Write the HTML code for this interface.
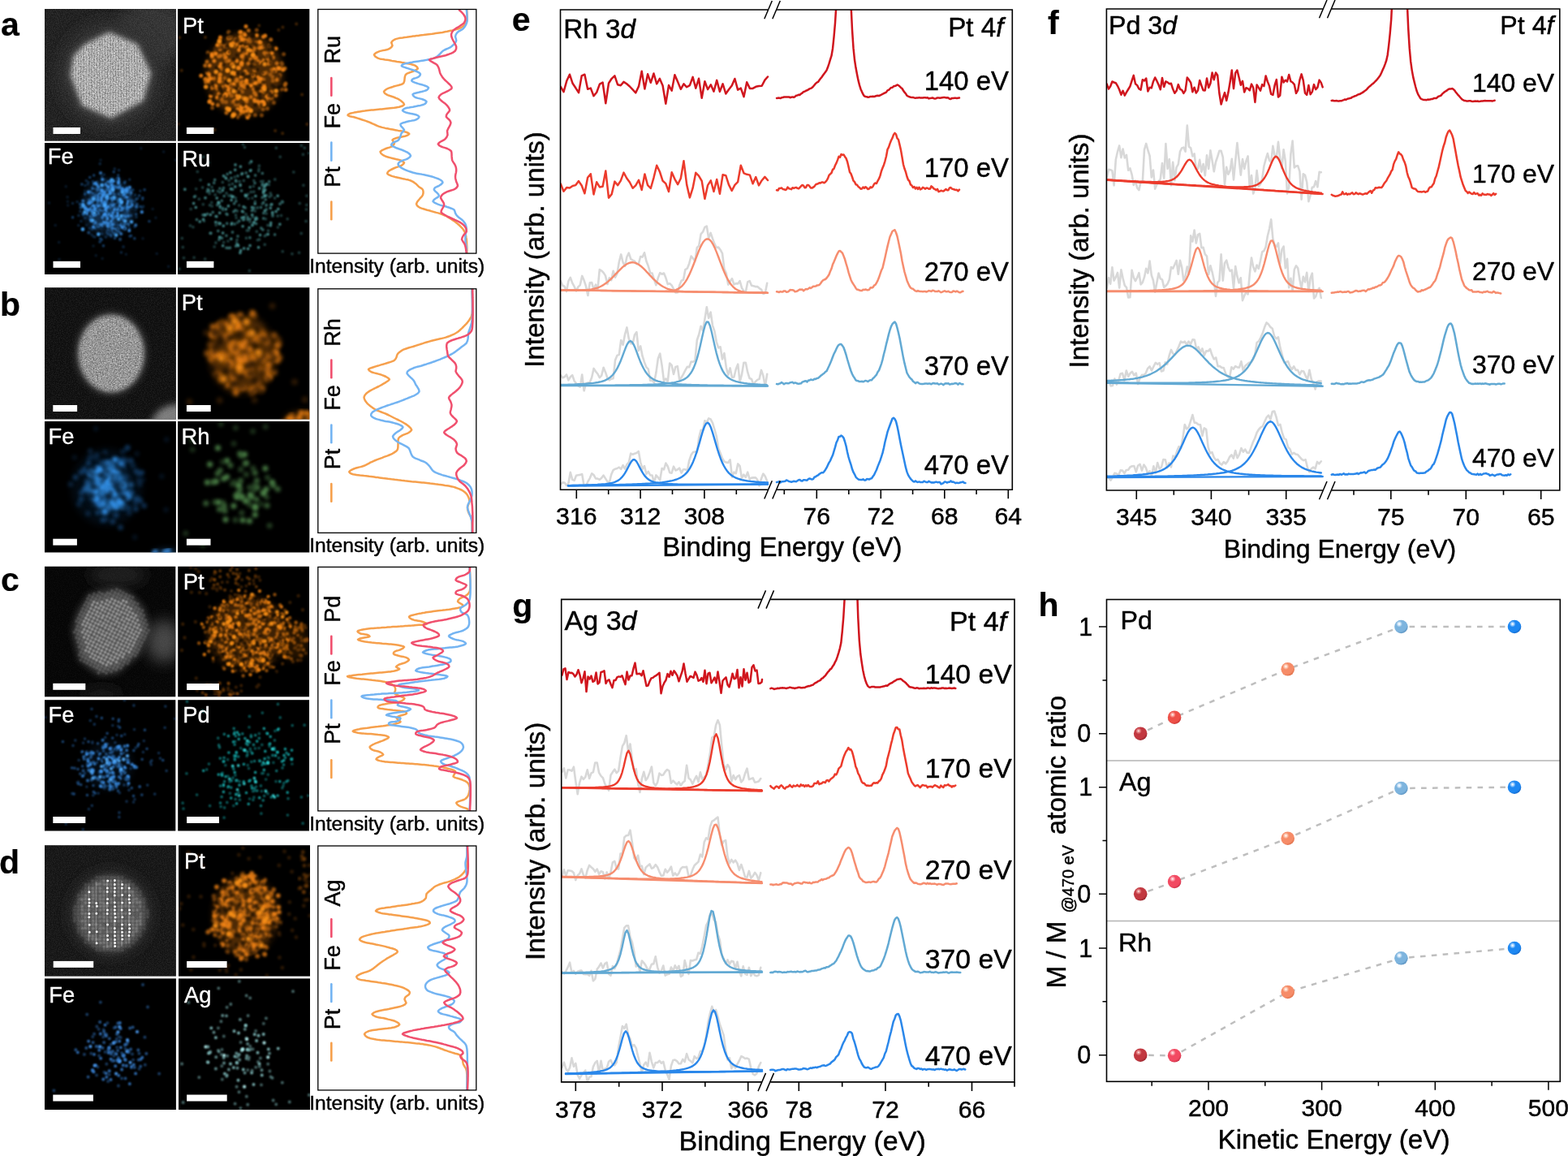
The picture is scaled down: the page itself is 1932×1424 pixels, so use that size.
<!DOCTYPE html>
<html lang="en">
<head>
<meta charset="utf-8">
<title>Figure</title>
<style>
html,body{margin:0;padding:0;background:#fff;}
body{width:1932px;height:1424px;overflow:hidden;}
svg{display:block;font-family:"Liberation Sans",Arial,Helvetica,sans-serif;}
text{stroke:#000;stroke-width:.45px;stroke-linejoin:round;}
text[fill="#fff"]{stroke:#fff;stroke-width:.35px;}
text[font-weight="bold"]{stroke-width:.2px;}
</style>
</head>
<body>
<svg xmlns="http://www.w3.org/2000/svg" width="1932" height="1424" viewBox="0 0 1932 1424">
<rect width="1932" height="1424" fill="#fff"/>
<defs><filter id="bl05" x="-20%" y="-20%" width="140%" height="140%"><feGaussianBlur stdDeviation="0.55"/></filter><filter id="bl07" x="-20%" y="-20%" width="140%" height="140%"><feGaussianBlur stdDeviation="0.8"/></filter><filter id="bl1" x="-20%" y="-20%" width="140%" height="140%"><feGaussianBlur stdDeviation="0.9"/></filter><filter id="bl12" x="-20%" y="-20%" width="140%" height="140%"><feGaussianBlur stdDeviation="1.25"/></filter><filter id="bl15" x="-20%" y="-20%" width="140%" height="140%"><feGaussianBlur stdDeviation="1.6"/></filter><filter id="bl2" x="-20%" y="-20%" width="140%" height="140%"><feGaussianBlur stdDeviation="2"/></filter><filter id="bl25" x="-20%" y="-20%" width="140%" height="140%"><feGaussianBlur stdDeviation="2.4"/></filter><filter id="bl3" x="-20%" y="-20%" width="140%" height="140%"><feGaussianBlur stdDeviation="2.6"/></filter><filter id="bl4" x="-50%" y="-50%" width="200%" height="200%"><feGaussianBlur stdDeviation="4"/></filter><filter id="bl8" x="-100%" y="-100%" width="300%" height="300%"><feGaussianBlur stdDeviation="9"/></filter><filter id="nzw" x="0" y="0" width="100%" height="100%"><feTurbulence type="fractalNoise" baseFrequency="0.75" numOctaves="2" seed="4"/><feColorMatrix type="matrix" values="0 0 0 0 1 0 0 0 0 1 0 0 0 0 1 2.6 0 0 0 -0.9"/></filter><filter id="gw" x="0" y="0" width="100%" height="100%"><feTurbulence type="fractalNoise" baseFrequency="0.6" numOctaves="2" seed="11"/><feColorMatrix type="matrix" values="0 0 0 0 1 0 0 0 0 1 0 0 0 0 1 4 0 0 0 -1.9"/></filter><filter id="gb" x="0" y="0" width="100%" height="100%"><feTurbulence type="fractalNoise" baseFrequency="0.6" numOctaves="2" seed="23"/><feColorMatrix type="matrix" values="0 0 0 0 0 0 0 0 0 0 0 0 0 0 0 4 0 0 0 -1.9"/></filter><pattern id="stripe" width="3.3" height="8" patternUnits="userSpaceOnUse"><rect x="0" y="0" width="1.5" height="8" fill="#000"/></pattern><pattern id="lat1" width="3.6" height="3.6" patternUnits="userSpaceOnUse" patternTransform="rotate(38)"><circle cx="1.8" cy="1.8" r="0.95" fill="#fff"/></pattern><pattern id="lat2" width="4.2" height="4.2" patternUnits="userSpaceOnUse"><circle cx="2.1" cy="2.1" r="1.15" fill="#fff"/></pattern></defs>
<clipPath id="ica1"><rect x="55" y="11" width="161.9" height="162.7"/></clipPath>
<rect x="55" y="11" width="161.9" height="162.7" fill="#1b1b1b"/>
<g clip-path="url(#ica1)" fill="none" stroke-linecap="round">
<ellipse cx="188" cy="40" rx="45" ry="40" fill="#303030" opacity="0.9" filter="url(#bl8)"/>
<ellipse cx="136" cy="92" rx="64" ry="66" fill="#2b2b2b" filter="url(#bl8)"/>
<path d="M103.3,53.2 134.5,37.6 170.6,53.2 188,90.5 178,125.4 137,147.7 99.6,131.6 84.7,93 88.5,68.1Z" fill="#5a5a5a" filter="url(#bl4)"/>
<mask id="ma1"><path d="M105,55.1 134.5,40.3 168.9,55.1 185.4,90.5 175.9,123.7 137,144.9 101.5,129.6 87.3,93 90.9,69.3Z" fill="#fff" filter="url(#bl3)"/></mask>
<g mask="url(#ma1)"><rect x="80" y="30" width="115" height="125" fill="#bcbcbc"/><rect x="80" y="30" width="115" height="125" fill="url(#stripe)" opacity="0.2"/><rect x="80" y="30" width="115" height="125" fill="#fff" opacity="0.5" filter="url(#gw)"/><rect x="80" y="30" width="115" height="125" fill="#000" opacity="0.3" filter="url(#gb)"/></g>
<rect x="55" y="11" width="161.9" height="162.7" fill="#fff" opacity="0.09" filter="url(#nzw)"/>
</g>
<rect x="65.5" y="157" width="33.5" height="8" fill="#fff"/>
<clipPath id="ica2"><rect x="219" y="11" width="162.3" height="162.7"/></clipPath>
<rect x="219" y="11" width="162.3" height="162.7" fill="#000"/>
<g clip-path="url(#ica2)" fill="none" stroke-linecap="round">
<ellipse cx="300.8" cy="91.6" rx="46.9" ry="50.6" fill="#FF8A12" opacity="0.3" filter="url(#bl4)"/>
<path d="M320.1,131.7h.01M348.1,164.3h.01M339.1,161.1h.01M223.7,86.8h.01M372.1,116.6h.01M365.2,29.4h.01M295.1,51.1h.01M307.3,104.4h.01M221.1,46.3h.01M264.4,160.1h.01M343.3,37h.01M348.4,33.6h.01M319.2,31.6h.01M219.3,152.8h.01M253,46.1h.01M378.4,152.9h.01" stroke="#FF8A12" stroke-width="4" opacity="0.25" filter="url(#bl12)"/>
<path d="M289.6,139.5h.01M314.4,141.8h.01M281.8,39.3h.01M287.5,108.7h.01M308.7,102.7h.01M345,92.6h.01M285.8,117.9h.01M287,125.5h.01M297.4,79h.01M300.7,41.1h.01M343.9,96.9h.01M311.8,92.3h.01M322.4,141.9h.01M349.6,66.7h.01M284.4,117.8h.01M334.7,121.1h.01M316.3,36.9h.01M326.1,109.2h.01M265.8,60.1h.01M272.4,82.7h.01M292,112.9h.01M281.5,39.8h.01M306.8,101.9h.01M280.2,106.5h.01M264.2,65.2h.01M347.4,109.9h.01M336.2,99.6h.01M295.2,39.7h.01M268.7,54.5h.01M329.5,133.7h.01M290.8,129.1h.01M334.7,86h.01M258.9,95h.01M284.7,103.6h.01M261.6,132.9h.01M271.3,91.7h.01M323.5,106.9h.01M274.4,125.4h.01M307.2,48h.01M274.5,124.4h.01M293.9,129.4h.01M288.5,138.6h.01M276.9,56.3h.01M300.6,136.8h.01M258.3,102.5h.01M278.5,125.7h.01M297.5,44.5h.01M331.6,56.2h.01M346.7,84.1h.01M324.1,134.8h.01M332.8,77.3h.01M298.2,69.3h.01M308,51.2h.01M270.1,59.1h.01M271.8,55.3h.01M262.3,107.7h.01M308.9,135.9h.01M277,96.2h.01M318.3,98.3h.01M304.2,101.3h.01M270.8,98.8h.01M304.3,141.3h.01M333.1,91.7h.01M337.4,126.5h.01M294,99h.01M272.5,82.7h.01M256.1,64.7h.01M316,52.4h.01M287.8,106.6h.01M347.1,77.8h.01M277.3,71h.01M330.6,117.5h.01M286.6,78.1h.01M277.9,116h.01M304.9,121.5h.01M347.7,79h.01M279,75.4h.01M276,107.3h.01M336.1,87.8h.01M331,122.9h.01M274.7,102h.01M335.7,94.7h.01M293.4,144.6h.01M298.6,113h.01M327.9,89.5h.01M277.1,58.7h.01M300.1,72.7h.01M272.4,85.1h.01M290.4,128.8h.01M299.6,49h.01M324.9,97.7h.01M330.1,64.8h.01M343.1,95.8h.01M290,48.4h.01M254.4,97.3h.01M314.4,71.9h.01M286.3,143.7h.01M289.1,56.9h.01M290.4,140h.01M263.7,97.1h.01" stroke="#FF8A12" stroke-width="5" opacity="0.45" filter="url(#bl12)"/>
<path d="M271,92.1h.01M305.9,78.2h.01M306.7,141.9h.01M341,98.6h.01M351,84.3h.01M313.8,70.1h.01M270.7,49.3h.01M288.3,141h.01M323.8,125.7h.01M293.1,83.6h.01M325.4,113h.01M261.4,69.9h.01M314.2,77.7h.01M271.7,68.7h.01M330.6,78.5h.01M324.9,127.8h.01M255.7,89.8h.01M297.7,131.7h.01M299.7,138.1h.01M303.8,124.9h.01M299,68.5h.01M334.6,113.2h.01M315.9,102.1h.01M325.8,65.3h.01M279,138.9h.01M319.5,98.7h.01M341.1,78.1h.01M342.6,83.8h.01M308.9,73.1h.01M303.5,122.8h.01M278.2,70.5h.01M321.1,52.4h.01M312.3,56.9h.01M269.6,69.5h.01M298.8,56.9h.01M303.8,102h.01M327.9,67.1h.01M253.6,101.2h.01M276.7,67.3h.01M312.3,109.7h.01M278.2,116h.01M300.1,120.4h.01M315.2,116.7h.01M351.9,102.9h.01M268.3,129.4h.01M255.8,100.3h.01M331.1,121.5h.01M298.1,69.3h.01M303.2,99.9h.01M258.9,123.9h.01M282.3,114.4h.01M296,45h.01M313.5,114.3h.01M281.5,64.5h.01M304.8,90.9h.01M291.6,97.8h.01M255,76.1h.01M312.1,99.8h.01M329.8,68.5h.01M301.3,103.9h.01M290.8,99.7h.01M296.8,103.3h.01M351.1,104.7h.01M269.4,115.5h.01M325.9,107.5h.01M336.5,70.8h.01M315.7,71.3h.01M262.2,95.1h.01M272.4,121.6h.01M289.4,124h.01M312,68.3h.01M340,117.6h.01M312.9,63.6h.01M301.3,107.6h.01M265.9,109.7h.01M297.4,80.1h.01M309.2,119.4h.01M275.6,106.4h.01M301.4,49h.01M303.1,51.3h.01M260.7,108.1h.01M295.4,49.9h.01M295.8,139.9h.01M320.1,100.7h.01M297.5,136.5h.01M304.1,50.2h.01M312.1,93.7h.01M333.7,48.7h.01M282.3,74.7h.01M298,97h.01M260.9,66.4h.01M280.2,87.3h.01M291.8,54.5h.01M321.7,112.3h.01M329.8,73.1h.01M306.3,37.4h.01M252.7,80.8h.01M313.7,59.1h.01M352.1,110.5h.01M252.5,97.5h.01" stroke="#FF8A12" stroke-width="5" opacity="0.65" filter="url(#bl12)"/>
<path d="M282.3,107.5h.01M272.2,78.9h.01M301,64.7h.01M348.7,85.9h.01M323.9,57.2h.01M318.5,57.7h.01M321.5,97h.01M319.4,77h.01M309.1,62.1h.01M271,60.2h.01M297.1,95.5h.01M313.5,123h.01M297.4,99.8h.01M256.9,98.8h.01M257.9,125.6h.01M287.3,53h.01M258.3,80.8h.01M284.5,54.5h.01M297.8,106.6h.01M261,67.9h.01M294.5,61.5h.01M297.9,77.2h.01M301.8,42.9h.01M283.5,46.4h.01M297.9,48.2h.01M320.9,75h.01M337.9,85.2h.01M284.2,106.4h.01M271.4,46.1h.01M288.1,103.4h.01M286.7,53.9h.01M318.4,75.2h.01M292,117.7h.01M319.8,127.5h.01M303.3,65.3h.01M324.5,45.3h.01M296.4,57.4h.01M324.2,74.4h.01M293,134.6h.01M317.8,95.2h.01M263.9,75.1h.01M266,66.3h.01M284.1,45.9h.01M326.7,44.1h.01M282.6,134.4h.01M306,133.7h.01M320.1,59.1h.01M309.4,105.6h.01M325.1,128.6h.01M296.6,39.6h.01M316.4,43.6h.01M267.8,55.9h.01M313.9,102.3h.01M276.3,118.2h.01M281.5,47h.01M270.4,82.4h.01M328.8,119.1h.01M247.7,93.2h.01M313.7,86.6h.01M295.9,109.4h.01M270.8,95.9h.01M281.3,110.8h.01M257.7,92h.01M292.6,121.4h.01M322.7,58.2h.01M304,136.9h.01M324.9,104.5h.01M338.9,87.6h.01M261.9,128h.01M302.2,87.9h.01M303.9,58.2h.01M270.3,100.4h.01M289.1,90.3h.01M265.6,105.9h.01M324.5,106.8h.01M289.1,91h.01M267.7,120.1h.01M335,65.6h.01M294.4,83.7h.01M259.5,118.6h.01M319.8,51.7h.01M303,32.5h.01M324.7,126.3h.01M324.9,90.6h.01M277.7,105h.01M291.8,74.9h.01M318,124.9h.01M340.1,59.8h.01M303.1,98.7h.01M285.8,80h.01M305,144.8h.01M314.1,124.6h.01M296.4,136.5h.01M322.8,125.2h.01M343.7,84.3h.01M281.3,65h.01M278.4,117.7h.01M302.9,131.2h.01M297.7,132h.01M259.2,96.9h.01" stroke="#FF8A12" stroke-width="5" opacity="0.85" filter="url(#bl12)"/>
<path d="M343.4,94h.01M264.9,59.4h.01M335.6,105.4h.01M296.6,98.2h.01M291,125.6h.01M276.8,119h.01M287.7,31.5h.01M294.2,112.7h.01M313.6,85.3h.01M269.1,85.4h.01M324.8,78.3h.01M320.1,116.1h.01M262.1,93.1h.01M314.9,97.6h.01M290.2,109.2h.01M293.6,139.3h.01M299.3,63.2h.01M271.3,118.4h.01M301.5,120.2h.01M317.8,77.8h.01M308.4,101.1h.01M311.4,92.3h.01M317,56.8h.01M286,81.6h.01M293.7,50.1h.01M316.9,85.8h.01M340.1,109.6h.01M260.7,102.6h.01M336.4,60.7h.01M310.7,75.6h.01M301.5,63.6h.01M302.7,52.1h.01M329.5,69.7h.01M296.5,146.7h.01M305,107.3h.01M264.5,111.5h.01M288.2,72.8h.01M287.4,56.8h.01M256,67.6h.01M262.7,93.2h.01M331,68h.01M310.3,44.7h.01M296.3,109h.01M321.3,73.3h.01M272.2,59h.01M304.5,60h.01M334.1,118.7h.01M345.6,107.2h.01M270.6,120.7h.01M276.6,108.5h.01M311.5,99.5h.01M309.5,81.6h.01M293.8,114.1h.01M329.1,68.3h.01M326.9,113.2h.01M275.5,79.8h.01M331.1,117.9h.01M284.9,95.3h.01M302.8,73.1h.01M338.1,88.4h.01M277.2,102.1h.01M280,102.5h.01M254.9,87h.01M326.7,76h.01M314.7,54.2h.01M333.3,77.5h.01M257.7,108.9h.01M291.7,136.9h.01M299.4,129.4h.01M315.8,109.8h.01M284.3,42.1h.01M315.1,108.7h.01M328.5,110.5h.01M321.7,128.7h.01M331.5,117.3h.01M343.4,107.3h.01M331.8,124h.01M277.1,61.1h.01M334.8,54.4h.01M314.2,77.5h.01M271.6,108.9h.01M276,52.1h.01M300.6,89.8h.01M325.5,56.4h.01M260.6,115.1h.01M296.8,53.7h.01M291.2,49.5h.01M299,91.7h.01M312.2,44.5h.01M266.6,83.3h.01M318,108.9h.01M304.2,140.8h.01M282.6,64.2h.01M300,97.1h.01M279.3,56.7h.01M275.5,103.5h.01M298,59.2h.01M262.7,106.5h.01M325,102.2h.01M306.5,93.9h.01M302.5,73.9h.01M312.4,55.4h.01M292.8,90.4h.01M270.3,59.3h.01M267.1,59.9h.01M345.6,97.8h.01M323.9,90h.01M326.1,111.4h.01M321.4,105.5h.01M287.3,136.3h.01M284.6,106.3h.01M292,68h.01M272.9,112.7h.01M257.6,104.9h.01M284.9,45.5h.01M331.5,56.6h.01M309.4,58.1h.01M331,62h.01M280,99.9h.01M281.7,46.3h.01M314.3,129.8h.01M332.7,114.9h.01M288.2,107.5h.01M320.6,120.6h.01M303.9,94.2h.01M315.2,64.9h.01M313.6,84.5h.01M337.8,107h.01M302.4,53.2h.01M334.2,71.4h.01" stroke="#000" stroke-width="4.5" opacity="0.5" filter="url(#bl12)"/>
<path d="M280.5,86.4h.01M311.7,67.8h.01M287.3,142h.01M308.9,136.6h.01M287.8,82.2h.01M281.6,135.2h.01M305.9,61.6h.01M286.3,89.7h.01M270.2,51.3h.01M266.2,88.5h.01M282.3,99.1h.01M340.2,112h.01M301.9,121.6h.01M326,79h.01M325.7,110.1h.01M288,112.6h.01M285.8,56.1h.01M279.9,133.7h.01M253.7,107.1h.01M295,119.3h.01" stroke="#FF9418" stroke-width="5.5" opacity="0.9" filter="url(#bl12)"/>
</g>
<text x="225" y="40.9" font-size="27.3" fill="#fff">Pt</text>
<rect x="229.9" y="157" width="33.5" height="8" fill="#fff"/>
<clipPath id="ica3"><rect x="55" y="176" width="161.9" height="162"/></clipPath>
<rect x="55" y="176" width="161.9" height="162" fill="#000"/>
<g clip-path="url(#ica3)" fill="none" stroke-linecap="round">
<path d="M188.1,257.4h.01M111.1,258.1h.01M191.9,268.3h.01M128.1,282.4h.01M154.6,241.7h.01M124,197.3h.01M126.1,318.4h.01M104.5,235.2h.01M152.7,271.7h.01M83.4,248.2h.01M173.8,182.7h.01M72.6,298.4h.01M201.6,186.9h.01M68.2,277.5h.01M101.1,282.4h.01M60.5,250h.01M81.2,229.8h.01M167.3,258.6h.01M193.2,312.4h.01M155.3,313.3h.01M83.7,252.9h.01M106.7,277.2h.01M73,319.4h.01M115,303h.01M207.6,328.3h.01M118.2,314.8h.01M216.4,197.1h.01M176,293.8h.01M129.1,221h.01M83.1,242.7h.01" stroke="#2C78C8" stroke-width="3.4" opacity="0.22" filter="url(#bl1)"/>
<path d="M159.9,245.2h.01M99.8,272.8h.01M112.9,264.2h.01M124.2,239h.01M105.8,257.3h.01M139.3,233h.01M115.2,291.4h.01M168,267.4h.01M130.3,292.1h.01M176.6,254.2h.01M140.6,288.6h.01M152,304h.01M127.4,277.4h.01M175.1,256h.01M172.8,235.3h.01M145.4,276.7h.01M150.3,264.2h.01M157.4,258.8h.01M159.7,221.2h.01M160.6,240.4h.01M110.3,281.1h.01M133.3,288.8h.01M142.8,264.8h.01M166,248.1h.01M154.4,223.6h.01M117,272.6h.01M106.2,222.5h.01M136.8,259.6h.01M118.2,246.6h.01M137.7,276.4h.01M118.1,226.7h.01M149.4,310.9h.01M159.6,281.3h.01M98.9,260.3h.01M108.2,226.9h.01M102.7,264.7h.01M165.9,279.5h.01M89.5,250.4h.01M125.3,288.3h.01M127.1,278.2h.01M101.9,263.9h.01M104.7,268.6h.01M139.3,269.2h.01M112.7,257.4h.01M156.5,261.7h.01M143.9,251.3h.01M112.9,289.1h.01M138.1,280.3h.01M157.9,238.5h.01M120,258.7h.01M117.9,225.1h.01M141.2,208h.01M129.7,252.2h.01M117,291.9h.01M113.3,282.7h.01M166.6,240.3h.01M125.5,217.5h.01M128.8,250.8h.01M135.7,237.2h.01M128.2,215h.01M96.8,265.5h.01M159.4,255.8h.01M123.2,201.7h.01M115.5,227.6h.01M146.5,209.8h.01M104.8,228.5h.01M175.6,245.7h.01M96.8,277.6h.01M169.9,244.2h.01M95.1,248.6h.01M108.9,224.4h.01M108.5,258.4h.01M114.3,223.4h.01M121.7,288.3h.01M152.2,262.1h.01" stroke="#2C78C8" stroke-width="3.4" opacity="0.35" filter="url(#bl1)"/>
<path d="M123.1,297.9h.01M136.9,290.8h.01M112,260.8h.01M133.7,284.9h.01M149.1,277.3h.01M140.2,211.8h.01M125.2,295.2h.01M122.4,259h.01M160,290.9h.01M158,276h.01M151.1,240h.01M142,254.7h.01M155.8,257.6h.01M173.1,254.4h.01M157.1,258.1h.01M89.6,267.8h.01M167.5,254.5h.01M131.7,267.7h.01M112.5,264.5h.01M162.8,247.2h.01M136.3,289.1h.01M151.4,270.4h.01M98.6,251.4h.01M120.6,228h.01M148.3,259.8h.01M132.7,259h.01M137.6,281.4h.01M116.6,258.1h.01M144.9,261.9h.01M160.7,234.9h.01M183.9,272.6h.01M171.6,240.9h.01M153.4,225.3h.01M140.3,277.9h.01M147.6,285.8h.01M163.7,233.9h.01M165.8,293.7h.01M156,232.3h.01M158.5,254.1h.01M178.1,233.7h.01M154.5,267.4h.01M110.7,218.5h.01M121,278.6h.01M144.2,274.8h.01M132.3,286.3h.01M167.9,245.2h.01M167.7,264h.01M149.8,267.8h.01M114.4,237.8h.01M130.2,227.3h.01M140.1,261.7h.01M175.8,243.8h.01M127.4,302.8h.01M118.6,258h.01M161.4,265.6h.01M141.5,293.4h.01M123.4,293.8h.01M105.4,256.6h.01M161,247.7h.01M145.6,215.9h.01M144,220.6h.01M144.9,285.1h.01M125.9,233.4h.01M135,262.8h.01M117.1,281.1h.01M115.7,216h.01M152,256h.01M104.7,239.2h.01M100.9,227h.01M161.5,290.4h.01M133.2,230.9h.01M132.8,284h.01M102.9,263.5h.01M123.3,238.4h.01M104.7,238.8h.01" stroke="#2C78C8" stroke-width="3.4" opacity="0.55" filter="url(#bl1)"/>
<ellipse cx="134" cy="255" rx="31.3" ry="34" fill="#3C96F0" opacity="0.3" filter="url(#bl4)"/>
<path d="M162.3,250.7h.01M115.8,255.4h.01M115.5,258.7h.01M154.2,276.3h.01M108.9,250.4h.01M125.8,250.4h.01M152.7,276.9h.01M145.8,225.5h.01M135.7,233.2h.01M140.3,286h.01M128.7,238.4h.01M140.2,228.9h.01M147.9,253.5h.01M119.9,246.5h.01M136.6,278.1h.01M117.5,241.2h.01M119.7,233.3h.01M125.9,235.6h.01M145.3,257.9h.01M120.9,233.7h.01M140.8,238.3h.01M124.7,233.8h.01M136.9,252.3h.01M143.1,245.6h.01M142.6,230.2h.01M121,231.2h.01M151.5,253.9h.01M131.2,248.1h.01M140.3,245.4h.01M99.7,255.4h.01M126.1,267.5h.01M148,294.8h.01M153.8,235.5h.01M156.7,238.2h.01M139.1,284.3h.01M141.7,266.4h.01M130.2,250.6h.01M133,279.2h.01M155,266.4h.01M114.7,243.2h.01M139.6,230.5h.01M137.7,246.9h.01M157.7,277.4h.01M153.7,238.2h.01M150.5,232.1h.01M136.6,224.2h.01M119.3,258h.01M120.6,258.4h.01M168.6,251.8h.01M131.5,233.8h.01M107.7,259.7h.01M138,269.7h.01M114,248.6h.01M147,246.7h.01M129.2,263h.01M109.3,286.6h.01M161.9,250.5h.01M141.5,269.3h.01M128.2,265.8h.01M130.3,270.3h.01M139.8,262.8h.01M119.1,252.7h.01M136.2,237.8h.01M146.2,248.7h.01M154.3,244.4h.01M119.6,250.9h.01M134.9,233.9h.01M130.2,257h.01M131.7,275.9h.01M156.5,255.8h.01M158.1,234h.01M111.5,236.5h.01M138.7,235h.01M110.2,246.3h.01M126.2,277.3h.01M168.6,254.9h.01" stroke="#3C96F0" stroke-width="4.2" opacity="0.45" filter="url(#bl1)"/>
<path d="M139,253.3h.01M145.4,231.3h.01M133.6,264.3h.01M152.4,280.4h.01M138,266.8h.01M146.8,230.9h.01M154,234h.01M117.7,264.4h.01M113.4,273.1h.01M128.8,248.9h.01M140.1,281.1h.01M134,275.1h.01M113.5,260.9h.01M130.9,273.8h.01M122.7,254.4h.01M116.3,226.1h.01M152.8,239.9h.01M122.6,250.5h.01M112,248.8h.01M148.4,229h.01M127.3,268.5h.01M127.9,276.5h.01M111.6,271.2h.01M111.6,249h.01M126.8,241.2h.01M153.3,282.2h.01M132.6,278.2h.01M149.2,288h.01M144.3,257.8h.01M143,282.4h.01M147.1,253.3h.01M157.4,254.6h.01M156.1,236.3h.01M130.9,243.4h.01M167.2,277.3h.01M158,266h.01M162.7,252.8h.01M114.6,231.9h.01M126.8,255h.01M124,213.2h.01M139.3,262.7h.01M120.5,258.5h.01M136.4,223.7h.01M115.3,256.2h.01M118.4,258.8h.01M137.3,244.4h.01M121.2,229.4h.01M140.5,252.2h.01M121.2,241h.01M150.7,232.9h.01M145.3,244.6h.01M145.2,282h.01M121.5,247.8h.01M119.8,225.2h.01M123.5,276.7h.01M102.3,247.5h.01M129.1,239.4h.01M117.5,274.4h.01M115.8,274.6h.01M130.5,267.5h.01M129.2,264.6h.01M122.1,262.5h.01M156.8,232.2h.01M123.8,255.2h.01M138.8,276h.01M120.8,243.9h.01M161.4,237.5h.01M135.1,236.2h.01M147.5,239.3h.01M126.7,229.1h.01M128.1,264.8h.01M150.2,259.2h.01M126.3,276.5h.01M136.4,257h.01M120.7,277.9h.01M115.4,253.4h.01" stroke="#3C96F0" stroke-width="4.2" opacity="0.7" filter="url(#bl1)"/>
<path d="M129.8,258h.01M144.6,263.1h.01M138.7,230.9h.01M149.5,276.9h.01M137.1,265.8h.01M128.2,273.4h.01M132.5,238.8h.01M159.2,284.1h.01M159.8,230.9h.01M123,260h.01M156.5,242.5h.01M104.6,255.3h.01M144,265.9h.01M139.9,223.4h.01M137.5,227.7h.01M137.2,272.8h.01M156.2,242.6h.01M160.2,253.9h.01M113.7,256.1h.01M105.5,257.3h.01M155.7,234.6h.01M140.6,276h.01M132.6,269.4h.01M145.8,225.2h.01M131,257.3h.01M129.2,234.9h.01M124.8,247.8h.01M138.5,231.6h.01M133.3,254.6h.01M140.4,258.4h.01M157.3,248h.01M150.9,235.2h.01M114.9,265.2h.01M150.7,280.6h.01M122.9,239.9h.01M133.4,230.1h.01M128.7,251.6h.01M135.1,238h.01M132.4,245.1h.01M118.2,258.1h.01M152.7,264.7h.01M129.2,264.3h.01M174.8,261.2h.01M125.6,260.1h.01M112.3,266.3h.01M150.6,255.8h.01M126.2,221.1h.01M150.5,248.8h.01M145,265.9h.01M118.7,226.6h.01M124.9,245.5h.01M108.6,258.6h.01M157.1,251.2h.01M121.4,254.4h.01M126.5,240.1h.01M129.7,255.4h.01M115,279.7h.01M107.7,263h.01M114.8,254.6h.01M125.8,235.2h.01M129.1,236.4h.01M112.4,257.2h.01M143.6,256h.01M146,222.8h.01M145.8,220.2h.01M154,280.8h.01M140.6,273h.01M137.7,270.6h.01M108.9,236.6h.01M110.1,250.1h.01M102.1,251.6h.01M131.6,259.8h.01M130.2,255.8h.01M133.4,224.6h.01M131.2,227.3h.01M125,243.3h.01" stroke="#3C96F0" stroke-width="4.2" opacity="0.9" filter="url(#bl1)"/>
<path d="M148.3,238.2h.01M144.5,234.5h.01M132.7,226h.01M120.1,258.6h.01M144.1,220.5h.01M126.7,256.5h.01M117.4,262.3h.01M100.5,234.5h.01M140.2,273.5h.01M123.1,260.8h.01M114.2,273.9h.01M150.6,228.3h.01M112.8,266.1h.01M124.1,262.8h.01M132.1,237.5h.01M123.3,227.3h.01M153.8,246h.01M150.2,275.9h.01M151.7,253.5h.01M162.7,260.4h.01M108,272.4h.01M128.7,270.5h.01M133.6,259.4h.01M110.6,262.8h.01M143,254.1h.01M128,282.1h.01M121.9,291.6h.01M149.3,266.2h.01M127.2,230.1h.01M153,263.4h.01M142.5,236.7h.01M129.3,233.6h.01M112.3,275.7h.01M115.7,230.2h.01M151.5,261.6h.01M125.7,260.9h.01M127.6,283.2h.01M152.9,250.9h.01M150.1,263.1h.01M162.8,272.6h.01M142.2,248.1h.01M142.6,271.2h.01M136,269.6h.01M135.1,247.5h.01M123.9,255.6h.01M148.5,239.2h.01M153.7,281.5h.01M123.5,290.4h.01M128.2,283.3h.01M113.5,256.2h.01M146,274.5h.01M120.7,277.9h.01M141.4,278.9h.01M140.2,272.2h.01M148.6,262.5h.01M156.6,278.3h.01M129.1,268.3h.01M133.2,216h.01M117.3,249.6h.01M121.4,224.7h.01M157.5,240h.01M128.3,278.1h.01M149.8,283.3h.01M159.3,252.3h.01M140.5,284.4h.01M145.9,242.5h.01M129.7,281.7h.01M120.8,257.1h.01M141.9,263.5h.01M142.1,226.1h.01M108,242.4h.01M146.7,245.5h.01M115.4,235.2h.01M143.6,220.6h.01M100,275.8h.01M120.8,224h.01M110.1,263.8h.01M145,282h.01M143.7,244.6h.01M122.9,284.9h.01M128.3,284.9h.01M144.5,252.2h.01M137.3,257.7h.01M152.8,285.1h.01M133.2,285.3h.01M143.6,255.5h.01M154.3,248.3h.01M123.2,240.5h.01M142.7,275.2h.01M122.6,250h.01" stroke="#000" stroke-width="3.8" opacity="0.55" filter="url(#bl1)"/>
<path d="M129.2,253h.01M115.7,244.7h.01M113.9,271.5h.01M116.2,262.2h.01M132,242h.01M143.1,289.6h.01M121.3,288.6h.01M104.5,261.4h.01M154.1,272.3h.01M149.5,266.1h.01M137.7,221.6h.01M148,246h.01M162,273.3h.01M125.4,228h.01M140.5,243.4h.01M138.9,233.7h.01M102,282.4h.01M102.5,253.6h.01M150.7,236.7h.01M146.1,269.8h.01M114.8,245.4h.01M149.3,249.4h.01" stroke="#48ACFF" stroke-width="4.6" opacity="0.9" filter="url(#bl1)"/>
</g>
<text x="58.8" y="201.8" font-size="27.3" fill="#fff">Fe</text>
<rect x="65.5" y="321.8" width="33.5" height="8" fill="#fff"/>
<clipPath id="ica4"><rect x="219" y="176" width="162.3" height="162"/></clipPath>
<rect x="219" y="176" width="162.3" height="162" fill="#000"/>
<g clip-path="url(#ica4)" fill="none" stroke-linecap="round">
<path d="M373.9,228.3h.01M275.6,298.5h.01M377.4,258.1h.01M348.2,309.8h.01M270.1,276h.01M371.3,179.3h.01M239.1,317.3h.01M310.9,244h.01M347.7,247.9h.01M241.6,232.7h.01M342.4,280h.01M299.4,177.8h.01M380.7,188.8h.01M264.1,304h.01M371.2,287.5h.01M281,296.9h.01M327.4,269.7h.01M346.5,265.5h.01M306.3,217.8h.01M345.2,193.3h.01M234.4,278h.01M226.5,317.7h.01M250.3,251.7h.01M261.2,254.1h.01M319,207.9h.01M307.3,333.6h.01M243.3,211.4h.01M250.7,193.3h.01M221,331.3h.01M375.3,182.3h.01M354.2,269.8h.01M252.7,319h.01M237.9,279.7h.01M328.1,289.2h.01M257.4,200.2h.01M321.4,223.6h.01M317.3,295.8h.01M224.3,293.5h.01M377.9,241.3h.01M312.3,229.4h.01M361.8,212h.01M235.2,257.4h.01M291.1,268.4h.01M252.1,326.4h.01M305.7,239h.01M340.3,182.2h.01M368.5,311.2h.01M260.7,249.4h.01M225.3,304.4h.01M377,272.6h.01M377.8,252.5h.01M359.9,312.7h.01M369.2,250.4h.01M301.5,181.6h.01M373.4,190.3h.01" stroke="#52A8A8" stroke-width="3.5" opacity="0.4" filter="url(#bl1)"/>
<path d="M258.1,235.5h.01M292.3,259.9h.01M269.1,274.5h.01M332,242.4h.01M292,295.4h.01M310.5,277.4h.01M272.1,236.6h.01M290.4,244.1h.01M338.8,220.9h.01M318.7,210.8h.01M303.1,264h.01M328.1,263h.01M274.3,224.5h.01M271.5,256.2h.01M331.3,227.5h.01M247,221.8h.01M347,249.5h.01M319.6,295.1h.01M330,277.6h.01M334.3,240.7h.01M289.3,217.9h.01M314.2,259.9h.01M282.5,227.7h.01M258.9,287.2h.01M309.3,209.4h.01M252.1,265.1h.01M311.4,267.2h.01M300.3,222.6h.01M268.4,235.6h.01M265.9,298.9h.01M305.9,244.6h.01M251.5,272.2h.01M261,230.5h.01M309.2,236.4h.01M315.8,268h.01M249.6,230.9h.01M304.3,283.9h.01M282,222.2h.01M330.5,284.2h.01M294.7,253h.01M277.6,218.2h.01M291.5,298.9h.01M245.3,245.2h.01M290.5,265h.01M299.5,270.9h.01M323.1,251.3h.01M295,223.6h.01M314.3,248.2h.01M338.6,243.9h.01M333.4,252.5h.01M265.1,239.9h.01M348.5,249.1h.01M316.3,285.2h.01M326.1,228.3h.01M312.3,274.5h.01M317.7,255.7h.01M312.8,222.6h.01M300,261.2h.01M278.7,263.2h.01M307.9,273.2h.01M291.8,301.6h.01M240.7,241.6h.01M319.3,204.3h.01M312.8,236.2h.01M270.9,237.1h.01M316.8,256h.01M271.2,292.6h.01M326.2,290.8h.01M303.4,293.2h.01M274.8,258.8h.01M328.5,240.6h.01M286.5,226.4h.01M306.3,283.7h.01M258.5,252.8h.01M333.2,238h.01M324.1,223.2h.01M258.1,238.5h.01M342.2,266h.01M266.1,277.2h.01M291,223.7h.01M279,238.1h.01M324.5,236.1h.01M326.2,301.2h.01M292.4,274.2h.01M307.6,201h.01M281.9,241h.01" stroke="#52A8A8" stroke-width="3.5" opacity="0.45" filter="url(#bl1)"/>
<path d="M321.5,255.6h.01M278.9,290.2h.01M262.2,261.4h.01M275.5,231.6h.01M315.6,275.6h.01M280,264.2h.01M270.9,232.2h.01M268.8,284.6h.01M310.4,259.4h.01M300.5,270.2h.01M324.5,238.1h.01M283.5,305.2h.01M290.6,222.3h.01M336,266h.01M324.8,262.4h.01M278.9,305.3h.01M327.2,245.7h.01M286.7,233.3h.01M305.1,270.6h.01M276.2,241.5h.01M316.6,269.5h.01M331.6,223.8h.01M290.6,303.2h.01M270,250.6h.01M269.2,249.4h.01M297.5,235.1h.01M328.2,258h.01M293,291.1h.01M273.5,293.2h.01M302.2,255.9h.01M311.3,277.3h.01M274.5,256.6h.01M314.6,216h.01M321.8,280.9h.01M264.7,221.5h.01M324.5,233.1h.01M308,270.1h.01M263.7,225.3h.01M311.5,258.4h.01M323.3,213.6h.01M290,259h.01M281.5,305.4h.01M286.5,286h.01M324.6,269.1h.01M284.7,241.1h.01M269.9,295.2h.01M324.6,249.5h.01M326,241.2h.01M255.6,263.4h.01M285,219.5h.01M256,233.2h.01M323.1,228.3h.01M242.4,270.4h.01M312.9,256h.01M323.5,226.5h.01M289,275.9h.01M305,267.4h.01M239.4,242.4h.01M328,252.9h.01M323.9,283.1h.01M302.8,241.8h.01M338.6,288.9h.01M292.9,216.7h.01M314,225.5h.01M259.9,287.3h.01M290.8,247.7h.01M273.2,247.2h.01M280.1,214.4h.01M279.7,275.3h.01M256.9,233.9h.01M288.6,250.7h.01M303.2,213h.01M328.3,252.5h.01M294.7,272.3h.01M287.9,260.8h.01M307.9,292.8h.01M250,264.8h.01M287.7,242.3h.01M255.4,236.1h.01M267.7,252.4h.01M315.2,268.8h.01M344.9,251.2h.01M327.2,228.1h.01M335.8,264.1h.01M308.2,230.5h.01M323.2,243.2h.01" stroke="#52A8A8" stroke-width="3.5" opacity="0.65" filter="url(#bl1)"/>
<path d="M270.7,262.3h.01M265.8,273.7h.01M284.8,294.3h.01M326.3,259.8h.01M300.1,254.7h.01M313.1,274.1h.01M314.2,250.9h.01M298.5,260.2h.01M257.3,227.5h.01M297.9,214.4h.01M295.9,311.6h.01M227.8,233.3h.01M253,243.7h.01M274.6,302.7h.01M310.5,255.4h.01M299.1,278.8h.01M344.8,276.3h.01M309.6,198.9h.01M330.2,288.5h.01M303.6,240.8h.01M289.7,209.2h.01M325.8,230h.01M334.8,251.8h.01M328.6,226.8h.01M320.5,289.4h.01M300.7,267.6h.01M252.8,264.7h.01M325,235.9h.01M293.6,302.7h.01M340.1,260.5h.01M318.5,304.7h.01M281.4,253.8h.01M333.3,277.7h.01M298,268.2h.01M296.1,228.4h.01M285.7,274.9h.01M267.2,244.1h.01M269.3,249.4h.01M241.3,255.5h.01M259.3,264.6h.01M270.6,292.3h.01M246.2,273h.01M333.3,256.2h.01M289.8,230.1h.01M333.7,274.4h.01M326.5,241.3h.01M275.5,216.7h.01M278.6,219.7h.01M292.9,301.6h.01M274.4,234.5h.01M296.6,308.6h.01M262.3,235h.01M314.8,270.5h.01M278.3,257.8h.01M333.5,277.6h.01M310.7,264.8h.01M238.6,250.4h.01M271.1,254.2h.01M302.3,240.3h.01M290,203h.01M266.8,266.8h.01M296.1,227.6h.01M314.9,241.5h.01M285.3,276.2h.01M285.1,246.4h.01M286.1,242.5h.01M284.5,232.7h.01M307.1,280.6h.01M283.9,212.5h.01M271.2,275.2h.01M319.6,231.9h.01M266.1,266.5h.01M335.7,261.8h.01M250.5,270.3h.01M342.2,241.2h.01M275.3,278.2h.01M308.4,210.2h.01M300.6,305.9h.01M274.6,286.9h.01M342.8,257.6h.01M326.7,233.9h.01M305.6,306.4h.01M305.4,217.3h.01M298.5,213.7h.01M296.4,205.3h.01M308,302.6h.01" stroke="#52A8A8" stroke-width="3.5" opacity="0.85" filter="url(#bl1)"/>
</g>
<text x="224.2" y="205.3" font-size="27.3" fill="#fff">Ru</text>
<rect x="229.9" y="321.8" width="33.5" height="8" fill="#fff"/>
<clipPath id="icb1"><rect x="55" y="354.2" width="161.9" height="162.3"/></clipPath>
<rect x="55" y="354.2" width="161.9" height="162.3" fill="#0d0d0d"/>
<g clip-path="url(#icb1)" fill="none" stroke-linecap="round">
<ellipse cx="137" cy="435.5" rx="43" ry="50" fill="#4c4c4c" filter="url(#bl4)"/>
<mask id="mb1"><ellipse cx="137" cy="435.5" rx="40" ry="47" fill="#fff" filter="url(#bl3)"/></mask>
<g mask="url(#mb1)"><rect x="85" y="378" width="105" height="115" fill="#969696"/><rect x="85" y="378" width="105" height="115" fill="#fff" opacity="0.4" filter="url(#gw)"/><rect x="85" y="378" width="105" height="115" fill="#000" opacity="0.3" filter="url(#gb)"/></g>
<circle cx="218" cy="532" r="34" fill="#7a7a7a" filter="url(#bl4)"/>
<rect x="55" y="354.2" width="161.9" height="162.3" fill="#fff" opacity="0.07" filter="url(#nzw)"/>
</g>
<rect x="65.3" y="499" width="29.8" height="8" fill="#fff"/>
<clipPath id="icb2"><rect x="219" y="354.2" width="162.3" height="162.3"/></clipPath>
<rect x="219" y="354.2" width="162.3" height="162.3" fill="#000"/>
<g clip-path="url(#icb2)" fill="none" stroke-linecap="round">
<ellipse cx="298.7" cy="437" rx="41.4" ry="47.8" fill="#FF8A12" opacity="0.3" filter="url(#bl4)"/>
<path d="M233.4,495.1h.01M335.5,376.9h.01M362.9,470.4h.01M254.1,410h.01M329.3,455.6h.01M313.6,492.7h.01M270.6,493.2h.01M375.6,492.3h.01" stroke="#FF8A12" stroke-width="7.5" opacity="0.2" filter="url(#bl25)"/>
<path d="M278.4,446.8h.01M292.1,423.6h.01M295.1,452.2h.01M259.1,424.9h.01M272.2,467.9h.01M285.7,462.6h.01M318.1,473.1h.01M261.4,438h.01M321.5,481.3h.01M310.6,436.1h.01M344.1,422.9h.01M310.7,386.7h.01M260,425.3h.01M332.6,455.1h.01M308.1,479.8h.01M278.1,444.9h.01M295,436.8h.01M276,468.5h.01M296.7,401.6h.01M268.2,408.4h.01M299.8,455.4h.01M300.1,399.1h.01M321.4,454.3h.01M273.8,396.2h.01M339.8,434.9h.01M317.3,420h.01M342.7,418.1h.01M284.4,401.1h.01M329.9,467.5h.01M313.8,389h.01M297.2,410h.01M323,409.4h.01M266.2,460.8h.01M274.6,466.4h.01M285.5,429.7h.01M283.6,435.7h.01M301.9,396h.01M300.5,427.8h.01M295.4,399.9h.01M270.7,407.3h.01M313.3,477.5h.01M278.3,444.5h.01M285.4,451.5h.01" stroke="#FF8A12" stroke-width="7.5" opacity="0.35" filter="url(#bl25)"/>
<path d="M271.2,406.8h.01M290.5,476.9h.01M309.4,461.3h.01M289.4,463.8h.01M309.8,483.8h.01M261.9,413.5h.01M337.9,458.6h.01M310.8,439.4h.01M323.9,444.3h.01M283.2,426h.01M255.3,435.3h.01M265.5,413h.01M331.6,464.3h.01M269.4,438.8h.01M259.7,442.9h.01M295.7,424h.01M276.4,414.8h.01M325.2,414h.01M278,416.2h.01M334.1,437.9h.01M287,467.6h.01M269.4,399.7h.01M296.3,444.9h.01M323.2,478.6h.01M340.1,434.1h.01M278.3,438.5h.01M329.4,438.5h.01M337.9,413.1h.01M269.6,444.4h.01M283.6,411.5h.01M305.4,411.8h.01M289.6,433.9h.01M279.6,413.3h.01M328.5,421.3h.01M271.7,462.6h.01M294.6,404.6h.01M294.3,450.1h.01M267.3,437.6h.01M344.3,440.4h.01M316,415h.01M273.9,435.3h.01M286.3,391.3h.01M313.2,419.9h.01" stroke="#FF8A12" stroke-width="7.5" opacity="0.55" filter="url(#bl25)"/>
<path d="M310.7,385.9h.01M282.2,398.5h.01M302.9,442.9h.01M308.3,430.1h.01M297.9,402.8h.01M291.6,404.8h.01M302.8,445.1h.01M293.3,397.7h.01M341.8,425.7h.01M262.4,432.8h.01M286.3,421h.01M267.5,438.2h.01M263.9,435h.01M338.5,436h.01M290.9,483.8h.01M294.5,459.3h.01M321.6,439.9h.01M270.7,401.9h.01M330.9,449.6h.01M341.4,444.1h.01M262.4,402.8h.01M261.2,411.4h.01M295.7,445h.01M308.4,454h.01M328.1,459.2h.01M313.2,480.2h.01M299.8,477.7h.01M287,429.3h.01M279.5,473.4h.01M293.4,441.6h.01M312.9,443.3h.01M321.7,416.1h.01M296,388.5h.01M285.7,390.4h.01M298.5,426.3h.01M291.3,431h.01M302.1,439.2h.01M331.1,464.7h.01M284.7,447.5h.01M303.2,460.2h.01M302,421.1h.01M279.7,399.3h.01M282.5,446.1h.01" stroke="#FF8A12" stroke-width="7.5" opacity="0.75" filter="url(#bl25)"/>
<path d="M289.8,429.3h.01M271.2,399.9h.01M314.1,468.6h.01M261.1,455h.01M294.5,409.7h.01M269.3,445.6h.01M322.4,482.6h.01M315,427.6h.01M300.6,401.5h.01M269.1,443.1h.01M297.7,487.4h.01M282.4,416.5h.01M274.3,404.9h.01M296,412.7h.01M300.8,394.3h.01M303.1,487.4h.01M293.5,464.2h.01M331.4,402h.01M290.9,473.7h.01M323.9,438.6h.01M283.6,393.2h.01M310.2,484h.01M286.4,415.3h.01M338,440.5h.01M324.6,459.7h.01M322.4,416.8h.01M326.9,418.4h.01M297.1,411.1h.01M265.9,410.6h.01M309.1,452.4h.01M274.9,474.2h.01M274.4,469.2h.01M264.4,412.2h.01M275.3,464.6h.01M273.3,476.7h.01M323.3,417.1h.01M270.3,422.6h.01M334.9,435.1h.01M253.7,448.7h.01M314.8,479.3h.01M320.8,443.6h.01M289,461.2h.01M287.4,472.6h.01M264.6,428.7h.01M304.5,383.9h.01M305.2,450.4h.01M266.7,462.9h.01M262.9,409.2h.01M315.1,406.8h.01M330.4,466.3h.01M296.8,392.2h.01M264.4,433.6h.01M277.9,469.6h.01M302.9,485.2h.01M310.7,460.6h.01M273.3,418.7h.01M277.5,457.4h.01M333.1,471.5h.01M299.3,476.2h.01M294.4,412.1h.01M271.6,416.4h.01M298.2,463.6h.01M280.8,448.8h.01M338,454h.01M313.2,424h.01M307,460.2h.01M270.4,408.2h.01M313.5,469.6h.01M283.8,397.5h.01M312.5,446.7h.01" stroke="#000" stroke-width="6.8" opacity="0.6" filter="url(#bl25)"/>
<path d="M289.1,395.8h.01M303.6,396.5h.01M283.3,404.6h.01M310.4,410.2h.01M318.4,434.2h.01M295.1,453.1h.01M272.5,441.2h.01M275.3,466.9h.01" stroke="#FF9418" stroke-width="8.2" opacity="0.9" filter="url(#bl25)"/>
<ellipse cx="372" cy="520" rx="22.1" ry="12.9" fill="#FF8A12" opacity="0.3" filter="url(#bl4)"/>
<path d="M383,528.4h.01M357.2,520.2h.01M373.8,531.2h.01M385.4,518.3h.01M349.3,520.2h.01M380.6,515.7h.01M353.6,523h.01M376.6,526.9h.01M366.6,527.3h.01M389.6,516.4h.01M359.2,511.7h.01M367.4,518.7h.01" stroke="#FF8A12" stroke-width="7" opacity="0.5" filter="url(#bl2)"/>
<path d="M355.6,515.8h.01M363.1,526.8h.01M371.3,508.6h.01M358.9,519.5h.01M359.8,516.9h.01M378.4,509h.01M377.9,532.1h.01M348.6,524.3h.01M368.8,514.5h.01M385.3,520.5h.01M378.1,528.6h.01M385.3,511.7h.01" stroke="#FF8A12" stroke-width="7" opacity="0.8" filter="url(#bl2)"/>
</g>
<text x="223.8" y="382.3" font-size="27.3" fill="#fff">Pt</text>
<rect x="229.9" y="499" width="29.8" height="8" fill="#fff"/>
<clipPath id="icb3"><rect x="55" y="519" width="161.9" height="161.5"/></clipPath>
<rect x="55" y="519" width="161.9" height="161.5" fill="#000"/>
<g clip-path="url(#icb3)" fill="none" stroke-linecap="round">
<ellipse cx="131.7" cy="600.2" rx="44.2" ry="47.8" fill="#1E5C9C" opacity="0.12" filter="url(#bl4)"/>
<path d="M91.8,563.5h.01M146.3,567.9h.01M168.7,559.1h.01M155.9,553h.01M166.1,661.8h.01M199.3,586.7h.01M205.1,541.5h.01M118.6,565.1h.01M118.1,528h.01M113.3,615.3h.01M176.4,590.8h.01M204.5,628h.01" stroke="#1E5C9C" stroke-width="6.5" opacity="0.2" filter="url(#bl2)"/>
<path d="M129.4,557.5h.01M108.3,632.6h.01M112.6,563h.01M169.8,613.3h.01M158.7,589.8h.01M155.2,588.4h.01M125.3,621h.01M117.5,577h.01M163.8,573.6h.01M152.5,625.4h.01M151.5,556.1h.01M110.2,564.6h.01M111.1,555.4h.01M130.2,583.1h.01M124.7,581h.01M137.9,612.9h.01M148.2,598.9h.01M117,619.3h.01M127.7,568.8h.01M128.2,631.3h.01M103.9,576.9h.01M141.5,589.1h.01M130.6,639.4h.01M86.9,596.4h.01M114.6,618.1h.01M121,577.2h.01M167.1,620.3h.01M104.2,601h.01M159.3,631.7h.01M122.3,620.6h.01M119.4,560.4h.01M160,605h.01M130.7,569.7h.01M149.3,571.7h.01M157.1,610.7h.01M123.4,610.6h.01M171.2,584.1h.01M148.9,605.1h.01M134.7,625.9h.01M172.4,596.2h.01M171.5,592.1h.01M97.2,620.9h.01M138.5,595.1h.01M138.9,606.6h.01M125.7,569.9h.01" stroke="#1E5C9C" stroke-width="6.5" opacity="0.35" filter="url(#bl2)"/>
<path d="M109.1,582.1h.01M167.9,580.4h.01M167,614.9h.01M137.2,606.4h.01M107.3,593.7h.01M100,615.1h.01M104.7,579.9h.01M126.6,640.7h.01M143.3,595h.01M174.7,582.2h.01M138.8,642.5h.01M177.6,622.9h.01M117.2,620.3h.01M119.8,616.3h.01M162.8,607.2h.01M118.8,596.3h.01M112.3,606h.01M143.1,634.7h.01M100.3,607h.01M147,587.1h.01M152,575.3h.01M172.9,616.7h.01M127.1,606.2h.01M157.3,551.3h.01M129.6,615.1h.01M117.4,602.7h.01M120.5,631.2h.01M136,569.8h.01M151.7,566.2h.01M122.6,622h.01M161.3,567.6h.01M134.4,603.5h.01M156.9,614.8h.01M167.4,627h.01M125.4,617.9h.01M103.6,604.4h.01M158,625.7h.01M146.3,566.9h.01M148.5,649.8h.01M93,587.9h.01M109.1,570.8h.01M152.9,606.6h.01M100,581.7h.01M154.3,567.6h.01M103.2,604.3h.01" stroke="#1E5C9C" stroke-width="6.5" opacity="0.55" filter="url(#bl2)"/>
<ellipse cx="133" cy="600" rx="25.8" ry="31.3" fill="#3698F4" opacity="0.3" filter="url(#bl4)"/>
<path d="M152,596.2h.01M111.6,606.3h.01M133.7,624.5h.01M108.5,598.5h.01M151.7,598.6h.01M125.7,607.4h.01M123.3,589.9h.01M145.6,616.2h.01M109,600.3h.01M121.3,622.6h.01M139.2,574h.01M120.4,577h.01M144.4,619h.01M130.9,596.1h.01M116.9,585.4h.01M107,602h.01M132.6,570h.01M148.3,590.1h.01M161.4,596.9h.01M134.9,597.3h.01" stroke="#3698F4" stroke-width="7" opacity="0.45" filter="url(#bl2)"/>
<path d="M127.3,620.8h.01M119.7,589.3h.01M143.9,624.7h.01M134.7,577.7h.01M133,604.9h.01M139.9,586.2h.01M120.9,595.9h.01M149.3,619h.01M128.6,598.6h.01M132.6,582.5h.01M156.6,608h.01M123,578.8h.01M116.8,613.4h.01M138.3,585.1h.01M159.3,611.6h.01M149.4,571.2h.01M151.6,623.6h.01M131.4,602.1h.01M136.7,590.9h.01M135.1,595.3h.01" stroke="#3698F4" stroke-width="7" opacity="0.7" filter="url(#bl2)"/>
<path d="M113.6,580.7h.01M147.9,618.2h.01M144.8,580.4h.01M140.1,580.8h.01M137.3,588.7h.01M129.2,630.2h.01M141.7,566h.01M135.8,603.6h.01M120.9,579.4h.01M125.9,600.8h.01M152.2,598.2h.01M121,580.5h.01M141.6,608.7h.01M137.9,619h.01M137.3,603.5h.01M132.8,593.5h.01M118.5,614.4h.01M111.9,583.9h.01M118.1,605.6h.01M140.9,622.7h.01" stroke="#3698F4" stroke-width="7" opacity="0.9" filter="url(#bl2)"/>
<path d="M136.3,606.5h.01M111.1,619h.01M143.8,597.4h.01M111,609h.01M118.2,626.3h.01M113.3,584.1h.01M127.9,561.3h.01M145.8,577.6h.01M153.7,625h.01M160.2,589.8h.01M115.8,576.4h.01M138.3,592.4h.01M151.1,597.7h.01M111.1,581.6h.01M124.2,585.1h.01M132.2,581.1h.01M114.5,621.4h.01M138.7,586.2h.01M134,611.2h.01M114.4,612.3h.01M116.3,600.2h.01M146.6,604.2h.01M152.2,613.6h.01M151.4,578.5h.01" stroke="#000" stroke-width="6.3" opacity="0.55" filter="url(#bl2)"/>
<ellipse cx="205" cy="684" rx="18.4" ry="7.4" fill="#3A8EE0" opacity="0.3" filter="url(#bl4)"/>
<path d="M204,688.7h.01M201,684.9h.01M208,682.3h.01M209.6,687.6h.01M201.1,689.6h.01M203.4,678.6h.01M191,682.2h.01M186.4,687.8h.01" stroke="#3A8EE0" stroke-width="6" opacity="0.5" filter="url(#bl2)"/>
<path d="M191.6,679.4h.01M213.5,687.1h.01M207.9,677.5h.01M190.1,681.5h.01M206.7,678.2h.01M205.1,683h.01M202.8,681.6h.01M189.9,683.3h.01" stroke="#3A8EE0" stroke-width="6" opacity="0.8" filter="url(#bl2)"/>
</g>
<text x="59.6" y="546.8" font-size="27.3" fill="#fff">Fe</text>
<rect x="65.3" y="663.7" width="29.6" height="8" fill="#fff"/>
<clipPath id="icb4"><rect x="219" y="519" width="162.3" height="161.5"/></clipPath>
<rect x="219" y="519" width="162.3" height="161.5" fill="#000"/>
<g clip-path="url(#icb4)" fill="none" stroke-linecap="round">
<path d="M237.2,553.7h.01M327.2,525.8h.01M290.4,527.1h.01M321.7,621h.01M236.3,542.5h.01M274.2,569h.01M298.5,614h.01M272.2,522.4h.01M228.8,657.1h.01M249.9,671.2h.01M288.1,546.5h.01M311.5,531.3h.01" stroke="#5C9E56" stroke-width="7" opacity="0.3" filter="url(#bl2)"/>
<path d="M297.8,631.7h.01M290.1,609.9h.01M313.5,597.8h.01M307.9,622h.01M303.4,584.4h.01M274.7,619h.01M301.8,571.2h.01M332.1,647.6h.01M297.4,562h.01M329.6,588.3h.01M291,596.7h.01M288.5,594h.01M290.1,640.4h.01M306.2,616.2h.01M307.4,600.4h.01M313,603.8h.01M311.8,576.8h.01M264.6,618.6h.01M286.4,596h.01M324.2,607h.01M328.7,612.5h.01M296.6,578.3h.01M298.8,611.9h.01" stroke="#5C9E56" stroke-width="7" opacity="0.4" filter="url(#bl2)"/>
<path d="M268.1,583.4h.01M310.1,612h.01M314.2,582.6h.01M297.5,611.5h.01M317.4,600.6h.01M253.8,620.1h.01M295.7,603.3h.01M293.5,607.7h.01M283.9,573.2h.01M271.2,579.5h.01M296.4,591.9h.01M303.7,570.2h.01M295.5,558.7h.01M336.6,598.1h.01M316.1,615.3h.01M314.6,625.9h.01M277,629.2h.01M342.3,602.4h.01M270.3,627.3h.01M262.3,593.9h.01M316.5,592h.01M276.4,623.5h.01M329,622.7h.01" stroke="#5C9E56" stroke-width="7" opacity="0.6" filter="url(#bl2)"/>
<path d="M279.6,587.4h.01M314.4,624h.01M278,640.1h.01M258.6,572.1h.01M299,640.7h.01M335.3,593.9h.01M307.4,641.7h.01M279.8,567.5h.01M301.5,559.7h.01M328,602.8h.01M292,612.4h.01M255.4,594.2h.01M275.7,589.6h.01M326.9,577h.01M324.8,607.4h.01M314.3,634.1h.01M308.3,609.6h.01M302.7,617.2h.01M266.4,593h.01M269.2,618.7h.01M294.5,597.9h.01M268.5,551.8h.01M287.9,623.3h.01" stroke="#5C9E56" stroke-width="7" opacity="0.8" filter="url(#bl2)"/>
</g>
<text x="223.6" y="546.8" font-size="27.3" fill="#fff">Rh</text>
<rect x="229.9" y="663.7" width="29.6" height="8" fill="#fff"/>
<clipPath id="icc1"><rect x="55" y="697.8" width="161.3" height="160.5"/></clipPath>
<rect x="55" y="697.8" width="161.3" height="160.5" fill="#050505"/>
<g clip-path="url(#icc1)" fill="none" stroke-linecap="round">
<ellipse cx="202" cy="790" rx="22" ry="26" fill="#444" filter="url(#bl8)"/>
<ellipse cx="145" cy="708" rx="36" ry="12" fill="#242424" filter="url(#bl8)"/>
<ellipse cx="125" cy="856" rx="26" ry="8" fill="#1a1a1a" filter="url(#bl8)"/>
<path d="M143.1,723.5 109.9,731 95.1,754.3 89,776.5 97.5,813.5 122.2,832 144.3,829.5 171.5,807.3 185,776.5 177.6,749.4 161.6,731Z" fill="#3c3c3c" filter="url(#bl4)"/>
<path d="M142.4,729.9 113.1,736.5 100,757.1 94.6,776.6 102.2,809.3 124,825.6 143.5,823.5 167.4,803.8 179.4,776.6 172.8,752.8 158.7,736.5Z" fill="#444" filter="url(#bl2)"/>
<path d="M110,733.5h.01M107.9,737.3h.01M106.2,741.5h.01M104,745.2h.01M101.8,749.4h.01M100,753.4h.01M98.1,757.3h.01M96,761.5h.01M93.9,765.2h.01M115.9,731.6h.01M114,735.3h.01M111.9,739.3h.01M109.7,743.2h.01M108,747.2h.01M105.9,751.4h.01M103.7,755.4h.01M101.8,759.2h.01M99.6,763.3h.01M97.6,767.1h.01M95.4,771.3h.01M93.9,775.4h.01M91.5,779h.01M122.2,729.5h.01M120,733.5h.01M118,737.7h.01M99.7,773.1h.01M97.7,777.1h.01M95.8,781.1h.01M93.8,785.4h.01M125.8,731.4h.01M123.6,735.7h.01M122.1,739.4h.01M99.6,783h.01M97.6,786.9h.01M95.8,791.1h.01M132.3,730.2h.01M129.8,733.5h.01M128.1,737.4h.01M101.6,789h.01M99.9,793h.01M97.5,797.1h.01M137.8,727.6h.01M135.8,731.6h.01M133.6,735.8h.01M103.3,795.1h.01M101.5,799.3h.01M99.4,803.2h.01M97.6,807h.01M143.8,725.8h.01M141.8,729.9h.01M139.8,733.8h.01M103.5,805.1h.01M101.4,809h.01M99.2,813h.01M147.8,727.7h.01M145.8,731.7h.01M143.9,735.7h.01M107.3,806.9h.01M105.5,810.9h.01M103.5,814.9h.01M151.7,730h.01M149.6,733.7h.01M147.7,737.6h.01M109.3,813.3h.01M107.2,817h.01M155.7,732h.01M154.1,735.7h.01M113.3,815.2h.01M111.3,819.2h.01M159.8,734h.01M157.8,737.7h.01M117.2,817.1h.01M115.5,821.3h.01M163.8,735.7h.01M161.7,740.2h.01M159.4,743.8h.01M121.1,819.4h.01M119.2,823.1h.01M165.6,742h.01M163.6,745.6h.01M125.2,821h.01M123.1,825.1h.01M121.3,829h.01M169.8,743.8h.01M167.5,747.9h.01M165.6,751.6h.01M129.3,823.2h.01M127.2,827h.01M171.2,750h.01M169.5,754.1h.01M135.2,821.1h.01M133.2,825.1h.01M131.1,829.2h.01M175.6,751.9h.01M173.6,755.9h.01M171.4,759.6h.01M141.3,819.4h.01M139.4,823.2h.01M137.1,827.6h.01M177.4,757.9h.01M175.3,761.8h.01M173.5,765.8h.01M149.3,813.3h.01M147,817.5h.01M145.1,821.4h.01M143.2,825.3h.01M179.5,763.9h.01M177.3,767.7h.01M175.4,771.8h.01M157.3,807.4h.01M155.1,811.6h.01M153.2,815.4h.01M151.3,819.6h.01M149.1,823.3h.01M181.3,769.5h.01M179.4,773.8h.01M177.4,777.8h.01M175.4,781.9h.01M173.4,785.6h.01M171.3,789.7h.01M169.4,793.5h.01M167.3,797.6h.01M165.3,801.7h.01M163.2,805.8h.01M160.9,809.2h.01M159.1,813.7h.01M157.3,817.4h.01M183.3,776.2h.01M181,779.9h.01M179.1,784h.01M177.5,787.7h.01M175.1,791.7h.01M173.3,795.8h.01M171.2,799.9h.01M169.2,803.7h.01M166.9,807.8h.01" stroke="#cfcfcf" stroke-width="2.5" opacity="0.45" filter="url(#bl07)"/>
<path d="M115.7,741.5h.01M113.7,745.2h.01M111.9,749.5h.01M109.8,753.6h.01M107.8,757.4h.01M105.8,761.4h.01M103.6,765.3h.01M101.8,769.3h.01M120,743.2h.01M118,747.7h.01M115.9,751.6h.01M113.8,755.6h.01M111.8,759.5h.01M109.4,763.3h.01M107.7,767.4h.01M105.7,771.2h.01M103.7,775.3h.01M101.5,778.9h.01M125.7,741.7h.01M124,745.9h.01M121.7,749.3h.01M119.8,753.7h.01M118,757.3h.01M115.7,761.4h.01M113.7,765.3h.01M111.5,769.4h.01M109.9,773.2h.01M107.8,777.4h.01M105.6,781.1h.01M103.6,785.2h.01M131.7,739.6h.01M130,743.8h.01M127.7,747.9h.01M125.8,751.4h.01M123.7,755.5h.01M121.5,759.4h.01M119.8,763.5h.01M117.6,767.5h.01M115.5,771.3h.01M113.6,775.2h.01M111.6,779.1h.01M109.4,783.2h.01M107.9,787h.01M105.8,791.2h.01M137.8,737.8h.01M135.6,741.7h.01M133.6,745.5h.01M131.6,749.6h.01M129.5,753.5h.01M127.4,757.9h.01M125.8,761.2h.01M123.7,765.5h.01M121.4,769.2h.01M119.4,773.5h.01M117.6,777.3h.01M115.9,781.3h.01M113.4,785.5h.01M111.6,789.5h.01M109.4,793.1h.01M107.5,797.1h.01M105.6,801.3h.01M141.8,739.8h.01M140,743.6h.01M137.7,747.7h.01M135.6,751.4h.01M133.8,755.7h.01M131.7,759.4h.01M129.8,763.5h.01M127.7,767.6h.01M125.5,770.9h.01M123.6,775.5h.01M121.7,779.2h.01M119.7,783.5h.01M117.7,787.3h.01M115.4,791.2h.01M113.6,795.2h.01M111.3,799.2h.01M109.6,803.1h.01M145.9,741.5h.01M143.8,745.9h.01M141.8,749.8h.01M139.7,753.6h.01M137.8,757.6h.01M135.7,761.4h.01M133.3,765.5h.01M131.4,769.8h.01M129.6,773.3h.01M127.3,777.5h.01M125.6,781.4h.01M123.4,785.5h.01M121.7,789.2h.01M119.6,793.5h.01M117.7,797.2h.01M115.4,801.5h.01M113.6,805.3h.01M111.3,809h.01M151.8,739.9h.01M149.4,743.7h.01M147.3,747.5h.01M145.6,751.8h.01M143.8,755.9h.01M141.6,759.7h.01M139.7,763.5h.01M137.4,767.8h.01M135.6,771.6h.01M133.8,775.3h.01M131.4,779.6h.01M129.3,783.2h.01M127.4,787.3h.01M125.4,791.3h.01M123.5,795.3h.01M121.5,799.4h.01M119.5,803.1h.01M117.3,807.3h.01M115.3,811h.01M155.8,741.7h.01M153.5,745.8h.01M151.6,749.6h.01M149.6,753.9h.01M147.5,757.5h.01M145.3,761.8h.01M143.6,765.7h.01M141.4,769.3h.01M139.3,773.9h.01M137.5,777.6h.01M135.4,781.3h.01M133.5,785.4h.01M131.5,789.5h.01M129.7,793.4h.01M127.3,797.2h.01M125.4,801.4h.01M123.5,805.2h.01M121.3,809.4h.01M119,813.1h.01M157.8,747.8h.01M155.7,751.5h.01M153.6,755.6h.01M151.6,760h.01M149.8,763.5h.01M147.2,767.6h.01M145.8,771.6h.01M143.5,775.6h.01M141.3,779.6h.01M139.4,783.6h.01M137.5,787.3h.01M135.2,791.5h.01M133.2,795.1h.01M131.3,799.4h.01M129.5,803.4h.01M127.3,807.3h.01M125.1,811.2h.01M123.4,815.1h.01M161.5,749.8h.01M159.5,753.8h.01M157.4,757.7h.01M155.8,761.9h.01M153.3,765.5h.01M151.5,769.6h.01M149.6,773.6h.01M147.6,777.6h.01M145.6,781.6h.01M143.3,785.3h.01M141,789.5h.01M139,793.5h.01M137.3,797.3h.01M135.4,801.3h.01M133.4,805.6h.01M131.2,809.4h.01M129.1,813h.01M126.9,817.1h.01M163.6,755.7h.01M161.6,759.9h.01M159.2,763.7h.01M157.4,767.8h.01M155.3,771.7h.01M153.6,775.2h.01M151.3,779.6h.01M149.4,783.6h.01M147.5,787.5h.01M145.4,791.6h.01M143.5,795.2h.01M141.4,799.2h.01M139.7,803.3h.01M137.3,807.5h.01M135.7,811.3h.01M133.2,815.4h.01M131.2,819.2h.01M167.5,758.1h.01M165.3,761.6h.01M163.5,765.6h.01M161.3,769.5h.01M159.6,773.6h.01M157.6,777.7h.01M155.6,781.5h.01M153.5,785.8h.01M151.3,789.5h.01M149.4,793.7h.01M147.3,797.5h.01M145.5,801.2h.01M143.4,805.4h.01M141.3,809.4h.01M139.2,813.2h.01M136.8,817.3h.01M169.5,763.9h.01M167.1,767.8h.01M165.4,771.8h.01M163.3,775.8h.01M161.7,779.6h.01M159.6,783.7h.01M157.3,787.7h.01M155.4,791.5h.01M153.4,795.5h.01M151.3,799.4h.01M149.4,803.5h.01M147.3,807.2h.01M145.2,811.2h.01M143.4,815.6h.01M171.3,769.8h.01M169.3,773.7h.01M167.5,778h.01M165.2,781.6h.01M163.4,785.7h.01M161.2,789.5h.01M159.3,793.5h.01M157.5,797.3h.01M155.4,801.5h.01M153,805.6h.01M151.2,809.4h.01M173.4,775.9h.01M171.3,779.8h.01M169.2,783.8h.01M167.1,787.5h.01M165.3,791.6h.01M163.5,795.3h.01M161.3,799.5h.01M159.2,803.4h.01" stroke="#fff" stroke-width="2.7" opacity="0.85" filter="url(#bl07)"/>
<rect x="55" y="697.8" width="161.3" height="160.5" fill="#fff" opacity="0.03" filter="url(#nzw)"/>
</g>
<rect x="65.3" y="841.8" width="40" height="8" fill="#fff"/>
<clipPath id="icc2"><rect x="219.2" y="697.8" width="161.8" height="160.5"/></clipPath>
<rect x="219.2" y="697.8" width="161.8" height="160.5" fill="#000"/>
<g clip-path="url(#icc2)" fill="none" stroke-linecap="round">
<path d="M273.7,717.2h.01M261,712.4h.01M259.2,715.2h.01M320.4,714.7h.01M293.9,709.1h.01M293.4,720h.01M283.1,737.6h.01M285,728.1h.01M264.2,706.7h.01M303.4,721.7h.01M312.3,715h.01M292.5,712.3h.01M312.9,719.2h.01M265.7,705.5h.01M263.1,724.4h.01M261.9,724.6h.01M289.7,745.6h.01M272.4,725h.01M297.4,722.9h.01M298.1,714.3h.01M314.7,708.9h.01M283.3,733.9h.01M295.5,706.5h.01M282,710.8h.01M280.2,717.1h.01M293.4,732.9h.01M289.6,732.5h.01" stroke="#E87C10" stroke-width="4" opacity="0.25" filter="url(#bl12)"/>
<path d="M298.4,740.7h.01M298,736.9h.01M290.6,713.8h.01M304.8,711.4h.01M291.3,707.1h.01M306.8,702.7h.01M283.9,702.6h.01M315.3,700.5h.01M307.4,719h.01M264.7,704.1h.01M293.9,710.7h.01M280.5,707.8h.01M302.6,728.3h.01M277,726.8h.01M271.2,703.2h.01M271.2,710.4h.01M315.8,722.7h.01M264,713.9h.01M292.1,701.4h.01M286,698.5h.01M268.2,719.4h.01M287.4,706.2h.01M290.6,718.2h.01M307.2,713.2h.01M263.7,720.7h.01M285.1,736.5h.01M309.3,733.8h.01" stroke="#E87C10" stroke-width="4" opacity="0.4" filter="url(#bl12)"/>
<path d="M297.3,851.3h.01M242.9,850.5h.01M264.3,850.6h.01M281,850h.01M264.1,848.7h.01M255,842.6h.01M253.5,855.5h.01M290.8,846.5h.01M264.8,855.2h.01M266.7,851.2h.01M297.2,844.6h.01M281.1,847.4h.01M275.2,848.2h.01M285,856.6h.01M259.2,843h.01M272,852.3h.01M268.3,855.2h.01M281.9,842.4h.01M292,854.1h.01M285,851.2h.01" stroke="#E87C10" stroke-width="4" opacity="0.25" filter="url(#bl12)"/>
<path d="M247.6,845.9h.01M270.4,842.3h.01M270.7,841.5h.01M258.8,847.3h.01M283.9,855.7h.01M275.4,850.4h.01M282.7,855.1h.01M279.3,860.2h.01M260.4,844.8h.01M253.9,856.5h.01M269.3,851.8h.01M281.4,841.4h.01M259.3,845.7h.01M270.8,853.8h.01M287.8,854.2h.01M283.5,855.8h.01M292.8,854.7h.01M251.5,846.4h.01M270.2,857.7h.01M249.6,853.3h.01" stroke="#E87C10" stroke-width="4" opacity="0.4" filter="url(#bl12)"/>
<ellipse cx="362" cy="790" rx="18.4" ry="23.9" fill="#E87C10" opacity="0.15" filter="url(#bl4)"/>
<path d="M351.7,809.2h.01M364.8,767.1h.01M370.9,770.2h.01M367.3,794.8h.01M371.8,789.4h.01M364.2,797.8h.01M349,781.5h.01M353.9,799.2h.01M351.2,798.9h.01M351.1,783.3h.01M372.8,777.5h.01M352.3,803.1h.01M373.5,770.8h.01M359,804.7h.01M360.9,815.1h.01M367.1,800.8h.01M363,798.5h.01M349.5,804.5h.01M376.6,773.3h.01M353.5,790.9h.01M348.1,817.7h.01M366.9,813.4h.01M350.1,806.4h.01M369.3,807.1h.01M371,807.8h.01M376.8,804.6h.01M356,784.9h.01M370.7,785.3h.01M375.5,770.3h.01M362.8,792.7h.01" stroke="#E87C10" stroke-width="4.2" opacity="0.3" filter="url(#bl12)"/>
<path d="M372,775.7h.01M352.7,809.8h.01M365.4,775.4h.01M354.1,800.4h.01M354.9,787.4h.01M375.8,789.6h.01M348.5,788.9h.01M371.2,795.4h.01M373.9,800.4h.01M363.3,775.4h.01M375.5,788.1h.01M365.9,776.8h.01M360.3,789.5h.01M362.6,791h.01M355.6,809.7h.01M378.6,788.9h.01M364.6,766.7h.01M371.5,768.4h.01M349.5,799.3h.01M378.3,787h.01M353.9,794.7h.01M354.5,789.5h.01M345.9,798.5h.01M349.3,781.1h.01M363.8,772h.01M359,811.7h.01M345.5,772.9h.01M370.7,772.6h.01M368.5,773.3h.01M367,782.5h.01" stroke="#E87C10" stroke-width="4.2" opacity="0.5" filter="url(#bl12)"/>
<ellipse cx="305" cy="780" rx="48.8" ry="45.1" fill="#FF8A12" opacity="0.24" filter="url(#bl4)"/>
<path d="M371.6,807.4h.01M235,698.7h.01M274.8,821.8h.01M283.1,856h.01M224,801h.01M301.7,789h.01M311.6,739.1h.01M266.8,725.4h.01M284.7,780.6h.01M239.1,845.6h.01M318.8,710.7h.01M264.8,714.3h.01M324.5,757.8h.01M286.7,753.1h.01M241.7,835.4h.01M235.9,729.6h.01M316.5,846h.01M227.5,785.5h.01M334.8,808.3h.01M342.7,794.1h.01M370,799.8h.01M262.8,814.5h.01M240.8,766h.01M244.7,704.2h.01M320.5,834.1h.01M267.4,727h.01M329.5,800.3h.01M314.2,800.5h.01M225.2,768.7h.01M372.9,751.3h.01M367.6,733.9h.01M246,729.9h.01M297.9,826h.01M340.7,827.3h.01M318.7,843.7h.01M357.3,742.1h.01M241.1,700.6h.01M271.1,723.3h.01M306.2,737.5h.01M314.7,710.9h.01M258.5,747.4h.01M350.2,797.4h.01M370.7,813.2h.01M372.5,773.6h.01M254.2,731.2h.01" stroke="#FF8A12" stroke-width="4.4" opacity="0.2" filter="url(#bl12)"/>
<path d="M342.5,768.3h.01M308,770.4h.01M314.1,790.3h.01M297.3,748.9h.01M306.5,741.7h.01M296.6,782.2h.01M292.4,789h.01M361.8,786.3h.01M332.7,759h.01M284.5,781.4h.01M330.7,751.2h.01M303.7,767.4h.01M330.6,818.6h.01M309.7,810.5h.01M293.1,813.6h.01M349.6,793h.01M286.1,779h.01M281.6,818h.01M279.3,809.9h.01M342.3,775.9h.01M327.5,775.4h.01M345.2,785.9h.01M273.2,798.1h.01M337.5,789h.01M340.8,765h.01M299,791.5h.01M356.2,802.9h.01M307.8,820.1h.01M289.7,825.8h.01M308.9,746.3h.01M280.4,751.9h.01M312.3,814.3h.01M326.4,819.4h.01M257.3,795.8h.01M296.3,734.7h.01M301.8,748.3h.01M322.2,788.1h.01M335.2,768.3h.01M348,769.6h.01M317.9,773.6h.01M313.5,779.5h.01M318.1,740.3h.01M269.4,757h.01M311.4,750.5h.01M278.4,791.7h.01M297.9,773.8h.01M339.6,793.6h.01M315.8,788.5h.01M298.7,802.8h.01M326.7,796.9h.01M264.9,781.9h.01M319.7,782.1h.01M293.1,737h.01M308.2,762.2h.01M308.6,768.6h.01M270.3,802.8h.01M309.5,743.4h.01M309.2,782.5h.01M281.7,795.5h.01M320.7,786.9h.01M258,778.7h.01M339.6,785.8h.01M356.8,769h.01M303.8,801.1h.01M318.8,800.6h.01M355.3,766.8h.01M313.1,734.6h.01M299.9,808.7h.01M346.6,790.5h.01M272.6,776.7h.01M319.5,824.7h.01M333.5,814.2h.01M326.4,778.9h.01M325.2,813.8h.01M293.7,815h.01M292.4,786.4h.01M315.5,777.3h.01M341.9,764h.01M297.5,792.5h.01M363.7,776.4h.01M350.1,756.9h.01M301.7,775.1h.01M257.5,776.8h.01M309.8,817.7h.01M283.4,763.4h.01M297.7,782.5h.01M274,788.1h.01M320.6,759.1h.01M316.9,813.9h.01M343.9,763.7h.01M287.1,807.9h.01M296,809.2h.01M275.6,812.4h.01M357.4,787.5h.01M332.9,821.6h.01M288.7,806h.01M350.9,751.6h.01M305.2,819.6h.01M311.9,803.4h.01M345.7,769.8h.01M302.6,757.6h.01M307.3,799.3h.01M343.4,782.8h.01M280.3,745.5h.01M302.6,819.6h.01M313.3,763h.01M305.3,804.8h.01M259.2,786.9h.01M332.1,812.5h.01M326.3,765.7h.01M309.7,737.9h.01M345.2,774.4h.01M329.6,742.6h.01M296.5,741.5h.01M312.7,767.1h.01M312.7,733.8h.01M258.6,789.3h.01M335.5,806.8h.01M358.4,787.7h.01M302.7,773.3h.01M289.5,752.8h.01M280.8,811.3h.01M253.1,778.6h.01M347.8,771.5h.01M281,778.8h.01M271.4,799.7h.01M307.8,785.8h.01M291.5,789.2h.01M327.9,794.7h.01M316.6,788h.01M338.5,791h.01M318.8,759.3h.01M264.7,792.6h.01M313.8,781.3h.01M291.3,796h.01M282.9,770.7h.01M334,821.3h.01M283.5,805.4h.01M326.6,756.3h.01M298.8,793.4h.01" stroke="#FF8A12" stroke-width="4.4" opacity="0.35" filter="url(#bl12)"/>
<path d="M341.7,780.3h.01M325.5,779.4h.01M350.9,774.3h.01M333.3,798.8h.01M262.2,783.8h.01M282.1,760.6h.01M317.2,744.5h.01M279,757.1h.01M281.5,795.9h.01M300.6,754.1h.01M261.5,786.6h.01M263.7,784.7h.01M291.7,763.5h.01M325.3,764.1h.01M321.4,759.1h.01M353.9,780.7h.01M329.1,756.2h.01M270.7,761.5h.01M307.4,783.3h.01M271.6,798.2h.01M327.4,794.6h.01M288.3,815.9h.01M312.4,781.5h.01M256.6,761.5h.01M305,769.4h.01M308.9,736.8h.01M320.7,814.1h.01M313,764.7h.01M271.5,783.4h.01M294.8,780.8h.01M328,776.1h.01M250.9,772.7h.01M310.8,825.7h.01M287.2,739.1h.01M349.4,767.5h.01M297.1,802.7h.01M319.4,759h.01M270.1,794.9h.01M323.8,751.1h.01M293.4,745.5h.01M330.5,748.1h.01M256.6,791.4h.01M245.1,792.3h.01M337,821.6h.01M306,778.3h.01M278.9,746.6h.01M335.6,799.9h.01M257.3,802.2h.01M307.9,795.1h.01M298.7,776.7h.01M298.1,746.1h.01M347.5,756.1h.01M362.4,779.4h.01M357.1,761h.01M299.6,832.4h.01M279.2,758.8h.01M285.7,803.1h.01M280,808.2h.01M303,758.3h.01M321.3,796.4h.01M308.6,757.9h.01M272.7,773.9h.01M316.5,826.9h.01M261,768.8h.01M278.7,791.1h.01M304.7,761.6h.01M261.7,783h.01M293.1,752.6h.01M315.5,809.7h.01M300.9,780.2h.01M312,767.9h.01M294.3,770.5h.01M331.8,806.3h.01M277,746.6h.01M293.8,745.4h.01M273.6,796.1h.01M316.9,784h.01M284.1,771.6h.01M305.5,791.6h.01M306.8,821.3h.01M332.3,805.3h.01M332.7,790.3h.01M297.7,820.4h.01M309.6,761.7h.01M321.2,810.2h.01M315.7,823.7h.01M319,744.8h.01M280.1,768.7h.01M278.7,746.9h.01M276,774.3h.01M338.5,732.4h.01M262.8,811h.01M342.2,796.5h.01M353,796.7h.01M278.6,809.7h.01M331.2,786h.01M323.5,767.6h.01M258.5,774.6h.01M299.9,798.9h.01M318.1,813.3h.01M265.5,773.1h.01M328.5,826.1h.01M319.8,753.8h.01M283.7,740.8h.01M275.4,752h.01M328.5,780.5h.01M255,766.1h.01M278.3,768.9h.01M316.2,754.8h.01M331.5,802.9h.01M305.4,782.4h.01M280.5,817.8h.01M331.5,742.8h.01M279,798.1h.01M303.1,825.9h.01M306.9,769.8h.01M338.6,760.9h.01M319.1,824.6h.01M309.4,815.1h.01M258.7,774.5h.01M319.8,791.2h.01M279.3,762.4h.01M343.6,803.6h.01M326.7,742.4h.01M332,769.4h.01M285.1,802.4h.01M316.2,763.1h.01M290.8,744.8h.01M268.5,757h.01M276.3,823.8h.01M275.9,740.6h.01M301.1,802.1h.01M273.7,745.5h.01M290.3,745h.01M346.9,795.7h.01M341.4,784.6h.01M282.5,772.9h.01M345,745.3h.01M345.4,770.1h.01M330.1,779.3h.01" stroke="#FF8A12" stroke-width="4.4" opacity="0.55" filter="url(#bl12)"/>
<path d="M342.3,793.1h.01M283.9,809h.01M296.6,780.5h.01M316.8,820.4h.01M330.6,807.8h.01M287.9,783.8h.01M301.8,734.5h.01M271.4,749.2h.01M308.5,831.1h.01M312.8,819.7h.01M319.8,742.4h.01M318.6,749.5h.01M303.9,816.8h.01M345.4,773.3h.01M286.5,772.9h.01M264.6,749.3h.01M330.6,734.9h.01M299.5,753.1h.01M324.1,790h.01M333.9,746.8h.01M337.1,769h.01M337.7,767.5h.01M340.2,797.1h.01M326.5,751.8h.01M267.6,766.1h.01M354.2,787.1h.01M313.7,776.3h.01M285.5,741.9h.01M278.1,782.1h.01M315.8,803.4h.01M334.1,789.1h.01M311.8,806.7h.01M290.5,760.1h.01M314.6,821.1h.01M346.8,747.5h.01M317.8,798.6h.01M318.3,752.3h.01M251.8,806.3h.01M302.8,808.2h.01M333.5,747.8h.01M322.8,804.5h.01M279.6,804.8h.01M310.2,820.2h.01M248.9,768.6h.01M324.2,823.3h.01M277.8,800h.01M335,747.7h.01M334.4,787.1h.01M301.7,752.3h.01M286.2,820.3h.01M287.4,768.8h.01M315,774.8h.01M301,805.3h.01M323.4,739.8h.01M331.6,802.9h.01M252.9,791.2h.01M276.1,741h.01M310.4,801.9h.01M303.8,814.8h.01M304.8,818.5h.01M326.9,739.8h.01M345.4,802h.01M347.3,790.3h.01M277.5,771.6h.01M266.8,777.9h.01M308.6,781.4h.01M303.8,743.2h.01M288.1,801.2h.01M278.7,807.6h.01M297.9,754h.01M261,760.1h.01M315.5,769.7h.01M264.4,782.6h.01M283.3,770.9h.01M353.8,763h.01M271.1,760.9h.01M331.8,776.6h.01M306.6,757.5h.01M280.6,786.4h.01M256.9,794.6h.01M270.9,751.6h.01M308.7,792h.01M334.8,794.3h.01M323.9,751.9h.01M294.2,727.1h.01M301.1,823h.01M292.2,738.6h.01M294.6,797h.01M324.2,768.2h.01M291.7,776.2h.01M296,778.2h.01M292.4,738.9h.01M272.2,781.9h.01M319.9,728.1h.01M313.4,755.7h.01M313.1,749.4h.01M304.5,758.7h.01M309.3,752h.01M319,765.9h.01M320.5,805h.01M275.3,799.4h.01M282.2,760.3h.01M326.7,805.9h.01M293.8,769.1h.01M330.9,741.6h.01M320,793.1h.01M350.3,809h.01M342.1,757.4h.01M288.9,812.4h.01M310.9,813.4h.01M332.4,810h.01M330,816.9h.01M325.4,803.5h.01M274.1,802h.01M286.8,826.7h.01M329.8,774.9h.01M292.5,766.9h.01M320.3,772.3h.01M284,762.1h.01M325.4,740.4h.01M337.3,795.9h.01M357.7,771.8h.01M278.5,785.6h.01M279.7,776.7h.01M267.9,776.9h.01M339.4,766.6h.01M328.7,777.5h.01M262.9,775.5h.01M277,797.2h.01M302.6,783.5h.01M324.4,812.3h.01M297.2,819.1h.01M318.6,825h.01M298.1,784.5h.01M313.3,818.9h.01M280.1,766.7h.01M354.3,788.1h.01M286.3,791.9h.01M312.2,789.2h.01M332.3,752.8h.01" stroke="#FF8A12" stroke-width="4.4" opacity="0.8" filter="url(#bl12)"/>
<path d="M289.5,804.1h.01M339.1,740.4h.01M354.7,802.8h.01M300.1,792.3h.01M279.6,794.3h.01M277.3,795.9h.01M321.2,749.2h.01M318,792.3h.01M302.7,798.5h.01M304.5,735.3h.01M277.9,786.2h.01M287.7,804h.01M285.4,736.8h.01M334.3,813.7h.01M338.1,809.4h.01M338.8,829.1h.01M276.4,786.9h.01M294.4,766.6h.01M338.6,807.3h.01M339.4,788.9h.01M304.7,823.6h.01M320.4,747.3h.01M283.5,794.6h.01M302.3,784.4h.01M311,739.1h.01M301.9,753h.01M275.9,816.4h.01M319.6,783.1h.01M314.2,833.8h.01M342.7,768.6h.01M321.1,783.1h.01M295.9,790h.01M293.5,741.9h.01M337.6,795.5h.01M312.1,751.1h.01M317.5,749.4h.01M286.4,779.6h.01M314.8,800.2h.01M264.6,801h.01M282.8,785.4h.01M254.3,762.7h.01M308.5,772.3h.01M336.1,801h.01M333.9,805.4h.01M340.5,764.7h.01M318.6,795.4h.01M253.5,790.6h.01M308,806.1h.01M325.5,759.6h.01M296.2,808h.01M337.9,819.1h.01M308.8,780.8h.01M327.8,765.2h.01M296.8,777.6h.01M293,763.6h.01M295.3,755.1h.01M330.3,778.3h.01M340.5,790.2h.01M274.9,772.3h.01M294,794.3h.01M346.2,758.2h.01M332.2,803.4h.01M343,785.4h.01M251.6,766.2h.01M289.7,823.9h.01M279,754.1h.01M262.8,761.7h.01M290.7,772.5h.01M308,791.6h.01M332.2,793.9h.01M292.1,821.8h.01M322.9,795.7h.01M297.6,788.3h.01M346.3,797.3h.01M336.2,758.5h.01M304,813.8h.01M307.3,747.6h.01M324.8,739.1h.01M304.1,746.6h.01M282,778.1h.01M301.5,803.3h.01M303.8,819.2h.01M332.2,738.2h.01M259.2,767.8h.01M339.2,795h.01M318.6,739.6h.01M280.7,738.6h.01M336.9,759.9h.01M329.9,812.8h.01M298.9,773.8h.01M279.2,747h.01M345.5,763.7h.01M337.5,770.3h.01M353.9,774.8h.01M329.4,800.7h.01M338,757.8h.01M250.1,788.3h.01M305.1,817.6h.01M269.2,809.4h.01M275.7,774.5h.01M290.9,764h.01M267.2,755.3h.01M303.4,811h.01M306.6,790.9h.01M353,769.2h.01M297.2,785h.01M270.2,741.5h.01M269.4,776.5h.01M271.9,801.1h.01M290.6,770.6h.01M298.9,778.1h.01M267.8,787.3h.01M334,791.4h.01M352.1,790.7h.01M303.2,765.6h.01M301.1,754.1h.01M271.1,760.4h.01M296.5,821.2h.01M324.1,761h.01M277.9,805.9h.01M332.2,808.4h.01M299.1,803.5h.01M290.3,806h.01M314.7,736.9h.01M324.6,765.2h.01M354.9,755.1h.01M299.5,789.9h.01M345.9,787.1h.01M300.3,812.6h.01M345,782.3h.01M282.6,797h.01M316.3,808.8h.01M313.8,818.9h.01M288.8,795.6h.01M293.9,823.2h.01M310.3,786.4h.01M265.5,768.8h.01M355.2,785h.01M318.4,792.6h.01M321.7,822.3h.01M301.6,792.6h.01M333.5,809.5h.01M310.5,825.1h.01M280.9,813.8h.01M309.2,808.3h.01M292,765.4h.01M304.7,803.6h.01M335.1,751.1h.01M287.9,815.7h.01M274.7,806.1h.01M342.4,810.7h.01M315.9,815.3h.01M308.2,730.5h.01M319.3,743.6h.01M313.2,808.1h.01M333.2,737.5h.01M255.7,774.3h.01M265.9,810.8h.01M275.7,799.6h.01M308.9,730.8h.01M316.6,791.7h.01M309.4,784.2h.01M302.1,739.4h.01M303.7,762.5h.01M346.8,790.5h.01M304.2,753.2h.01M278.5,739h.01M317.3,794.3h.01M276.5,771.3h.01M271.2,800.1h.01" stroke="#000" stroke-width="4" opacity="0.6" filter="url(#bl12)"/>
<path d="M334.4,768.2h.01M327.3,756.2h.01M323.9,813.9h.01M353.2,754.5h.01M264.6,778.9h.01M348.1,759.8h.01M326.5,789.8h.01M281.3,766.1h.01M341.4,753.8h.01M294.2,767.7h.01M297.3,818.1h.01M283.3,764.6h.01M309.4,817.5h.01M310.5,732.4h.01M343.2,771.7h.01M259.8,790.3h.01M288.7,785.1h.01M292.5,755.7h.01M312.5,792.4h.01M285.1,792.9h.01M275.6,768.6h.01M282.3,817.9h.01" stroke="#FF9418" stroke-width="4.8" opacity="0.9" filter="url(#bl12)"/>
</g>
<text x="225.8" y="726" font-size="27.3" fill="#fff">Pt</text>
<rect x="230.1" y="842" width="39.9" height="8" fill="#fff"/>
<clipPath id="icc3"><rect x="55" y="862.2" width="161.3" height="161.3"/></clipPath>
<rect x="55" y="862.2" width="161.3" height="161.3" fill="#000"/>
<g clip-path="url(#icc3)" fill="none" stroke-linecap="round">
<path d="M125.5,935.6h.01M81.2,1014.8h.01M104.5,910.1h.01M186.9,936.8h.01M90,918.4h.01M103,954.9h.01M205.1,949.4h.01M203.1,896.3h.01M181.7,967.1h.01M153.4,862.3h.01M203.8,870.1h.01M164.9,869h.01M55.5,883.7h.01M111.3,887.6h.01M129.7,908.3h.01M116.3,892.2h.01M190.7,978.1h.01M197.4,934.1h.01M113,873.3h.01M153,967h.01M146.9,1001h.01M158.9,973.2h.01M118.9,882.5h.01M146.8,1006.5h.01M102.2,1022h.01M172,968.7h.01M113.3,992.3h.01M215.9,885.3h.01" stroke="#3484DC" stroke-width="3.3" opacity="0.45" filter="url(#bl1)"/>
<path d="M161.1,946.6h.01M138.8,893.6h.01M186.3,941.8h.01M138.4,930.2h.01M121.2,977h.01M114.8,979.7h.01M172.1,969.3h.01M157.5,967.8h.01M143.9,924.1h.01M133.3,962.5h.01M122.7,930.1h.01M126.9,957.5h.01M165.5,898.6h.01M92.8,912h.01M150.2,954.8h.01M132.6,916.5h.01M166,984.6h.01M172.4,969.3h.01M106.9,969.1h.01M119.6,939.2h.01M140.7,931.5h.01M107.2,940.8h.01M145.5,894.4h.01M141.9,914.7h.01M152.3,936.2h.01M156,987.2h.01M176.4,926.4h.01M153.7,904.7h.01M109.4,996.7h.01M167.1,921.2h.01M132.3,968h.01M97.1,936.4h.01M144,905.3h.01M95.3,963.8h.01M185.4,938.9h.01M88.9,977.5h.01M125.5,963.9h.01M177.3,912.6h.01M164.5,988.1h.01M120.1,925.7h.01M147.4,976.7h.01M139.3,925.5h.01M96.5,963.2h.01M113.8,915.2h.01M102.6,915.1h.01M104.6,952.4h.01M113.9,913.9h.01M195.6,927.6h.01M135.5,957.9h.01M142.8,939.5h.01M152.5,927.4h.01M143.5,970.5h.01M156.7,939.1h.01M132.7,936.9h.01M137.2,921h.01" stroke="#3484DC" stroke-width="3.3" opacity="0.4" filter="url(#bl1)"/>
<path d="M91.9,946.2h.01M107.4,979.4h.01M145.2,965.7h.01M141,922.7h.01M99.8,966.6h.01M127.6,925.2h.01M96,947.4h.01M146.2,888.6h.01M162.2,970.7h.01M131.4,956.1h.01M137.6,926.7h.01M101.6,943.8h.01M146.4,886.5h.01M120.5,915.8h.01M77.4,913.6h.01M170.8,916.5h.01M145.4,974.2h.01M132.4,936.4h.01M200.7,936.4h.01M175.1,935.3h.01M164.5,980.5h.01M136.4,923h.01M91.1,978h.01M143.4,920.3h.01M139,968.7h.01M125.3,884.5h.01M155.9,960.7h.01M115.3,975.5h.01M114.9,967.6h.01M96.6,965.7h.01M139.4,932.5h.01M117.3,977.1h.01M109,913.7h.01M132.1,903.3h.01M178.4,899.2h.01M135.4,971.8h.01M149.7,906.5h.01M134.6,942.2h.01M147.6,896.2h.01M156.1,935.6h.01M98.8,953.2h.01M88.6,945.8h.01M181,922.3h.01M142.3,934.3h.01M174.8,979.1h.01M138.7,909.1h.01M128.9,943.9h.01M164.8,924.5h.01M121.9,951.4h.01M135.5,927.5h.01M158.5,960.2h.01M139.2,885.3h.01M169.8,919h.01M140,940h.01M149.4,942.6h.01" stroke="#3484DC" stroke-width="3.3" opacity="0.6" filter="url(#bl1)"/>
<ellipse cx="134" cy="943" rx="30.4" ry="30.4" fill="#3C94F0" opacity="0.08" filter="url(#bl4)"/>
<path d="M111.5,939.8h.01M147.3,940.7h.01M135.1,940.6h.01M154.1,950.8h.01M115,938.9h.01M125.1,963h.01M125.2,969h.01M133.8,937.9h.01M128.9,970.8h.01M102.5,949.5h.01M132.7,937h.01M142.1,962.8h.01M149.6,922.4h.01M123.7,949.8h.01M135.9,960.3h.01M112.5,930.4h.01M124.2,955.1h.01M139.2,972h.01M158,936.2h.01M111.8,932.9h.01M135.2,972.8h.01M165.8,945.6h.01M103.3,931.6h.01M131.7,944.2h.01M131.9,951.4h.01M129.1,967.5h.01M139.7,953.1h.01M147.8,919.3h.01M145.2,922.1h.01M125.7,938.1h.01M128.1,957.2h.01M130.8,928.9h.01M143,941.5h.01M119.5,958.7h.01M120.1,959.6h.01M129.6,948.6h.01M127.2,919.5h.01M139.4,959.2h.01M121.4,960.2h.01M129.5,919.2h.01M145.2,944.5h.01M145.7,944.6h.01M112.7,960.8h.01" stroke="#3C94F0" stroke-width="4" opacity="0.5" filter="url(#bl1)"/>
<path d="M139.1,962.9h.01M130.3,919.7h.01M150,953.5h.01M139.7,944.6h.01M101.8,956h.01M124.2,950.9h.01M149.4,928.5h.01M116.8,957.6h.01M148.3,958.7h.01M107,926.4h.01M154.5,958.8h.01M146.8,957.2h.01M126.6,911.8h.01M148.2,944.1h.01M103.8,933.2h.01M111.7,927.4h.01M141.8,938.4h.01M127.1,921.6h.01M103.8,934.8h.01M157.2,955.9h.01M145.2,942h.01M128.9,947.5h.01M156.1,924.2h.01M135.3,967.1h.01M168.2,945.3h.01M145.4,920h.01M134.4,941.1h.01M143.4,968.3h.01M108,961.4h.01M112.6,926.4h.01M153.5,919.3h.01M132.9,955.8h.01M148.4,950.6h.01M123.2,928.7h.01M107.7,928.1h.01M108.2,935.3h.01M101.4,926.2h.01M109.4,948.7h.01M135.7,939.6h.01M134.2,963.2h.01M116.7,941h.01M135.3,952h.01M146.3,965h.01" stroke="#3C94F0" stroke-width="4" opacity="0.7" filter="url(#bl1)"/>
<path d="M111.4,941.7h.01M136.9,933.6h.01M121.5,934.6h.01M140.3,956.7h.01M114.6,948.5h.01M152.5,951h.01M162.5,941.6h.01M113.6,952.8h.01M138.7,951.6h.01M108.5,937.7h.01M154.3,945.9h.01M144.5,935.8h.01M135.5,922.1h.01M158.4,965h.01M136.2,969.3h.01M146.5,920.1h.01M158,939.3h.01M114.8,949.8h.01M153.5,945h.01M142.8,965.5h.01M128.2,932.9h.01M123.8,968.3h.01M132,949.6h.01M157.1,918.5h.01M108.6,943.5h.01M134,932.5h.01M137.9,957.5h.01M106.6,929.2h.01M114.8,927.7h.01M140.1,939.2h.01M113.1,948.1h.01M158.3,956.9h.01M149,924h.01M124.9,950.1h.01M149.1,948.3h.01M158.6,939.6h.01M152.9,952.1h.01M128.6,943.2h.01M147.1,932.9h.01M165.6,943.7h.01M138.7,935h.01M130.1,917.1h.01M127.5,963.9h.01" stroke="#3C94F0" stroke-width="4" opacity="0.9" filter="url(#bl1)"/>
<path d="M120.4,951.5h.01M104.6,939h.01M134.8,935.8h.01M153.5,958.7h.01M146,960.2h.01M131.2,937.6h.01M132.5,965.7h.01M151.9,955.7h.01M124.3,954.5h.01M148.7,937.7h.01M122.3,974.1h.01M141.3,974.7h.01M105.1,933.8h.01M152.5,952.1h.01M144.3,942.1h.01M127.7,930.1h.01M108.2,925.1h.01M129.6,972.3h.01M128.1,935.8h.01M124.4,930.9h.01M149.6,934.9h.01M110.1,967.2h.01M129.9,943.7h.01M158,943.1h.01M155.2,949.6h.01M123.3,940h.01M160.9,939.3h.01M149.5,942.7h.01M151.7,954h.01M102.5,928.7h.01" stroke="#000" stroke-width="3.6" opacity="0.55" filter="url(#bl1)"/>
<path d="M132,939.2h.01M152.2,935.2h.01M141.2,937.2h.01M131.3,934.9h.01M149.2,947.4h.01M136.5,960.3h.01M131.8,940.1h.01M114.6,958.4h.01M157,931.1h.01M146.7,937.1h.01M137,946.8h.01M123.2,957.1h.01M125.2,944.1h.01M112.5,950.4h.01" stroke="#54B0FF" stroke-width="4.4" opacity="0.9" filter="url(#bl1)"/>
</g>
<text x="59.6" y="889.8" font-size="27.3" fill="#fff">Fe</text>
<rect x="65.3" y="1006" width="40" height="8" fill="#fff"/>
<clipPath id="icc4"><rect x="219.2" y="862.2" width="161.8" height="161.3"/></clipPath>
<rect x="219.2" y="862.2" width="161.8" height="161.3" fill="#000"/>
<g clip-path="url(#icc4)" fill="none" stroke-linecap="round">
<path d="M256.8,1008.1h.01M272.1,993.6h.01M226,996.1h.01M348,945.9h.01M269.6,917.7h.01M290.1,984.4h.01M323.3,878.1h.01M349.7,964.6h.01M270.6,920.8h.01M276.6,994.9h.01M279.8,988.4h.01M321.4,967.9h.01M338.4,911.9h.01M304.9,929.3h.01M311.9,985.3h.01M268.7,909.2h.01M257.4,941h.01M250.7,876.6h.01M375.1,893.2h.01M307.4,882.4h.01M308.3,922.4h.01M321.9,1002.1h.01M295.4,985.2h.01M254.7,947.9h.01M280.8,969.7h.01M249.4,875.5h.01M360.2,893.6h.01M230.5,864.2h.01M325.6,980.4h.01M371.4,981.9h.01M355,983.7h.01M373.1,1014.2h.01M225.1,989.2h.01M287,958.2h.01M345.2,883.9h.01M342.4,867.4h.01M270.1,919.4h.01M309.8,938.4h.01M379.9,980h.01M354.4,1004h.01M276.1,1007.2h.01M309.3,905.5h.01M258.6,992.6h.01M242.6,979h.01M229.9,952.8h.01" stroke="#1ECCCC" stroke-width="3.2" opacity="0.55" filter="url(#bl1)"/>
<path d="M289.8,913.4h.01M347.8,970.7h.01M311.6,974.7h.01M314.4,921.9h.01M330.2,932.9h.01M291,961.8h.01M282.9,962.9h.01M327.7,960h.01M324.4,952.3h.01M305.2,942.5h.01M306.5,946.5h.01M349.1,967.8h.01M336.9,939.3h.01M283.3,977.2h.01M319.3,903.7h.01M343.4,933.7h.01M295.1,962.7h.01M280.6,935.7h.01M319.5,936.9h.01M274.1,952.1h.01M331.6,917.2h.01M289.9,954.9h.01M340,962.6h.01M290.9,978.4h.01M275.1,938.2h.01M330,977.7h.01M314.9,963h.01M328.7,903.1h.01M277.8,942.7h.01M296.7,921.5h.01M312.9,982.2h.01M359.8,934.3h.01M319.1,921.5h.01M307.6,984h.01M287.1,945.1h.01M322.8,917.4h.01M315.6,969h.01M314.2,973.9h.01M338.8,900.3h.01M322.3,974.6h.01M291.4,927.9h.01M330.3,954.2h.01M289.2,934.2h.01M287.8,992.5h.01M281,956.1h.01M293.9,976.2h.01M359.9,941h.01M331.4,933.6h.01M322.7,952.7h.01M358.4,934.8h.01M309,925.5h.01M292.1,961.4h.01M300,923.5h.01M304.1,931.3h.01M332.2,919.5h.01M307,895.8h.01" stroke="#1ECCCC" stroke-width="3.2" opacity="0.5" filter="url(#bl1)"/>
<path d="M271.7,968h.01M305.2,917.5h.01M312.5,917.4h.01M285.2,961.7h.01M284.8,970.1h.01M330.1,938h.01M305.9,913.4h.01M321.5,992.5h.01M316.9,974h.01M271.5,989.1h.01M314.3,961.3h.01M341.5,926.5h.01M276.1,933.4h.01M301.2,924.5h.01M273.1,981.5h.01M309.9,968h.01M354.8,961.6h.01M298.8,903.8h.01M320.4,937.5h.01M276.6,962.6h.01M303.4,915.9h.01M309.4,907.7h.01M351.5,933.3h.01M313.6,937.5h.01M308.4,961h.01M335.5,922.7h.01M289.1,917.2h.01M304.7,926h.01M324.2,985.8h.01M290.4,906.6h.01M287.9,947.5h.01M276.3,904.3h.01M288.7,930.9h.01M313.5,971h.01M340.7,949.5h.01M338.2,923.5h.01M314.7,905.7h.01M273,953.6h.01M334.2,981.9h.01M326.8,941h.01M291.2,961h.01M293.7,932h.01M289.4,935.9h.01M319.3,909.3h.01M352.8,962.8h.01M288.2,897.3h.01M289.1,902.1h.01M271.3,934.1h.01M335.9,930.4h.01M291,978.6h.01M281.6,968.7h.01M323,942.1h.01M307.5,914.2h.01M338,921.3h.01M349.6,942h.01M353,927.4h.01" stroke="#1ECCCC" stroke-width="3.2" opacity="0.7" filter="url(#bl1)"/>
<path d="M287.5,913.8h.01M292.4,902.2h.01M343.3,897.9h.01M329.6,903.7h.01M291.2,926.6h.01M344.8,962.6h.01M342.1,926.6h.01M275.5,966.3h.01M294.6,905h.01M347.4,938h.01M291.6,989.8h.01M306.2,990.3h.01M342.1,980h.01M288.5,904.1h.01M316.7,913.1h.01M359.5,924.1h.01M300.4,941.3h.01M290.4,931.2h.01M300.3,962.9h.01M307,962.2h.01M275.8,937.8h.01M333.2,907.3h.01M359.4,935.6h.01M332.7,916h.01M301.9,909.5h.01M269.2,954.1h.01M326.8,925.4h.01M319.7,982.7h.01M281.4,906.6h.01M351.4,922.7h.01M349.8,936.6h.01M289.2,951.4h.01M278.1,956.6h.01M275.4,967.8h.01M310.6,970.8h.01M281.9,927h.01M295,967.1h.01M326.1,934.6h.01M310.8,927.9h.01M303.5,976.5h.01M324.7,940h.01M273.7,955.2h.01M325.3,948.4h.01M354.2,976.2h.01M275.4,975.4h.01M355.5,929.3h.01M250.7,949.3h.01M325.3,897.4h.01M342.1,898.9h.01M284.7,983h.01M350,930.4h.01M329.5,939.8h.01M314.6,951.4h.01M324.3,939h.01M339.5,930.7h.01M294.2,910.4h.01" stroke="#1ECCCC" stroke-width="3.2" opacity="0.9" filter="url(#bl1)"/>
<path d="M300.8,965.4h.01M313.4,958.6h.01M315.1,963.3h.01M286.7,943.4h.01M292.5,972.7h.01M336.6,980h.01M293.6,943h.01M304.6,912.5h.01M282.8,959.4h.01M327.3,974.2h.01M330.4,939.9h.01M335.8,922.8h.01M301.7,923.9h.01M294.6,979.9h.01M327.7,975.1h.01M338.3,982.1h.01" stroke="#40F4F4" stroke-width="3.5" opacity="0.9" filter="url(#bl1)"/>
</g>
<text x="225.3" y="889.8" font-size="27.3" fill="#fff">Pd</text>
<rect x="230.1" y="1006" width="39.9" height="8" fill="#fff"/>
<clipPath id="icd1"><rect x="55" y="1041.2" width="161.9" height="161.4"/></clipPath>
<rect x="55" y="1041.2" width="161.9" height="161.4" fill="#131313"/>
<g clip-path="url(#icd1)" fill="none" stroke-linecap="round">
<ellipse cx="136.4" cy="1125.4" rx="50" ry="52" fill="#2c2c2c" filter="url(#bl8)"/>
<ellipse cx="136.4" cy="1125.4" rx="43" ry="46" fill="#484848" filter="url(#bl4)"/>
<path d="M92.2,1116.7h.01M91.7,1121h.01M91.9,1125.7h.01M91.9,1130.5h.01M92,1134.2h.01M96.5,1102.7h.01M96.8,1107.5h.01M96.1,1111.8h.01M96.4,1116.5h.01M96.4,1120.9h.01M96.1,1125.6h.01M96.3,1130.2h.01M96.9,1134.2h.01M96.3,1138.6h.01M96.7,1143.8h.01M96.5,1148h.01M100.9,1098.5h.01M100.9,1103.1h.01M100.9,1111.9h.01M100.9,1129.9h.01M100.8,1138.9h.01M101,1148.2h.01M100.9,1152.3h.01M105.2,1089.7h.01M105.5,1094h.01M105.6,1098.5h.01M105.7,1116.5h.01M105.4,1120.8h.01M105.8,1148.1h.01M105.2,1152.5h.01M106,1156.8h.01M105.5,1161.3h.01M109.7,1089.4h.01M110.1,1094h.01M110.2,1103h.01M110,1134.8h.01M109.8,1143.4h.01M109.5,1157h.01M110.2,1161.6h.01M114.1,1085.1h.01M114.6,1089.6h.01M114.8,1120.8h.01M114.5,1148.1h.01M114.7,1161.3h.01M114.7,1165.8h.01M119.1,1080.6h.01M118.8,1085.2h.01M119.1,1093.9h.01M119.1,1098.3h.01M119.2,1103.1h.01M119.2,1107.6h.01M119,1121h.01M119.5,1130h.01M119.1,1134.7h.01M119.2,1143.3h.01M118.4,1152.7h.01M119.1,1166.3h.01M118.9,1170.2h.01M123.5,1080.7h.01M123.7,1084.7h.01M123.6,1125.6h.01M123.3,1165.7h.01M123.3,1170.2h.01M128.1,1080.2h.01M127.6,1094.1h.01M127.8,1139.6h.01M128.1,1147.8h.01M127.9,1170.4h.01M132.5,1080.3h.01M132.7,1102.7h.01M132.7,1129.9h.01M132.5,1143.7h.01M132.4,1161.3h.01M132.4,1170h.01M137.3,1080.3h.01M136.8,1103.1h.01M137.3,1116.7h.01M137,1139.1h.01M137,1152.5h.01M136.9,1170.2h.01M141.3,1080.4h.01M141.4,1107.5h.01M141.5,1170.4h.01M145.9,1080.5h.01M145.8,1107.6h.01M146.3,1139h.01M146.1,1143.9h.01M146,1170.7h.01M150.4,1080.5h.01M150.2,1084.9h.01M150.4,1098.7h.01M150.5,1165.8h.01M150.5,1170.5h.01M154.8,1085.1h.01M155.1,1102.8h.01M155.1,1121.3h.01M154.9,1130h.01M154.8,1143.1h.01M155,1165.8h.01M159.5,1085.2h.01M159.6,1089.3h.01M159.6,1161.4h.01M159.5,1165.8h.01M163.9,1089.6h.01M164.2,1093.9h.01M164.1,1125.8h.01M164.2,1156.9h.01M164.3,1161.8h.01M168.6,1094h.01M168.4,1098.6h.01M168.7,1103h.01M168.3,1116.8h.01M168.6,1125.8h.01M168.8,1129.9h.01M168.6,1152.4h.01M168.3,1157.3h.01M173,1098.4h.01M173.1,1103.1h.01M173,1107.9h.01M172.9,1120.7h.01M173.1,1143.5h.01M172.8,1148.1h.01M172.9,1152.4h.01M177.3,1107.6h.01M177.5,1111.8h.01M177.7,1116.7h.01M177.3,1121.1h.01M177.8,1125.8h.01M177.5,1130.1h.01M177.5,1134.4h.01M177.6,1138.8h.01M177.7,1143.8h.01M181.9,1121.5h.01M182.1,1125.2h.01M182,1129.6h.01" stroke="#bbb" stroke-width="2.5" opacity="0.4" filter="url(#bl07)"/>
<path d="M100.7,1107.9h.01M101.1,1116.4h.01M101.2,1120.8h.01M101.1,1125.5h.01M101.1,1134.7h.01M101.3,1143.5h.01M105.6,1103h.01M105.4,1107.5h.01M105.3,1112.1h.01M105.5,1125.4h.01M105.3,1130h.01M105.3,1134.7h.01M105.7,1139h.01M105.3,1143.3h.01M109.9,1120.7h.01M109.9,1152.6h.01M114.3,1094.2h.01M114.5,1098.6h.01M114.8,1102.9h.01M114.6,1107.2h.01M114.3,1111.8h.01M114.3,1116.8h.01M114.4,1125.6h.01M114.4,1130h.01M114.8,1134.4h.01M114.3,1138.9h.01M114.7,1143.7h.01M114.4,1152.8h.01M114.1,1156.8h.01M119.4,1089.2h.01M118.7,1138.8h.01M118.8,1157.2h.01M123.3,1088.9h.01M123.3,1094.2h.01M123.3,1098.3h.01M123.3,1103.5h.01M123.4,1107.6h.01M123.7,1111.8h.01M123.6,1116.4h.01M123.5,1121.1h.01M123.1,1129.4h.01M123.5,1134.5h.01M123.6,1139.3h.01M123.4,1143.7h.01M123.7,1148h.01M123.7,1152.8h.01M123.1,1157h.01M123.8,1161.7h.01M127.9,1085.1h.01M128.4,1089.5h.01M128.1,1098.4h.01M127.9,1103h.01M127.8,1107.6h.01M127.7,1112.4h.01M128,1116.4h.01M128,1120.7h.01M128,1125.6h.01M128,1129.9h.01M128,1134.6h.01M127.6,1143.4h.01M128.3,1152.6h.01M128.2,1157.2h.01M128.2,1161.4h.01M128.1,1166.3h.01M132.4,1089.5h.01M132.3,1116.1h.01M132.4,1134.5h.01M132.4,1147.9h.01M132.9,1166h.01M136.7,1085h.01M136.8,1089.5h.01M137,1094h.01M136.9,1098.3h.01M136.8,1107.7h.01M137.2,1111.9h.01M137.2,1120.8h.01M137.1,1125.6h.01M136.9,1130.1h.01M137.3,1134.5h.01M136.9,1143.5h.01M137.1,1148h.01M136.7,1156.9h.01M137,1161.7h.01M136.7,1165.4h.01M141.5,1138.8h.01M145.9,1085.2h.01M146,1089.4h.01M146.2,1093.9h.01M145.9,1098.6h.01M146.2,1103.1h.01M145.9,1112.1h.01M146.3,1116.7h.01M146.4,1121.1h.01M145.8,1125.4h.01M146,1129.7h.01M146,1134.5h.01M145.9,1148.1h.01M145.6,1152.7h.01M145.9,1156.7h.01M146,1161.3h.01M146.1,1166.1h.01M150.5,1107.5h.01M150.5,1116.5h.01M150.5,1125.4h.01M150.6,1134.6h.01M150.4,1161.8h.01M155.2,1090.1h.01M154.9,1093.7h.01M154.7,1098.4h.01M155.4,1107.8h.01M154.9,1112.1h.01M155,1116.2h.01M154.8,1125.3h.01M154.9,1134.5h.01M155.1,1138.9h.01M155.1,1148.4h.01M154.8,1152.4h.01M155,1157h.01M155.3,1161.2h.01M159.8,1098.3h.01M159.5,1116.5h.01M159.4,1129.9h.01M159.4,1134.6h.01M159.2,1156.8h.01M163.6,1098.7h.01M163.9,1103.1h.01M164.3,1107.8h.01M163.8,1111.9h.01M164.1,1116.6h.01M164,1121.3h.01M164.1,1130.1h.01M163.8,1134.6h.01M163.7,1139h.01M164,1143.3h.01M164,1148.1h.01M163.9,1152.3h.01M168.4,1107.3h.01M168.7,1111.8h.01M169,1121.1h.01M168.5,1134.7h.01M168.6,1139.1h.01M168.3,1143.7h.01M168.3,1147.5h.01M172.6,1111.7h.01M172.8,1116.5h.01M173.3,1125.5h.01M173,1129.8h.01M172.9,1134.4h.01M173.2,1138.7h.01" stroke="#e0e0e0" stroke-width="2.7" opacity="0.65" filter="url(#bl07)"/>
<path d="M109.9,1098.7h.01M109.9,1107.8h.01M110.1,1112.1h.01M109.8,1116.1h.01M109.9,1125.6h.01M109.8,1129.7h.01M110.2,1139.2h.01M110.3,1148.3h.01M118.7,1112.4h.01M119.4,1116.3h.01M118.8,1125.3h.01M119.2,1147.8h.01M119.1,1161.7h.01M132.7,1085h.01M132.3,1094.1h.01M132.2,1098.6h.01M132.5,1107.5h.01M132.2,1112.4h.01M132.4,1121h.01M132.2,1125.6h.01M132.5,1138.9h.01M132.5,1152.5h.01M132.7,1157.4h.01M141.4,1084.6h.01M141.3,1089.6h.01M141.5,1093.9h.01M141.3,1098.4h.01M141.3,1103.1h.01M141.3,1111.7h.01M141.6,1116.7h.01M141.4,1121.1h.01M141.6,1125.4h.01M142.1,1129.9h.01M141.6,1134.5h.01M141.3,1143.6h.01M141.6,1148h.01M141.5,1152.8h.01M141.5,1157.4h.01M141.6,1161.4h.01M141.7,1165.5h.01M150.6,1089.6h.01M150.3,1094h.01M150.6,1102.6h.01M150.6,1111.9h.01M150.1,1120.9h.01M150.8,1129.8h.01M150.5,1138.9h.01M150.3,1143.8h.01M150.5,1148.2h.01M150.6,1152.4h.01M150.7,1157h.01M159.1,1093.9h.01M159.4,1102.9h.01M159.1,1107.7h.01M159.7,1112h.01M159.5,1121h.01M159.8,1125.2h.01M159.5,1138.9h.01M159.6,1143.7h.01M159.5,1148h.01M158.9,1152.6h.01" stroke="#fff" stroke-width="3" opacity="0.95" filter="url(#bl05)"/>
<path d="M109.4,1091.7V1159.1M118.4,1087.1V1163.7M131.9,1083.9V1166.9M140.9,1083.9V1166.9M149.9,1085.6V1165.2M158.9,1089.1V1161.7" stroke="#fff" stroke-width="1.5" opacity="0.22" filter="url(#bl05)"/>
<rect x="55" y="1041.2" width="161.9" height="161.4" fill="#fff" opacity="0.07" filter="url(#nzw)"/>
</g>
<rect x="65.7" y="1183.9" width="49.5" height="8" fill="#fff"/>
<clipPath id="icd2"><rect x="220" y="1041.2" width="162" height="161.4"/></clipPath>
<rect x="220" y="1041.2" width="162" height="161.4" fill="#000"/>
<g clip-path="url(#icd2)" fill="none" stroke-linecap="round">
<path d="M384,1085.4h.01M383.8,1100.6h.01M372.2,1058.7h.01M368.5,1094.5h.01M380.7,1065.9h.01M375.2,1057.5h.01M378,1086.5h.01M376.2,1082.9h.01M374.3,1115.8h.01M375.2,1083.5h.01M374.4,1098.4h.01M381.3,1065.7h.01M375.8,1108.7h.01" stroke="#D87410" stroke-width="4.5" opacity="0.25" filter="url(#bl15)"/>
<path d="M370.5,1093.5h.01M378.3,1091.3h.01M377.2,1091.8h.01M377,1079.9h.01M373.3,1049.5h.01M374.3,1099h.01M383.7,1077.2h.01M374.8,1058.4h.01M378.5,1079h.01M374.8,1077.6h.01M372,1054.7h.01M374.9,1066.3h.01M369.2,1082.2h.01" stroke="#D87410" stroke-width="4.5" opacity="0.4" filter="url(#bl15)"/>
<ellipse cx="302.6" cy="1127.3" rx="39.6" ry="47.8" fill="#FF8A12" opacity="0.3" filter="url(#bl4)"/>
<path d="M381.7,1128h.01M344,1149.3h.01M304.5,1079.1h.01M296.9,1194.5h.01M356.2,1125.9h.01M359.6,1073.7h.01M327.5,1144.7h.01M282.8,1125.8h.01M313,1134h.01M328.8,1202h.01M251.4,1165h.01M265.3,1164.5h.01M238.4,1178.9h.01M235.3,1194.4h.01M321.5,1121.1h.01M350.5,1048.7h.01M245.3,1054.4h.01M232.6,1104.2h.01M281.5,1189.3h.01M230.8,1067.2h.01M238.3,1144.9h.01M278.3,1085.5h.01M360.1,1146.1h.01M249.7,1066.8h.01M347.8,1192.1h.01M363.7,1131.6h.01M306.6,1057.8h.01M286.3,1075.7h.01M282.6,1140.4h.01M278.1,1192.2h.01M356.1,1056.6h.01M320.3,1055.9h.01M290.6,1201.1h.01M332.1,1108.9h.01M264.3,1114.2h.01M270.8,1195.1h.01M364.9,1154.6h.01M274,1094.8h.01M223.3,1113.2h.01M231.7,1050.3h.01M299.3,1044.4h.01M344.4,1151.5h.01M294.3,1052.9h.01M379.1,1108.2h.01M313.9,1087.7h.01M376.3,1090.7h.01M311.8,1105.1h.01M297.6,1173.2h.01M263.3,1124h.01M317.9,1111.3h.01M343.8,1066h.01M225.3,1139.6h.01M232.8,1050.2h.01M356.8,1111.3h.01M247.5,1104.5h.01M251.3,1162.4h.01M344.4,1179.6h.01M221.2,1119.2h.01M279.2,1196.6h.01M316,1178.6h.01" stroke="#FF8A12" stroke-width="4.5" opacity="0.2" filter="url(#bl15)"/>
<path d="M345,1136.6h.01M301.2,1084.1h.01M305.5,1142.5h.01M316.7,1133.7h.01M299.7,1112.7h.01M318.5,1168.8h.01M278.9,1098.5h.01M263.4,1103.8h.01M264.4,1108h.01M326.9,1114.7h.01M299,1076.4h.01M332.7,1152.2h.01M301.8,1173.7h.01M263.3,1133.8h.01M312.6,1166.4h.01M321.5,1130h.01M304.8,1166h.01M280.3,1172.2h.01M286.6,1125.7h.01M270.7,1153.6h.01M277.9,1116.3h.01M324.8,1139.7h.01M271.2,1108.5h.01M328.7,1167.3h.01M327.7,1166.8h.01M333.8,1103.6h.01M309.6,1157.6h.01M316.4,1085.6h.01M300,1125.5h.01M291.7,1082.4h.01M310.5,1105.3h.01M308.4,1079.5h.01M258.4,1146.5h.01M304.2,1170.7h.01M330.4,1115.5h.01M301.6,1088.7h.01M291.9,1122.4h.01M286.5,1106.5h.01M275.7,1102.8h.01M300.1,1120.7h.01M291.5,1176.4h.01M323.2,1102h.01M317.1,1140.9h.01M295.9,1163.7h.01M280.2,1135.6h.01M295.2,1119.3h.01M290,1110.2h.01M303.3,1181.8h.01M287,1108.8h.01M295.5,1130.7h.01M307.5,1146.4h.01M282.4,1155h.01M317.1,1128.5h.01M299.5,1131.2h.01M292.9,1111h.01M298.7,1130.6h.01M335.8,1128.2h.01M315.3,1169.8h.01M280.3,1164.7h.01M282.7,1143.4h.01M286.5,1098.4h.01M327,1110.8h.01M325.4,1145h.01M283.4,1123.2h.01M340.3,1140.5h.01M323.4,1107.5h.01M322,1133.5h.01M295.3,1142.6h.01M303.4,1143.7h.01M295,1165.8h.01M313.4,1130.4h.01M328,1143h.01M297.2,1168h.01M328,1100.9h.01M312.4,1172.1h.01M316.6,1094h.01M340.7,1135.8h.01M308.1,1173.9h.01M297.7,1103.3h.01M315.7,1086.4h.01M273.7,1162.4h.01M265,1129.4h.01M330.7,1144.1h.01M325.3,1174.2h.01M287.5,1147.6h.01M322.5,1138.2h.01" stroke="#FF8A12" stroke-width="5.6" opacity="0.4" filter="url(#bl15)"/>
<path d="M306.6,1109.4h.01M281.9,1094.5h.01M274.6,1113.4h.01M338.8,1125.6h.01M295.6,1128.1h.01M318,1143h.01M298.2,1178.7h.01M324.5,1130h.01M293.3,1130.6h.01M289.7,1172.3h.01M326.7,1124.5h.01M285.9,1152.4h.01M334.6,1099.9h.01M256,1148.3h.01M317.5,1177.6h.01M317.3,1124.5h.01M294.3,1130h.01M280.4,1110.6h.01M311,1082h.01M294.8,1170h.01M337.2,1095.7h.01M338.4,1126h.01M318.6,1129.8h.01M332.9,1116.7h.01M265.2,1151.5h.01M329.6,1133.1h.01M326.3,1175.8h.01M305.9,1126.2h.01M276.5,1138.6h.01M318.3,1096.6h.01M308.1,1088.3h.01M295.9,1120.6h.01M281.8,1101.6h.01M305.7,1127h.01M326.2,1084.1h.01M295.4,1091.6h.01M280.6,1116.2h.01M310,1096.8h.01M316.6,1163.9h.01M287.1,1119h.01M284.9,1109.1h.01M337.5,1133h.01M267.1,1135.4h.01M329.4,1112.1h.01M322.3,1098.1h.01M298.4,1079.7h.01M302.3,1084.8h.01M313.6,1086.3h.01M266.3,1136.3h.01M307.8,1148h.01M314,1171.6h.01M327.9,1095.1h.01M327.7,1117.2h.01M317.4,1096.3h.01M293.9,1089.3h.01M294,1131.4h.01M279.9,1157.2h.01M267.2,1116.9h.01M324.3,1124.2h.01M267.9,1133.3h.01M302.2,1126.3h.01M321.4,1159h.01M333.2,1134.4h.01M283.2,1150.1h.01M327.1,1150.9h.01M320.7,1092.8h.01M336.8,1118h.01M330.2,1100.1h.01M326.2,1166.9h.01M329.9,1111.9h.01M306.3,1146h.01M278.4,1113.9h.01M309.2,1143.3h.01M288,1122.5h.01M302.6,1125.1h.01M313.6,1155.2h.01M327,1095.9h.01M320.9,1137.2h.01M275.6,1104.3h.01M299.6,1121.1h.01M283.7,1091.9h.01M327.3,1135.5h.01M320.1,1098.4h.01M272.4,1108.8h.01M301.5,1090.2h.01M317.1,1128.6h.01" stroke="#FF8A12" stroke-width="5.6" opacity="0.6" filter="url(#bl15)"/>
<path d="M342.8,1103.3h.01M329.3,1129.1h.01M281.3,1129.4h.01M282.2,1139.9h.01M331.5,1136.2h.01M283.3,1126.9h.01M328.8,1106.9h.01M291.9,1099.5h.01M307.6,1161.3h.01M309.2,1150.9h.01M281.7,1139.7h.01M313.7,1079.6h.01M266.7,1125.8h.01M314.2,1112h.01M330,1124.5h.01M304.5,1164.9h.01M324.9,1136h.01M323.4,1154h.01M273.4,1138.5h.01M274.3,1099h.01M274.6,1148.6h.01M296.9,1181.1h.01M295.8,1088h.01M283,1087.9h.01M293.5,1103.8h.01M299.6,1152.5h.01M331.6,1123.4h.01M312.4,1119.5h.01M311.7,1136.9h.01M266.9,1092.6h.01M323.5,1087.2h.01M295.1,1175.3h.01M261.8,1144.8h.01M325.2,1094.4h.01M300.4,1108.7h.01M310.2,1075.8h.01M323.9,1143h.01M266.8,1147h.01M337.8,1125.3h.01M312.4,1083.5h.01M309.7,1099.3h.01M299,1115.6h.01M280.3,1141.1h.01M295.7,1146.1h.01M273.7,1130.1h.01M275.5,1139.4h.01M300,1171h.01M323.4,1151h.01M324.6,1151.8h.01M267.6,1146.5h.01M312.2,1163.1h.01M271.2,1109.9h.01M343.2,1117.5h.01M287,1093.5h.01M296.3,1088.5h.01M310.8,1119.7h.01M280.7,1114.3h.01M277.9,1133.9h.01M296.5,1137.9h.01M325.2,1116.8h.01M319.5,1114h.01M307.9,1079.2h.01M303.9,1175.8h.01M280.9,1109.1h.01M308.3,1116.7h.01M282.8,1137.5h.01M315.4,1136.6h.01M307.8,1109h.01M276,1084.8h.01M315.3,1154.3h.01M302.3,1080.6h.01M296.6,1127.1h.01M299.8,1155.7h.01M312.7,1096.2h.01M321.1,1154.8h.01M335.7,1110.2h.01M315.8,1147.6h.01M341.8,1131h.01M300.2,1107.6h.01M299.9,1133.7h.01M274.3,1145.2h.01M274.3,1164h.01M265,1122.6h.01M264.4,1128.1h.01M343.8,1123.8h.01M313.3,1165.6h.01" stroke="#FF8A12" stroke-width="5.6" opacity="0.8" filter="url(#bl15)"/>
<path d="M306.7,1161.4h.01M291.6,1163.7h.01M329.3,1131.6h.01M331.4,1094.5h.01M283,1159.2h.01M313.8,1172.7h.01M323.2,1148.9h.01M321.7,1171.3h.01M334.6,1157.1h.01M270.2,1110.8h.01M298.7,1161.9h.01M276.7,1156.3h.01M297.7,1175h.01M314.2,1156.6h.01M283.1,1129.8h.01M343.9,1139.6h.01M280.4,1089.9h.01M263.7,1119.1h.01M275.6,1145.6h.01M306.7,1148.2h.01M283.3,1119.5h.01M324.3,1150.4h.01M270.9,1165.5h.01M317.9,1141.5h.01M280.4,1154.7h.01M312.2,1117.8h.01M314.5,1128.4h.01M283.5,1100.5h.01M262.7,1120.4h.01M329.3,1100h.01M323.6,1080.2h.01M302.4,1097.1h.01M267.2,1111.8h.01M282.3,1118.2h.01M267.2,1124.2h.01M308.5,1148.9h.01M325.9,1121h.01M270.4,1133.1h.01M336.7,1136.6h.01M320.7,1110.5h.01M292.7,1152.5h.01M277,1118.5h.01M285.1,1102.7h.01M311.4,1097.3h.01M325.3,1153.6h.01M319.9,1173.2h.01M336.3,1149.5h.01M302.9,1086.5h.01M319.7,1135h.01M283.3,1089.5h.01M320.3,1112.7h.01M304.4,1156.4h.01M314.3,1128.6h.01M269,1150.3h.01M313.6,1147h.01M309.5,1173.5h.01M304.3,1166.3h.01M314.6,1134.8h.01M325.4,1102.9h.01M338.7,1120.9h.01M321.8,1156.9h.01M314.4,1140.6h.01M293.3,1104h.01M323.4,1158.2h.01M344.5,1128.8h.01M302.1,1106.6h.01M311.4,1127h.01M298.7,1119.6h.01M298.8,1145h.01M291.6,1120.6h.01M281.9,1113h.01M297.2,1087.6h.01M283.9,1098.5h.01M281.8,1124.3h.01M328.5,1107.1h.01M275.2,1177h.01M297.7,1153.7h.01M277.5,1105.8h.01M266.3,1148.2h.01M300,1152.9h.01M283.2,1112.8h.01M345.5,1140.8h.01M315.9,1147.2h.01M305,1124.7h.01M325.9,1169.7h.01M297.3,1153.9h.01M268.9,1132.5h.01M290.8,1151.9h.01M293.6,1118.2h.01M333.7,1120.2h.01M316.1,1082.2h.01M332.3,1123.6h.01M287.7,1188.1h.01M295.7,1113.9h.01M335.6,1147.4h.01M306.1,1131.3h.01M295,1174.1h.01M285.3,1111.6h.01M338.8,1138.8h.01M316.3,1115.3h.01M311.7,1091.1h.01M290.9,1094.6h.01M328.6,1109.6h.01M268.9,1108.8h.01M317,1168h.01M277.6,1121.6h.01M305.2,1156.8h.01M269.9,1121.7h.01M323.5,1088.8h.01M322.8,1096.8h.01" stroke="#000" stroke-width="5" opacity="0.55" filter="url(#bl15)"/>
<path d="M302,1090.5h.01M323.7,1119.5h.01M296.2,1084.5h.01M328.7,1131h.01M281.8,1150.6h.01M284,1125.4h.01M329.9,1105.5h.01M265.5,1140.4h.01M322,1164.6h.01M326.6,1133.4h.01M319.9,1124.6h.01M291.8,1087.5h.01M306,1156.5h.01M288.3,1128.1h.01" stroke="#FF9418" stroke-width="6.2" opacity="0.9" filter="url(#bl15)"/>
</g>
<text x="226.9" y="1069.8" font-size="27.3" fill="#fff">Pt</text>
<rect x="230.1" y="1184" width="49.5" height="8" fill="#fff"/>
<clipPath id="icd3"><rect x="55" y="1205.4" width="161.9" height="161.6"/></clipPath>
<rect x="55" y="1205.4" width="161.9" height="161.6" fill="#000"/>
<g clip-path="url(#icd3)" fill="none" stroke-linecap="round">
<path d="M171.5,1297.7h.01M123.8,1234.6h.01M116.1,1273.7h.01M176,1213h.01M107.2,1249.6h.01M66.4,1343.3h.01M151.7,1298.8h.01M150,1328.3h.01M196.1,1322.6h.01M182,1240.5h.01M103.9,1298.8h.01M178.4,1277.7h.01" stroke="#3A84D8" stroke-width="3.8" opacity="0.5" filter="url(#bl1)"/>
<path d="M154.5,1291.8h.01M178.8,1311.7h.01M114.2,1277.1h.01M131.1,1273.9h.01M138.1,1307.1h.01M143.7,1279.6h.01M140.6,1266.2h.01M140.4,1300.8h.01M131.3,1310.7h.01M112.3,1297.7h.01M122.1,1300.4h.01M138.5,1306.4h.01M127.2,1277.4h.01M131,1275.3h.01M121.7,1267.8h.01M163,1298.4h.01M119,1324.4h.01M148.7,1278.1h.01M129.6,1295.8h.01M145.9,1337.5h.01M133.1,1332h.01M120.5,1314.3h.01M119.3,1264.5h.01M127.7,1268.5h.01M153.6,1287.5h.01M146.9,1277.1h.01M128.4,1320.8h.01M145.8,1302.3h.01M150,1297h.01M156.6,1286.1h.01M156.3,1312.8h.01M171.6,1316.7h.01M132.4,1260.1h.01M136.6,1286.6h.01M134.6,1323.7h.01M144.9,1307.2h.01M144.1,1290.2h.01M121.3,1289.4h.01M134.8,1290.9h.01M164.1,1305.6h.01M141.7,1297.3h.01" stroke="#3A84D8" stroke-width="3.8" opacity="0.45" filter="url(#bl1)"/>
<path d="M154.7,1286.5h.01M133.3,1293.7h.01M140.5,1306.6h.01M93.3,1293.2h.01M170.7,1305.6h.01M157.5,1293.8h.01M118.6,1288.9h.01M154.5,1328.4h.01M145.1,1294.1h.01M114.6,1284.1h.01M144,1273.9h.01M170.3,1293.5h.01M106.3,1290.9h.01M142.7,1265.2h.01M138.9,1295h.01M114.4,1319h.01M130.7,1276h.01M153,1300h.01M143.1,1283.2h.01M155.3,1312.8h.01M163.7,1265.3h.01M137,1298.4h.01M158.7,1296.2h.01M128.1,1284.1h.01M161.1,1292.5h.01M134.8,1279.3h.01M145.3,1260.4h.01M165.7,1314.8h.01M126.5,1290.8h.01M129.3,1274.3h.01M134.1,1291.8h.01M123.1,1259h.01M135.4,1295.9h.01M173.2,1313.6h.01M157.5,1283.2h.01M154.8,1305.9h.01M160.1,1266.5h.01M137.2,1296.4h.01M180.3,1297.8h.01M128.1,1270.8h.01M108.6,1326.6h.01" stroke="#3A84D8" stroke-width="3.8" opacity="0.65" filter="url(#bl1)"/>
<path d="M143.4,1298.3h.01M152.2,1301h.01M133.6,1296.8h.01M131.3,1326.8h.01M151.7,1312.2h.01M134.7,1319.2h.01M144.7,1305.9h.01M124.1,1303.7h.01M95.8,1296.3h.01M116,1298.8h.01M129.5,1262.6h.01M142.2,1313.2h.01M148.1,1306.6h.01M153.9,1305h.01M123.8,1273.5h.01M161.9,1314.8h.01M167.1,1322.4h.01M146.2,1324.8h.01M150.1,1317.5h.01M151.3,1300.6h.01M122.2,1293.7h.01M147.2,1282.6h.01M113.9,1318.2h.01M115.5,1320.4h.01M147.8,1260h.01M136.6,1304.7h.01M118.1,1312.3h.01M164.8,1311.4h.01M140.8,1283.8h.01M134.3,1290.3h.01M127.2,1329.5h.01M109.1,1282.6h.01M136.5,1329.9h.01M148.6,1267h.01M159.8,1335.1h.01M146.1,1304.7h.01M148.8,1290.3h.01M175.3,1302.7h.01M161.9,1313.7h.01M173.4,1304.8h.01M130.8,1322.2h.01" stroke="#3A84D8" stroke-width="3.8" opacity="0.85" filter="url(#bl1)"/>
<path d="M157,1281.2h.01M145.4,1271.3h.01M143.1,1322.6h.01M139.8,1285h.01M156.3,1295.3h.01M123.3,1289.4h.01M169,1271h.01M160.5,1308.8h.01M147.2,1307.9h.01M147.2,1264.8h.01M111.4,1289.2h.01M116.6,1312.5h.01" stroke="#50A4FF" stroke-width="4.2" opacity="0.9" filter="url(#bl1)"/>
</g>
<text x="60.3" y="1234.9" font-size="27.3" fill="#fff">Fe</text>
<rect x="65.3" y="1348.5" width="49.6" height="8" fill="#fff"/>
<clipPath id="icd4"><rect x="220" y="1205.4" width="162" height="161.6"/></clipPath>
<rect x="220" y="1205.4" width="162" height="161.6" fill="#000"/>
<g clip-path="url(#icd4)" fill="none" stroke-linecap="round">
<path d="M294.5,1345.2h.01M380.8,1348.8h.01M361,1221.2h.01M289.6,1359.6h.01M303.8,1350.7h.01M296.4,1365.1h.01M336.6,1355.4h.01M305.6,1251.1h.01M335.6,1327.8h.01M305.2,1360.7h.01M284.3,1237h.01M245.3,1327.1h.01M224.1,1310.5h.01M340.2,1360.3h.01M293.4,1300.7h.01M269.3,1217.3h.01M291.6,1338.7h.01M280.1,1300.7h.01M310.6,1318.7h.01M272.4,1258.2h.01M225.6,1358h.01M279.6,1240.8h.01M347.8,1333.6h.01M294.8,1208.8h.01M292,1302.2h.01M303.6,1226.4h.01M308.2,1229.3h.01M356.7,1357.4h.01M232.4,1234.9h.01M327.9,1254.3h.01" stroke="#8CCCCC" stroke-width="3.8" opacity="0.55" filter="url(#bl1)"/>
<path d="M259.2,1295.5h.01M330.2,1310.7h.01M275.8,1276.5h.01M305.2,1318.1h.01M255.6,1308.2h.01M273.8,1329.6h.01M306.5,1304.9h.01M315.1,1269.9h.01M311.6,1292.3h.01M324.8,1260.8h.01M308.1,1288.7h.01M296.6,1283.9h.01M268.9,1266.3h.01M332.4,1319.5h.01M322,1336.3h.01M306.8,1302.5h.01M273.5,1292.8h.01M273.3,1313.2h.01M318,1308h.01M292.4,1309.5h.01M319.8,1313.8h.01M272.8,1298.9h.01M303.5,1278.8h.01M279.2,1325.9h.01M320.9,1303.4h.01M309.2,1292.4h.01M315.2,1314.7h.01M333.5,1326.4h.01" stroke="#8CCCCC" stroke-width="3.8" opacity="0.5" filter="url(#bl1)"/>
<path d="M292.5,1315.7h.01M301.6,1321.6h.01M269,1294.1h.01M295.9,1255.9h.01M304.1,1300.5h.01M294.8,1298.8h.01M279,1251.3h.01M281.9,1317.5h.01M305.4,1292.8h.01M266.2,1302.2h.01M279.6,1324.4h.01M322.5,1318.2h.01M256.5,1289.5h.01M275.7,1303.1h.01M302.6,1263.3h.01M263.5,1271.7h.01M305.1,1285.8h.01M265.9,1316.5h.01M291.3,1297.4h.01M307.1,1293.4h.01M295.1,1305.5h.01M276,1309.5h.01M301.8,1267.8h.01M303.6,1303.8h.01M274.2,1251h.01M269.7,1295.3h.01M332,1297.6h.01M258.7,1296.6h.01" stroke="#8CCCCC" stroke-width="3.8" opacity="0.7" filter="url(#bl1)"/>
<path d="M302.8,1263.1h.01M291.7,1308.9h.01M317.5,1296.7h.01M256.4,1308.6h.01M342.7,1291.6h.01M294,1272.5h.01M316.1,1282h.01M322.7,1324.4h.01M319.6,1310.5h.01M313.7,1274.2h.01M304.7,1292.9h.01M265.9,1278.2h.01M299.8,1317.5h.01M276.9,1322.6h.01M330.8,1292.4h.01M257,1297.4h.01M288.5,1270.2h.01M284,1310.5h.01M310.1,1321.6h.01M318.5,1275.7h.01M289.4,1301.3h.01M312.5,1335.9h.01M260.3,1266.3h.01M324.7,1274h.01M299.4,1292.5h.01M293.5,1330.7h.01M297.9,1294.2h.01M287.9,1315.1h.01" stroke="#8CCCCC" stroke-width="3.8" opacity="0.9" filter="url(#bl1)"/>
<path d="M301.1,1338.7h.01M253.5,1289.5h.01M276.1,1300.2h.01M304.1,1280.1h.01M330.2,1302.3h.01M298.6,1292.5h.01M325.5,1284.6h.01" stroke="#C0FFFF" stroke-width="4.2" opacity="0.9" filter="url(#bl1)"/>
</g>
<text x="227" y="1234.9" font-size="27.3" fill="#fff">Ag</text>
<rect x="230.1" y="1348.5" width="49.6" height="8" fill="#fff"/>
<text x="1" y="44.3" font-size="41" font-weight="bold">a</text>
<text x="0" y="389" font-size="41" font-weight="bold">b</text>
<text x="1" y="728" font-size="41" font-weight="bold">c</text>
<text x="-1" y="1076" font-size="41" font-weight="bold">d</text>
<clipPath id="lpa"><rect x="391.8" y="11.5" width="195" height="300.6"/></clipPath>
<g clip-path="url(#lpa)" fill="none" stroke-width="2.5" stroke-linejoin="round" stroke-linecap="round">
<path d="M575.2,11.5 575.3,11.8 575.2,12.5 575.3,13.8 575.4,15.7 575.5,18.1 575.6,20.7 575.5,23.3 575.3,25.6 574.8,27.5 573.7,29.4 572.2,31.1 570.5,32.5 568.5,33.8 567,34.5 565.4,35.2 563.5,35.8 561.6,36.4 559.6,36.9 557.5,37.4 555.3,37.8 553.1,38.3 551,38.8 549.1,39.1 547.1,39.5 545.1,39.9 543,40.2 540.9,40.5 538.8,40.8 536.7,41.1 534.5,41.4 532.4,41.7 530.2,41.9 528.1,42.2 526,42.5 523.9,42.8 521.8,43.1 519.6,43.3 517.4,43.6 515.3,43.9 513.1,44.1 511,44.4 508.9,44.6 506.8,44.9 504.8,45.2 502.9,45.5 501,45.8 498.6,46.1 496.1,46.5 493.7,46.8 491.5,47.1 489.4,47.6 487.5,48.1 486,48.8 483.5,50.5 482.2,52.5 482.9,54.4 483.5,56.2 482.2,58.2 479.8,60 478.2,60.7 476.3,61.2 474.1,61.7 471.9,62.1 469.7,62.6 467.7,63.1 466,63.8 463.7,64.9 461.8,66.2 461,67.5 462.1,69.4 464.8,71.2 466.2,71.9 467.9,72.4 469.9,72.8 472,73.1 474.2,73.5 476.5,73.8 478.8,74.1 481,74.5 482.9,74.9 485,75.2 487,75.5 489.1,75.9 491.2,76.2 493.3,76.5 495.4,76.9 497.3,77.2 499.2,77.6 501,78 503.6,78.6 506.2,79.1 508.5,79.7 510.6,80.4 512.2,81.2 514.1,82.8 514.8,84.5 513.5,85.7 511.1,86.9 508.5,88 506.2,88.9 503.7,89.8 501.4,90.7 499.8,92 498.8,94.6 498.5,97.5 498.2,100.1 497.2,102.5 495.7,103.5 493.5,104.3 491,105 488.4,105.6 486,106.2 483.9,107 481.6,107.7 479.5,108.4 477.6,109.2 476,110 474,111.5 473,113 473.9,114.7 476,116.2 477.6,117.1 479.6,117.8 481.8,118.5 484,119.2 486,120 488,120.9 490,121.7 491.8,122.7 493.5,123.8 495.5,125.4 497.3,127.2 498,128.8 496.5,130.2 493.5,131.2 491.9,131.7 490.1,132.1 488,132.4 485.8,132.7 483.4,132.9 481,133.2 478.5,133.5 476,133.8 474.2,134 472.3,134.2 470.4,134.4 468.3,134.6 466.3,134.8 464.1,135 462,135.2 459.9,135.4 457.7,135.6 455.6,135.8 453.5,136 451.5,136.2 449.6,136.5 447.7,136.7 446,137 443.6,137.4 441.1,137.8 438.7,138.2 436.4,138.6 434.2,139.1 432.4,139.5 430.8,140 429.8,140.5 428.8,141.2 428.5,142 429.3,142.6 431.1,143.2 433.5,143.8 436.1,144.3 438.5,145 440.5,145.6 442.6,146.3 444.7,147 446.9,147.7 449.1,148.4 451.3,149.2 453.5,150 455.4,150.7 457.2,151.5 459.1,152.4 460.9,153.2 462.8,154 464.6,154.8 466.5,155.6 468.5,156.2 470.6,156.9 472.8,157.4 475,157.9 477.2,158.3 479.5,158.8 481.7,159.2 483.9,159.6 486,160 488.3,160.4 490.7,160.9 493.1,161.2 495.4,161.6 497.6,162.1 499.5,162.5 501,163 503.2,164 504.2,165 502.7,166.3 499.8,167.5 497.8,168.1 495.4,168.5 492.9,169 490.5,169.4 488.5,170 485.3,171.1 483.5,172.5 484.6,174.3 486,176.2 485.3,178.2 483.5,180 481.9,180.9 479.9,181.6 477.6,182.3 475.4,183 473.5,183.8 470.3,185.3 468.5,187 469.6,189.1 472.2,191.2 474.1,192.2 476.3,193 478.7,193.7 481.2,194.4 483.5,195 485.6,195.5 487.7,196 489.8,196.4 491.8,196.9 493.5,197.5 496.4,198.9 498,200.5 497,202.1 494.8,203.8 492.9,204.6 490.6,205.4 488.2,206.1 486,207 483.9,208 481.8,209 479.9,210.1 478.5,211.2 477.5,212.5 477.2,213.8 478.6,215.1 481,216.2 482.6,216.9 484.6,217.4 486.8,218 489,218.5 491.3,219 493.5,219.5 495.6,220 497.8,220.4 500,220.9 502.2,221.3 504.2,221.9 506,222.5 508.4,223.6 510.4,224.9 512.2,226.2 514.2,228.1 516,230 517.8,231.2 519.7,232.3 521,233.8 521.5,235.7 521.5,237.9 521,240 520.1,241.6 518.7,243.2 517.3,244.7 516,246.2 514,248.8 513,251.2 513.9,253.2 516,255 517.5,255.8 519.4,256.6 521.6,257.3 523.9,258 526.3,258.7 528.7,259.3 531,260 533.2,260.6 535.4,261.3 537.6,261.9 539.8,262.4 542,263.1 544,263.8 546,264.5 548.2,265.5 550.2,266.5 552.2,267.6 554.1,268.8 556,270 557.7,271.1 559.5,272.3 561.2,273.6 562.9,274.9 564.5,276.2 566,277.5 567.8,279.3 569.5,281.1 571,283 572.2,285 573,286.8 573.6,288.7 574.1,290.7 574.4,292.8 574.8,295 575,297.1 575.1,299.7 575.2,302.4 575.3,305.2 575.3,307.7 575.3,309.8 575.3,311.2 575.2,311.8" stroke="#F6A04D"/>
<path d="M574.8,11.5 574.9,12.4 575.1,14.7 575.4,17.5 575.5,20 575.6,22.6 575.6,25.1 575.2,27.5 574.5,29.5 573.6,31.4 572.4,33.3 571,35 569.2,36.4 567.1,37.6 565.1,38.7 563.5,40 561.8,42.4 561,45 561.7,47.5 562.2,50 561.4,51.9 559.9,53.9 558,55.8 556,57.5 554.2,58.7 552,59.7 549.9,60.5 547.8,61.5 546,62.5 544.2,64.1 542.6,65.9 541,67.5 539.4,68.9 537.9,70.2 536,71.2 534.3,71.9 532.5,72.4 530.4,72.9 528.3,73.3 526,73.8 524.3,74.1 522.3,74.4 520.3,74.7 518.2,75.1 516,75.4 513.8,75.7 511.7,76 509.7,76.3 507.7,76.7 506,77 503.6,77.5 501.3,77.9 499.1,78.4 497.3,78.9 496,79.5 495,80.4 494.8,81.2 496,82.1 498.4,82.9 501,83.8 503.1,84.4 505.5,85.2 507.9,85.9 510.2,86.7 512.2,87.5 514.7,88.7 516.9,89.9 518,91.2 517.5,92.9 516,94.5 514.3,95.4 512.2,96.1 510,96.7 508.5,97.5 507.5,98.5 507.2,99.5 508.5,100.6 510.9,101.6 513.5,102.5 515.4,103.1 517.5,103.7 519.7,104.3 521.7,104.9 523.5,105.5 526.4,106.7 528,108 527.5,109.4 526,110.8 524.5,111.5 522.5,112.1 520.3,112.7 518,113.2 516,113.8 512.9,114.5 510,115.2 508.5,116.2 509.2,117.9 511,119.5 512.6,120.3 514.7,120.9 516.9,121.4 519.2,121.9 521,122.5 523.8,123.7 525.5,125 525,126.5 523.5,128 522.1,128.7 520.2,129.3 518,129.9 515.6,130.3 513.2,130.8 511,131.2 508.8,131.7 506.5,132 504.1,132.4 501.9,132.7 500,133.2 498.5,133.8 496.7,135 496,136.2 497.8,137.6 501,138.8 503,139.3 505.4,139.8 507.9,140.2 510.3,140.7 512.2,141.2 515,142.4 516.5,143.8 515.6,145.4 513.5,147 511.9,147.7 509.9,148.2 507.6,148.6 505.3,149.1 503,149.5 501,150 498.7,150.7 496.4,151.3 494.5,152.1 493.5,153 493.7,154.6 494.8,156.2 496.7,158.1 498,160 496.7,161.8 494.8,163.8 494.1,165.6 493.5,167.5 492.5,170.1 491,172.5 489.3,173.6 487.1,174.5 485,175.3 483.5,176.2 482.5,177.5 482.2,178.8 483.6,180.1 486,181.2 487.7,182 489.7,182.7 491.9,183.5 494,184.2 496,185 498.1,185.9 500.1,186.8 502,187.7 503.5,188.8 505.2,190.3 506,192 504.7,193.8 502.2,195.5 500.2,196.4 497.8,197.1 495.4,197.9 493.5,198.8 491.5,200.3 490.5,202 491,203.5 492.2,205 493.9,206.3 496.1,207.6 498.5,208.8 500.3,209.6 502.2,210.4 504.2,211.1 506.3,211.8 508.5,212.5 510.5,213 512.6,213.5 514.8,213.9 517,214.3 519.2,214.6 521.4,215.1 523.5,215.5 525.7,216 527.9,216.5 530,217 532.1,217.5 534.1,218.1 536,218.8 538.3,219.6 540.6,220.5 542.5,221.5 544,222.5 545.1,223.7 545.5,225 543.8,226.9 541,228.8 538.3,230 536,231.2 535,232.5 534.8,233.8 536.3,235.6 538.5,237.5 540.2,239.4 541,241.2 539.9,242.6 537.8,243.8 536,245 534.3,246.5 533.5,248 535.3,249.7 538.5,251.2 540.3,251.9 542.3,252.6 544.5,253.2 546.8,253.7 549,254.3 551,255 553.5,255.8 556,256.7 558.2,257.6 559.8,258.8 560.5,260.6 561,262.5 562.1,264.4 563.5,266.2 564.9,267.5 566.5,268.7 568.3,270 569.8,271.2 571.2,272.8 572.5,274.5 573.5,276.2 574.2,278.2 574.6,280.3 574.8,282.5 574.5,284.9 573.9,287.5 573.5,290 573.4,292.5 573.4,295 573.5,297.5 573.9,300 574.4,302.5 574.8,305 574.8,307.8 574.8,310.5 574.8,311.8" stroke="#74B4F2"/>
<path d="M566,12.5 567,13.4 569.1,15.4 571,17.5 572.6,20 573.5,22.5 573.3,25 572.2,27.5 571.1,28.9 569.5,30.1 567.7,31.3 566,32.5 564.1,33.7 562,34.9 560.1,36.2 558.5,37.5 556.8,39.9 556,42.5 556.3,45 557.2,47.5 558.4,50 559.8,52.5 561.2,55 562.2,57.5 562.1,60.1 561,62.5 559.7,63.7 557.8,64.8 555.6,65.8 553.3,66.7 551,67.5 549,68.2 546.8,68.7 544.5,69.3 542.2,69.8 540,70.3 537.9,70.7 536,71.2 533,72.1 530.3,72.8 529,73.8 530.1,74.9 532.2,76.2 534.3,77.4 536.6,78.6 538.5,80 540,82.4 541,85 541.6,87.5 542.2,90 543.3,92.1 544.6,94.2 546,96.2 547.6,98 549.3,99.6 551,101.2 552.9,103 554.7,104.7 556,106.2 556.6,107.5 556.5,108.8 555.3,110 553.2,111.3 551,112.5 549.1,113.4 547.1,114.3 545.1,115.2 543.5,116.2 541.5,118.1 540.5,120 541.5,121.9 543.5,123.8 544.9,125 546.6,126.2 548.3,127.4 549.8,128.8 551.3,130.4 552.6,132.2 553.5,133.8 554,135 554,136.2 552.7,138.1 551,140 550,141.9 549.8,143.8 551.4,145.6 553.5,147.5 554.8,149.3 555.5,151.2 554.8,153.7 553.5,156.2 552.1,158.7 551,161.2 551.3,163.8 551.5,166.2 550.4,168.9 548.5,171.2 546.5,172.7 544.2,173.8 542.2,175 540.6,176.3 539.8,177.5 541.1,179.1 543.5,180.5 545.8,181.4 548.5,182.1 551,183 553.9,184.5 556,186.2 556.4,188 556.5,190 556.6,192.4 556.8,195 557.2,197.5 558.4,199.6 559.8,201.7 561,203.8 561.7,205.8 562.1,207.9 562.2,210 561.9,212.5 561.3,215 561,217.5 561.2,219.7 561.7,221.7 562.2,223.8 563.4,226.4 564,228.8 563,230.7 561,232.5 559.4,233.4 557.3,234.1 555.1,234.8 552.9,235.5 551,236.2 548.6,237.4 546.4,238.6 544.8,240 543.5,241.8 543,243.8 544.3,246.2 546,248.8 546.9,250.6 547.2,252.5 546.2,255 544.8,257.5 543.8,259.4 543.5,261.2 544.5,262.6 546.4,263.8 548.5,265 550.3,266 552.2,267 554.3,268 556.4,269 558.5,270 560.6,271 562.7,271.9 564.8,272.9 566.8,273.9 568.5,275 570.5,276.6 572.2,278.2 573.5,280 574.6,282.5 574.8,285 573.8,286.7 572.3,288.3 571,290 569.6,292.5 569,295 570.4,297.5 572.2,300 573,302 573.6,304.2 574,306.2 574.5,309.7 574.8,311.8" stroke="#F0506E"/>
</g>
<rect x="391.8" y="11.5" width="195" height="300.6" fill="none" stroke="#000" stroke-width="1.3"/>
<line x1="408.3" y1="248.5" x2="408.3" y2="270.2" stroke="#F6A04D" stroke-width="2.6" stroke-linecap="round"/>
<line x1="408.3" y1="175.5" x2="408.3" y2="197.8" stroke="#74B4F2" stroke-width="2.6" stroke-linecap="round"/>
<line x1="408.3" y1="96" x2="408.3" y2="117.8" stroke="#F0506E" stroke-width="2.6" stroke-linecap="round"/>
<text transform="translate(419.2,218.1) rotate(-90)" font-size="27" text-anchor="middle">Pt</text>
<text transform="translate(419.2,142.8) rotate(-90)" font-size="27" text-anchor="middle">Fe</text>
<text transform="translate(419.2,61.2) rotate(-90)" font-size="27" text-anchor="middle">Ru</text>
<text x="489.2" y="336.1" font-size="24.6" text-anchor="middle">Intensity (arb. units)</text>
<clipPath id="lpb"><rect x="391.8" y="355.8" width="195" height="300.6"/></clipPath>
<g clip-path="url(#lpb)" fill="none" stroke-width="2.5" stroke-linejoin="round" stroke-linecap="round">
<path d="M581.5,355.8 581.5,356.1 581.6,357 581.6,358.4 581.7,360.3 581.8,362.6 581.9,365.1 582,367.8 582.1,370.7 582.1,373.6 582.1,376.4 582.1,379.2 582.1,381.7 581.9,384 581.8,386 581.5,387.5 580.7,390 579.8,391.8 578.5,393.8 577.3,395.5 575.9,397.3 574.3,399.1 572.6,400.8 571,402.5 569.4,404.1 567.7,405.7 566,407.2 564.2,408.7 562.2,410 560.5,411 558.8,411.9 557,412.7 555.1,413.5 553.1,414.3 551,415 549.2,415.6 547.4,416.1 545.4,416.6 543.4,417.1 541.4,417.5 539.3,418 537.2,418.5 535.1,419 533,419.5 531,420 529,420.6 526.9,421.2 524.9,421.8 522.8,422.4 520.8,423.1 518.8,423.7 516.8,424.4 514.8,425 512.9,425.6 511,426.2 508.7,427 506.3,427.6 504,428.3 501.8,429 499.7,429.7 497.7,430.4 496,431.2 494.1,432.4 492.3,433.7 490.9,434.9 489.8,436.2 489,438.1 488.5,440 487.5,442 486,443.8 484.5,444.7 482.6,445.4 480.5,446.1 478.3,446.8 476,447.5 474,448.1 471.8,448.8 469.5,449.4 467.2,450.1 465,450.7 462.9,451.4 461,452 458,453 455.3,453.9 454,455 455,456.5 457.2,458 459.1,458.8 461.3,459.4 463.8,460 466.2,460.6 468.5,461.2 470.9,462.1 473.3,463 475.5,464 477.2,465 479,466.2 479.8,467.5 478.4,469 476,470.5 474.4,471.6 472.5,472.7 470.5,473.9 468.5,475 466.6,476 464.5,477 462.5,478 460.4,479 458.5,480 456.4,481.2 454.4,482.4 452.5,483.7 451,485 449.3,487.2 448.5,489.5 448.9,491.3 449.8,493.2 451,495 452.4,496.8 454.1,498.4 456,500 457.7,501.3 459.5,502.6 461.4,503.8 463.5,505 465.4,505.9 467.5,506.7 469.6,507.5 471.8,508.3 474,509.2 476,510 478.1,511 480.1,512 482.1,513 484,514 486,515 488,516 490.1,517 492.1,518 494.1,519 496,520 498,521.2 500,522.4 501.9,523.7 503.5,525 506,527.3 507.2,529.5 505.9,531.3 503.5,533 501.8,533.9 499.8,534.6 497.8,535.4 496,536.2 494.1,537.3 492.3,538.5 491,540 490.5,542.3 490.5,544.9 490.5,547.5 490.4,549.7 490.3,551.8 489.8,553.8 488.7,555.2 487.2,556.4 485.4,557.6 483.5,558.8 481.7,559.7 479.7,560.5 477.6,561.4 475.4,562.1 473.1,562.9 471,563.8 468.9,564.6 466.8,565.4 464.7,566.2 462.5,567 460.5,567.9 458.5,568.8 456.4,569.7 454.5,570.8 452.5,571.8 450.6,572.8 448.5,573.8 446.5,574.5 444.3,575.1 442,575.6 439.8,576.2 437.8,576.8 436,577.5 433.5,578.7 431.2,580 430.2,581.2 431.2,582.6 433.5,583.8 435,584.2 436.8,584.6 438.9,584.9 441.1,585.2 443.6,585.5 446.1,585.7 448.6,586 451,586.2 452.9,586.5 454.9,586.8 456.9,587 459,587.3 461.1,587.6 463.2,587.9 465.4,588.1 467.5,588.4 469.6,588.7 471.8,589 473.9,589.2 476,589.5 478.1,589.8 480.2,590 482.2,590.3 484.3,590.5 486.4,590.8 488.5,591 490.6,591.3 492.7,591.5 494.7,591.8 496.8,592 498.9,592.3 501,592.5 503.1,592.7 505.2,592.9 507.3,593.2 509.4,593.4 511.6,593.6 513.7,593.8 515.8,594 517.9,594.2 519.9,594.4 522,594.6 524,594.8 526,595 528.1,595.2 530.2,595.5 532.3,595.7 534.3,595.9 536.3,596.2 538.3,596.4 540.3,596.7 542.2,596.9 544.1,597.2 546,597.5 548.3,597.9 550.6,598.2 552.8,598.6 554.9,599 557,599.4 559.1,599.9 561,600.5 563.2,601.3 565.4,602.1 567.4,603 569.3,603.9 571,605 573,606.5 574.6,608.1 576,610 577.2,612.3 578.1,614.9 578.5,617.5 577.9,620 576.7,622.5 576,625 576.1,627.1 576.6,629.2 577.2,631.2 578.3,633.3 579.5,635.4 580.5,637.5 581,639.9 581.3,642.4 581.5,645 581.6,647.4 581.6,650.3 581.6,653.1 581.5,655.2 581.5,656" stroke="#F6A04D"/>
<path d="M581.5,355.8 581.5,356 581.5,356.7 581.6,357.9 581.6,359.4 581.6,361.3 581.7,363.4 581.7,365.8 581.8,368.3 581.8,371 581.9,373.8 581.9,376.6 581.9,379.4 581.9,382.2 581.9,384.9 581.9,387.4 581.8,389.7 581.7,391.8 581.6,393.6 581.5,395 581,398 580.4,400.2 579.8,402.5 578.9,405 578,407.5 577.2,410 576.9,412.5 576.8,415.1 576.5,417.5 575.9,420.1 574.8,422.5 573.5,423.8 572,425 570.3,426.2 568.5,427.5 567,428.7 565.4,430 563.7,431.3 562,432.6 560.2,433.9 558.5,435 556.6,436.1 554.6,437.2 552.6,438.1 550.6,439.1 548.5,440 546.5,440.9 544.5,441.7 542.4,442.6 540.3,443.4 538.2,444.2 536,445 533.9,445.7 531.8,446.5 529.6,447.2 527.4,447.9 525.2,448.7 523.1,449.3 521,450 518.8,450.7 516.6,451.3 514.4,451.8 512.3,452.4 510.3,453 508.5,453.8 506,454.9 503.8,456.2 502.2,457.5 501.6,458.7 501.5,460 502.8,461.8 504.8,463.8 506.4,465.4 508.2,467 509.8,468.8 511.1,471.2 512.2,473.8 514,476.3 515.5,478.8 516.3,480.7 516.5,482.5 514.9,484.5 512.2,486.2 510.4,487.3 508.2,488.2 505.9,489.1 503.5,490 501.6,490.8 499.5,491.6 497.5,492.5 495.3,493.3 493.2,494.2 491,495 488.9,495.7 486.8,496.4 484.6,497.2 482.4,497.8 480.2,498.6 478.1,499.3 476,500 473.8,500.8 471.5,501.6 469.3,502.5 467.2,503.3 465.3,504.1 463.5,505 461.3,506.2 459.3,507.4 458,508.8 457.2,510.4 457.2,512 458.7,513.6 461,515 462.6,515.7 464.6,516.4 466.7,516.9 468.8,517.5 471,518 473,518.5 475.1,518.9 477.3,519.2 479.4,519.6 481.5,520 483.5,520.5 485.7,521.1 487.9,521.7 490,522.3 491.9,523 493.5,523.8 495.5,524.9 496.5,526.2 495.5,527.8 493.5,529.5 491.5,530.9 489.2,532.3 487.2,533.8 485.2,535.6 484,537.5 484.6,539.4 486,541.2 487.4,542.6 489.1,543.8 491,545 492.8,546 494.7,546.9 496.7,547.8 498.5,548.8 500.5,549.9 502.5,551.1 504,552.5 505.1,554.9 506,557.5 507,560.1 508.5,562.5 510,563.6 511.9,564.6 514,565.4 516,566.2 518.2,567.2 520.5,568 522.8,568.9 524.8,570 526.6,571.5 528.2,573.2 529.8,575 531,576.7 532.1,578.4 533.5,580 535.1,581.1 536.9,582.1 538.9,582.9 541,583.8 542.9,584.4 544.9,585.1 547,585.7 549.2,586.3 551.4,586.9 553.5,587.5 555.6,588.1 557.8,588.7 559.9,589.3 562,589.9 564.1,590.6 566,591.2 568.4,592.1 570.7,593 572.8,593.9 574.8,595 576.7,596.5 578.4,598.2 579.8,600 580.9,602.4 581.5,605 581.6,607.4 581.5,610 581,612.5 580.2,614.7 579,616.7 578,618.8 576.8,621.2 576,623.8 576.1,625.8 576.6,627.9 577.2,630 578,632.1 578.9,634.2 579.8,636.2 580.4,638.2 581,640.2 581.5,642.5 581.7,644.8 581.7,647.6 581.7,650.6 581.6,653.3 581.5,655.3 581.5,656" stroke="#74B4F2"/>
<path d="M582.2,355.8 582.3,356 582.3,356.6 582.3,357.6 582.3,358.9 582.3,360.5 582.4,362.4 582.4,364.6 582.4,366.9 582.5,369.4 582.5,372 582.5,374.7 582.5,377.4 582.6,380.2 582.6,382.9 582.6,385.6 582.6,388.2 582.5,390.7 582.5,393 582.5,395.1 582.4,397 582.3,398.7 582.2,400 582,403.1 581.7,405.4 581,407.5 579.7,409.4 578,411 576,412.5 574.3,413.4 572.3,414.2 570.2,414.9 568.1,415.6 566,416.2 563.9,416.9 561.8,417.5 559.7,418.2 557.8,418.8 556,419.5 553.1,420.9 551,422.5 550.4,424.2 550.2,426.2 550.3,428.2 550.6,430.4 551,432.5 551.3,434.6 551.6,436.8 552.2,438.8 553.7,440.5 555.5,442.1 557.2,443.8 558.8,445.4 560.4,447 561.5,448.8 562.2,451.3 562.2,453.8 561.8,455.6 561.5,457.5 562.8,460 564.8,462.5 566.2,464.2 567.8,465.9 569,467.5 569.6,469 569.8,470.5 569.3,472.3 568.4,474.3 567.2,476.2 565.9,477.9 564.4,479.5 562.7,481 561,482.5 559.4,483.8 557.6,485.1 556,486.4 554.8,487.5 553.6,488.7 553,490 553.6,491.8 554.8,493.8 555.8,496.2 556.5,498.8 556.4,500.8 555.9,503 555.5,505 554.9,507 554.8,508.8 555.7,510.7 557.2,512.5 559.1,514.4 561,516.2 562.3,517.5 563,518.8 562.2,520.6 560.5,522.5 559,523.8 557.2,525.1 555.3,526.3 553.5,527.5 551.4,528.8 549.4,530.1 548,531.2 547.4,532.1 547.2,533 548.7,534.6 551,536.2 553,537.5 555.2,538.7 557.2,540 559.6,541.8 561.5,543.8 562.5,545.6 563,547.5 562.3,550 561.5,552.5 561.9,555.1 563,557.5 564.5,558.9 566.5,560.1 568.5,561.2 570.3,562.5 572.1,563.7 573.5,565 574.4,566.5 574.8,568 573.9,570.2 572.2,572.5 570.9,573.8 569.2,575 567.5,576.2 566,577.5 564.4,579.1 563.1,580.8 562.2,582.5 562.3,585 563,587.5 564.2,590.1 566,592.5 567.4,593.8 569,595 570.7,596.2 572.2,597.5 573.6,598.9 574.9,600.5 576.2,602.1 577.2,603.8 578.2,605.5 579.1,607.4 579.9,609.3 580.5,611.2 580.9,613.4 581.2,615.5 581.3,617.7 581.5,620 581.7,621.9 581.9,623.7 582,625.6 582.1,627.7 582.2,630 582.3,631.7 582.3,633.8 582.4,636.2 582.4,638.8 582.4,641.5 582.3,644.2 582.3,646.8 582.3,649.2 582.3,651.4 582.3,653.3 582.3,654.7 582.3,655.7 582.2,656" stroke="#F0506E"/>
</g>
<rect x="391.8" y="355.8" width="195" height="300.6" fill="none" stroke="#000" stroke-width="1.3"/>
<line x1="408.3" y1="596" x2="408.3" y2="617.8" stroke="#F6A04D" stroke-width="2.6" stroke-linecap="round"/>
<line x1="408.3" y1="523.5" x2="408.3" y2="545.2" stroke="#74B4F2" stroke-width="2.6" stroke-linecap="round"/>
<line x1="408.3" y1="443.5" x2="408.3" y2="465.2" stroke="#F0506E" stroke-width="2.6" stroke-linecap="round"/>
<text transform="translate(419.2,565.6) rotate(-90)" font-size="27" text-anchor="middle">Pt</text>
<text transform="translate(419.2,490) rotate(-90)" font-size="27" text-anchor="middle">Fe</text>
<text transform="translate(419.2,409.4) rotate(-90)" font-size="27" text-anchor="middle">Rh</text>
<text x="489.2" y="680.4" font-size="24.6" text-anchor="middle">Intensity (arb. units)</text>
<clipPath id="lpc"><rect x="391.8" y="698.5" width="195" height="300.4"/></clipPath>
<g clip-path="url(#lpc)" fill="none" stroke-width="2.5" stroke-linejoin="round" stroke-linecap="round">
<path d="M578.5,698.5 578.5,698.8 578.6,699.7 578.7,701.1 578.9,703 579,705.2 579.2,707.6 579.3,710.3 579.4,713 579.5,715.8 579.5,718.6 579.5,721.2 579.4,723.7 579.2,725.8 578.9,727.6 578.5,729 577.1,731.2 575.4,732.7 573.5,734 571.6,735 569.5,735.9 567.5,736.8 566,737.8 564.5,739.4 564,741 565.9,742.6 568.5,744 570.2,745.3 571,746.5 570.2,747.2 568.5,747.9 566.2,748.4 563.6,749 561,749.5 559.3,749.8 557.5,750.1 555.5,750.4 553.5,750.7 551.3,750.9 549.1,751.2 546.9,751.4 544.7,751.7 542.4,751.9 540.2,752.2 538.1,752.5 536,752.8 533.9,753.1 531.7,753.4 529.5,753.7 527.3,754 525.1,754.3 523,754.7 520.9,755 518.9,755.4 517,755.7 515.2,756.1 513.5,756.5 511,757.1 508.6,757.7 506.3,758.3 504.7,759 504,759.8 504.9,761.3 507.2,762.8 508.7,763.3 510.6,763.9 512.8,764.3 515.1,764.7 517.3,765.1 519.3,765.5 521,766 524.3,767.3 526,768.5 525.4,768.9 524,769.2 521.9,769.5 519.4,769.7 516.6,769.8 513.7,770 511,770.2 509.3,770.4 507.5,770.6 505.6,770.7 503.7,770.8 501.7,771 499.6,771.1 497.4,771.3 495.2,771.4 493.1,771.6 490.8,771.7 488.6,771.9 486.4,772 484.3,772.1 482.1,772.3 480,772.4 478,772.6 476,772.8 473.7,772.9 471.4,773.1 469.1,773.3 466.7,773.4 464.4,773.6 462.1,773.7 459.9,773.9 457.7,774.1 455.6,774.3 453.6,774.5 451.8,774.7 450.1,775 448.5,775.2 445.8,775.8 443.3,776.4 441.3,777 440.5,777.8 441.4,779 443.5,780.2 445.2,780.8 447.4,781.1 449.8,781.4 451.9,781.8 453.5,782.2 454.9,783.1 455.5,784 454.3,784.6 451.6,785.1 448.6,785.5 446,786 442.8,786.8 441,787.8 442.2,788.6 445.1,789.5 448.5,790.2 450.1,790.6 451.9,790.8 453.8,791.1 455.8,791.3 458,791.6 460.2,791.8 462.4,792 464.6,792.2 466.8,792.3 469,792.5 471,792.8 473.1,793 475.2,793.1 477.4,793.3 479.6,793.5 481.7,793.6 483.8,793.8 485.8,794 487.7,794.2 489.4,794.5 491,794.8 494.1,795.4 496.8,796.1 498,797 496.5,798.6 493.5,800.2 490.9,801.1 488.1,801.8 486,802.8 485,804 484.8,805.2 486,806.2 488.4,807 491,807.8 492.9,808.3 495.1,808.7 497.3,809.1 499.4,809.6 501,810.2 503,811.4 504,812.8 502.5,814.4 499.8,816 497.7,816.8 495.3,817.5 492.9,818.2 491,819 489,820.2 488,821.5 490.2,822.8 492.2,824 491.2,824.9 488.8,825.7 486,826.5 484.5,826.8 482.8,827.1 480.9,827.4 478.9,827.6 476.8,827.8 474.6,828 472.4,828.2 470.1,828.4 467.9,828.6 465.6,828.8 463.5,829 461.4,829.2 459.3,829.4 457.1,829.6 454.9,829.8 452.6,830 450.4,830.2 448.2,830.4 446.1,830.7 444,830.9 442.1,831.1 440.2,831.3 438.5,831.5 435.8,831.8 433,832.2 430.5,832.5 428.7,832.9 428,833.2 428.8,833.7 430.7,834.2 433.3,834.8 436,835.2 437.6,835.5 439.4,835.8 441.3,836 443.4,836.2 445.5,836.4 447.7,836.6 449.9,836.8 452.2,837 454.3,837.3 456.5,837.5 458.5,837.8 460.6,838 462.7,838.3 464.9,838.5 467.1,838.8 469.2,839.1 471.3,839.4 473.3,839.7 475.2,840.1 476.9,840.5 478.5,841 480.8,841.9 482.9,842.9 484.7,844 486,845.2 487.1,847.7 487.2,850.2 486.4,852.2 486,854 487.1,855.1 489.2,856 491.5,856.9 493.5,857.8 496.7,859 498.5,860.2 497.8,861.5 495.9,862.8 493.5,864 491.8,864.6 489.8,865 487.5,865.4 485.1,865.7 482.7,866 480.3,866.3 478,866.6 476,867 473.2,867.6 470.4,868.1 468.1,868.7 466.5,869.5 465.6,870.5 465.5,871.5 466.5,872.2 468.5,872.7 471,873.1 473.5,873.5 475.4,873.8 477.5,874.1 479.7,874.3 482,874.5 484.2,874.8 486.4,875 488.5,875.2 491,875.5 493.7,875.8 496.2,876 498.3,876.4 499.8,877 500.8,878 501,879 499.4,879.9 496.3,880.7 493.5,881.5 490.4,882.7 488.5,884 489.4,885.5 491,887 492.6,888 493.5,889 492.7,889.8 490.9,890.6 488.5,891.3 486,892 484.4,892.4 482.7,892.7 480.8,893 478.7,893.3 476.6,893.6 474.4,893.9 472.2,894.2 470,894.4 467.8,894.7 465.6,895 463.5,895.2 461.4,895.5 459.2,895.8 457,896.1 454.7,896.4 452.5,896.7 450.3,896.9 448.1,897.2 446.1,897.5 444.2,897.8 442.5,898.2 441,898.5 438.1,899.2 435.7,900 434.8,900.8 435.8,901.5 438.2,902.1 441,902.8 442.5,903 444.3,903.2 446.2,903.4 448.3,903.6 450.5,903.7 452.7,903.9 454.9,904 457,904.1 459.1,904.3 461,904.5 463.4,904.7 465.8,905 468.2,905.2 470.5,905.5 472.6,905.8 474.5,906.1 476,906.5 478,907.3 479,908.2 478.1,909.3 475.9,910.4 473.5,911.5 471.7,912.3 469.5,913.1 467.2,914 465,914.8 462.8,915.6 461,916.5 458.6,917.7 456.5,919 455.5,920.2 456.4,921.9 458.5,923.5 460.2,924.2 462.3,924.8 464.6,925.3 466.7,925.8 468.5,926.5 471,928 472.2,929.5 470.9,930.6 468.3,931.7 466,932.8 464.3,934 463.5,935.2 464.9,936.2 467.7,937.1 471,937.8 472.8,938.1 474.8,938.4 476.8,938.6 479,938.8 481.3,939 483.7,939.1 486.1,939.3 488.5,939.5 490.4,939.7 492.4,939.8 494.5,940 496.6,940.1 498.8,940.2 500.9,940.4 503.1,940.5 505.3,940.7 507.5,940.8 509.7,941 511.9,941.2 514,941.3 516,941.5 518.2,941.7 520.3,941.9 522.5,942.1 524.6,942.3 526.8,942.5 528.9,942.8 530.9,943 532.9,943.2 534.8,943.5 536.7,943.7 538.5,944 540.8,944.4 543,944.7 545.1,945.1 547.1,945.5 549.1,946 551,946.5 553.3,947.1 555.8,947.8 558.1,948.5 560,949.3 561,950.2 560.7,952.1 559.8,954 558.9,955.3 558.5,956.5 559.5,957.3 561.4,958.1 563.8,958.8 566.3,959.5 568.5,960.2 570.6,961.1 572.6,961.9 574.5,962.9 576,964 577.6,966.3 578.5,969 578.7,970.8 578.6,972.9 578.3,975.1 577.8,977.2 577.2,979 576.3,980.9 575.1,982.5 573.5,984 571.8,985 569.5,985.8 567,986.6 564.7,987.4 563,988.1 562.2,989 563.4,990.9 566,992.8 567.8,993.6 569.9,994.4 572.2,995.1 574.4,995.8 576,996.5 577.7,997.8 578.5,998.5" stroke="#F6A04D"/>
<path d="M578.5,698.5 578.5,698.7 578.6,699.4 578.6,700.5 578.7,702 578.9,703.8 579,705.9 579.1,708.1 579.2,710.6 579.4,713.3 579.5,716 579.6,718.8 579.6,721.5 579.7,724.3 579.6,727 579.6,729.6 579.5,731.9 579.3,734.1 579.1,736.1 578.9,737.7 578.5,739 577.5,741.1 576.3,742.7 574.9,744 573.5,745.2 571.2,746.7 568.7,748 567.2,749.5 567.3,751.8 568.5,754 570,755 572.2,755.8 574.4,756.6 576,757.8 577.1,759.6 577.7,761.8 578,764 578.2,766.5 578,769.2 577.2,771.5 576.2,773 574.7,774.3 572.9,775.4 571,776.5 569.1,777.3 567,777.9 564.7,778.5 562.5,779 560.3,779.6 558.5,780.2 556.1,781.3 553.9,782.4 553,783.5 553.9,784.7 556,785.9 558.5,787 560.4,787.6 562.6,788.2 565,788.6 567.3,789.1 569.4,789.6 571,790.2 573.1,791.5 574,792.8 573.1,793.6 571.2,794.5 568.6,795.3 566,796 564.4,796.4 562.6,796.7 560.7,797 558.7,797.2 556.6,797.4 554.5,797.6 552.3,797.8 550.2,798 548,798.3 546,798.5 543.9,798.7 541.8,799 539.6,799.2 537.3,799.4 535.1,799.6 533,799.8 531,800 529.1,800.3 527.4,800.6 526,801 522.6,802.2 521,803.5 522.3,804.4 525.2,805.2 528.5,806 530.4,806.4 532.5,806.8 534.8,807.1 537.2,807.5 539.6,807.8 541.9,808.2 544.1,808.6 546,809 548.6,809.6 551.2,810.3 553.3,811.1 554.8,812 555.5,813.2 555.5,814.5 554.1,815.7 551.5,816.8 548.5,817.8 546.7,818.3 544.7,818.7 542.5,819.1 540.2,819.5 537.8,819.9 535.5,820.3 533.2,820.6 531,821 528.7,821.4 526.3,821.7 523.9,822 521.6,822.3 519.5,822.6 517.6,823 516,823.5 513.4,824.7 512.2,826 513.2,826.7 515.4,827.4 518.2,828 521,828.5 522.7,828.8 524.6,829.1 526.6,829.3 528.7,829.6 530.9,829.8 533.1,830 535.2,830.2 537.3,830.5 539.2,830.7 541,831 543.6,831.4 546.4,831.8 548.9,832.2 550.7,832.7 551.5,833.2 550.6,834.3 548.5,835.2 547,835.7 545.3,836.1 543.2,836.4 540.9,836.7 538.4,836.9 535.9,837.2 533.4,837.4 531,837.8 529.1,838 527,838.3 524.9,838.5 522.8,838.8 520.6,839 518.4,839.3 516.2,839.6 514,839.9 511.9,840.1 509.8,840.4 507.9,840.7 506,841 503.4,841.4 500.6,841.8 497.8,842.2 495.2,842.6 493.1,843 491.6,843.5 491,844 492.6,845.3 496,846.5 497.8,846.9 499.9,847.2 502.3,847.5 504.7,847.7 507.1,847.9 509.2,848.2 511,848.5 514.3,849.4 516,850.2 515.5,850.6 514.1,851 512,851.4 509.5,851.8 506.6,852.1 503.8,852.4 501,852.8 499.3,852.9 497.5,853.1 495.6,853.3 493.5,853.4 491.4,853.5 489.3,853.7 487,853.8 484.7,853.9 482.5,854 480.2,854.1 477.9,854.3 475.6,854.4 473.4,854.5 471.2,854.6 469.2,854.8 467.2,854.9 465.3,855.1 463.5,855.2 461,855.5 458.4,855.7 455.7,856 453.1,856.2 450.7,856.4 448.7,856.7 447,857 445.9,857.4 445.5,857.8 446.3,858.6 448.4,859.5 451,860.2 452.5,860.6 454.2,860.8 456.1,861 458.1,861.2 460.3,861.4 462.5,861.5 464.7,861.6 466.9,861.7 469,861.8 471,862 473.4,862.2 475.8,862.3 478.4,862.3 480.9,862.4 483.2,862.5 485.3,862.7 487.1,863 488.5,863.5 490.2,864.7 491,866 490.3,867.3 489.8,868.5 491,869.3 493.3,869.9 496,870.4 498.5,871 501.6,871.8 504.6,872.6 506,873.5 504.4,874.8 501,876 499.3,876.4 497.2,876.8 494.9,877.1 492.5,877.3 490,877.6 487.6,877.9 485.4,878.2 483.5,878.5 480.2,879.2 477.3,880 476,880.8 477.4,881.4 480.4,882.1 483.5,882.8 485.7,883.1 488.2,883.4 490.7,883.7 492.6,884.1 493.5,884.8 492.9,886.2 491,887.8 489.1,888.4 486.5,888.9 483.7,889.2 481.3,889.6 479.8,890.2 479,891.1 479,892 480.2,892.7 482.6,893.2 485.6,893.6 488.5,894 490.5,894.3 492.7,894.6 495,894.9 497.4,895.2 499.8,895.5 502,895.8 504.1,896.1 506,896.5 508.9,897.2 511.5,897.9 513.5,899 514.7,900.9 516,902.8 517.5,903.6 519.3,904.3 521.4,904.9 523.6,905.5 526,906 527.7,906.4 529.6,906.7 531.6,907 533.6,907.3 535.7,907.6 537.9,907.8 540,908.1 542.1,908.4 544.1,908.7 546,909 548.3,909.4 550.6,909.8 552.9,910.2 555.1,910.6 557.2,911 559.2,911.5 561,912 563.2,912.7 565.2,913.4 567,914.2 568.5,915.2 570.3,917.6 571,920.2 570.3,922.8 568.5,925.2 567,926.6 565.2,927.9 563.1,929.1 561,930.2 559.1,931.1 557.1,931.9 555,932.6 552.9,933.3 551,934 548.6,934.9 546,935.8 544,936.7 543,937.8 543.9,939.4 546,941 547.6,941.7 549.5,942.3 551.7,942.9 553.9,943.4 556,944 558,944.7 560.1,945.4 562.1,946.2 564.1,947 566,947.8 568,948.6 570,949.5 571.8,950.4 573.5,951.5 575.2,952.8 576.8,954.3 578,956.5 578.4,957.7 578.6,959.2 578.9,961 579.1,963.1 579.2,965.4 579.3,967.9 579.3,970.5 579.4,973.2 579.3,976 579.3,978.7 579.2,981.5 579.2,984.2 579.1,986.7 579,989.2 578.9,991.4 578.8,993.4 578.7,995.1 578.6,996.5 578.6,997.6 578.5,998.3 578.5,998.5" stroke="#74B4F2"/>
<path d="M579,698.5 579.1,700.7 578.5,704 577.3,705.4 575.5,706.6 573.5,707.8 571.6,708.6 569.4,709.3 567.1,709.9 565,710.7 563.5,711.5 562,713 561.5,714.5 563,715.7 565.8,716.7 568.5,717.8 571,718.8 573.5,719.8 574.8,721 573.6,723.1 571,725.2 568.9,726.2 566.3,726.9 563.9,727.6 562.2,728.5 561.5,729.8 561.5,731 562.7,731.9 564.9,732.6 567.5,733.2 569.8,734 572.1,735.1 574.2,736.3 576,737.8 577.2,739.6 578.1,741.8 578.5,744 578.6,746.5 578.2,749.1 577.2,751.5 576.1,753 574.5,754.3 572.7,755.5 570.6,756.7 568.5,757.8 566.9,758.5 565.1,759.1 563.2,759.7 561.3,760.3 559.3,760.8 557.2,761.3 555.1,761.8 553,762.3 551,762.8 549,763.2 547,763.6 544.9,763.9 542.7,764.3 540.6,764.6 538.5,764.9 536.5,765.3 534.5,765.7 532.7,766.1 531,766.5 528.6,767.2 526.1,767.9 523.9,768.6 522.2,769.4 521.5,770.2 522.5,771.9 524.8,773.5 526.6,774.5 528.9,775.3 531.3,776.1 533.5,777 535.9,778 538.1,779.1 539.8,780.2 540.8,781.5 541,782.8 540.1,783.7 538.2,784.5 535.9,785.3 533.5,786 531.6,786.5 529.5,787 527.2,787.4 524.8,787.8 522.5,788.3 520.1,788.7 517.9,789.1 516,789.5 513.2,790.1 510.4,790.7 508.2,791.3 507.2,792 508.9,793.3 512.2,794.5 513.8,794.9 515.7,795.2 517.7,795.5 519.9,795.8 522.3,796 524.6,796.2 526.9,796.5 529,796.7 531,797 533.4,797.4 535.7,797.7 538,798 540.2,798.4 542,798.9 543.5,799.5 545.3,800.7 546,802 544.8,803.5 542.3,805 539.8,806.5 537.2,807.8 534.7,809 533.5,810.2 534.3,811.5 536.2,812.8 538.5,814 540.3,814.7 542.6,815.3 545,815.8 547.4,816.4 549.4,817 551,817.8 552.8,819.3 553.5,821 552.6,822.2 550.7,823.4 548.5,824.5 546.7,825.4 544.7,826.3 542.6,827.2 540.5,828.1 538.5,829 536.6,830.1 534.9,831.2 533.1,832.3 531,833.2 529.2,833.9 527.3,834.4 525.2,834.9 523.1,835.3 520.8,835.7 518.4,836.1 516,836.5 514.1,836.8 512.1,837 510,837.2 507.8,837.4 505.5,837.6 503.3,837.7 501,837.9 498.7,838 496.4,838.2 494.3,838.4 492.2,838.6 490.3,838.8 488.5,839 485.8,839.4 483,839.8 480.4,840.2 478.2,840.6 476.6,841 476,841.5 477.2,842.3 480.1,843.2 483.5,844 485.1,844.3 486.9,844.6 488.8,844.8 490.9,845 493.1,845.3 495.3,845.5 497.6,845.6 499.8,845.8 502,846 504,846.3 506,846.5 508.3,846.8 510.6,847 512.9,847.3 515.2,847.6 517.4,847.8 519.3,848.2 520.9,848.6 522.2,849 524,850 524.8,851 523.8,851.8 521.7,852.6 518.9,853.3 516,854 514.4,854.4 512.5,854.7 510.6,855 508.5,855.4 506.3,855.7 504,856 501.8,856.3 499.5,856.5 497.2,856.8 495.1,857.1 493,857.4 491,857.8 488.4,858.1 485.7,858.5 482.8,858.8 480.1,859.2 477.6,859.5 475.6,860 474.1,860.4 473.5,861 474.1,862.3 476,863.5 477.2,863.9 478.7,864.3 480.5,864.6 482.6,864.9 484.8,865.1 487.1,865.2 489.4,865.4 491.7,865.6 493.9,865.8 496,866 498.1,866.2 500.2,866.5 502.4,866.7 504.6,866.9 506.7,867.1 508.8,867.3 510.9,867.6 512.7,867.9 514.5,868.2 516,868.5 518.6,869.2 520.7,870 522.2,871 522.9,872.5 523.5,874 525.4,875 528,875.8 531,876.5 532.8,876.9 534.9,877.3 537.1,877.7 539.5,878 541.8,878.4 544.2,878.7 546.4,879.1 548.5,879.5 550.8,880 553.2,880.5 555.6,881 557.7,881.6 559.6,882.2 561,882.8 562.4,883.6 563,884.5 561.7,885.4 559,886.2 556,887 554.1,887.5 551.9,888.1 549.6,888.6 547.4,889.1 545.3,889.7 543.5,890.2 540.7,891.4 538.5,892.8 537.3,894.4 536,896 534.5,896.8 532.6,897.4 530.4,898 528.2,898.5 526,899 523.8,899.4 521.5,899.8 519,900.1 516.7,900.4 514.8,900.9 513.5,901.5 512.4,902.7 512.2,904 513.4,904.9 515.7,905.7 518.4,906.3 521,907 523.3,907.6 525.8,908.1 528.3,908.5 530.5,909.1 532.2,909.8 534,910.8 534.8,912 533.9,913.4 531.9,915 529.8,916.5 527.7,917.7 525.3,918.9 522.9,919.9 521,921 519,922.3 518,923.5 519,924.4 521.1,925.2 523.5,926 525.2,926.4 527.2,926.8 529.4,927.2 531.7,927.5 534,927.8 536.3,928.1 538.5,928.5 540.7,928.9 542.9,929.3 545.2,929.6 547.4,930.1 549.5,930.5 551.6,931 553.5,931.5 556.1,932.3 558.5,933.2 560.6,934.2 562.2,935.2 563.6,936.9 564,938.5 563,939.4 560.9,940.2 558.4,940.8 556,941.5 554,942 551.7,942.5 549.3,942.9 547,943.4 545,943.9 543.5,944.5 541.7,945.8 541,947 541.8,947.6 543.6,948.2 546,948.6 548.6,949 551,949.5 553,949.9 555.2,950.4 557.4,950.8 559.6,951.2 561.9,951.7 564,952.2 566,952.8 568.3,953.5 570.5,954.2 572.6,955.1 574.5,956 576,957 577.8,958.8 579,961.5 579.3,962.8 579.5,964.4 579.7,966.4 579.8,968.7 579.8,971.2 579.8,973.9 579.8,976.7 579.8,979.5 579.7,982.3 579.6,985.1 579.5,987.8 579.4,990.3 579.3,992.6 579.2,994.5 579.1,996.2 579.1,997.4 579,998.2 579,998.5" stroke="#F0506E"/>
</g>
<rect x="391.8" y="698.5" width="195" height="300.4" fill="none" stroke="#000" stroke-width="1.3"/>
<line x1="408.3" y1="936.2" x2="408.3" y2="958" stroke="#F6A04D" stroke-width="2.6" stroke-linecap="round"/>
<line x1="408.3" y1="862.5" x2="408.3" y2="884.2" stroke="#74B4F2" stroke-width="2.6" stroke-linecap="round"/>
<line x1="408.3" y1="783.8" x2="408.3" y2="805.5" stroke="#F0506E" stroke-width="2.6" stroke-linecap="round"/>
<text transform="translate(419.2,904) rotate(-90)" font-size="27" text-anchor="middle">Pt</text>
<text transform="translate(419.2,829) rotate(-90)" font-size="27" text-anchor="middle">Fe</text>
<text transform="translate(419.2,750.2) rotate(-90)" font-size="27" text-anchor="middle">Pd</text>
<text x="489.2" y="1022.9" font-size="24.6" text-anchor="middle">Intensity (arb. units)</text>
<clipPath id="lpd"><rect x="391.8" y="1042" width="195" height="300.9"/></clipPath>
<g clip-path="url(#lpd)" fill="none" stroke-width="2.5" stroke-linejoin="round" stroke-linecap="round">
<path d="M575.2,1042 575.3,1042.4 575.3,1043.5 575.4,1045.2 575.5,1047.4 575.6,1049.9 575.7,1052.7 575.8,1055.6 575.8,1058.4 575.8,1061.2 575.7,1063.7 575.5,1065.8 575.2,1067.5 574.5,1070 573.5,1071.9 572.2,1073.8 571,1075.4 569.5,1077 567.8,1078.6 566,1080 564.2,1081.2 562.3,1082.2 560.3,1083.2 558.1,1084.1 556,1085 554,1085.7 551.8,1086.4 549.6,1087 547.5,1087.5 545.4,1088.1 543.5,1088.8 541.4,1089.5 539.5,1090.3 537.7,1091.1 536,1092 534.2,1093.3 532.6,1094.8 531,1096.2 529,1097.8 527,1099.5 525.5,1101.2 525.1,1103.8 524.8,1106.2 523.5,1107.8 521.8,1109.3 519.8,1110.5 518.2,1111.2 516.5,1111.7 514.6,1112.2 512.5,1112.6 510.4,1113 508.2,1113.3 506,1113.8 504.2,1114.1 502.2,1114.4 500.2,1114.7 498.1,1115 496,1115.3 493.9,1115.6 491.7,1115.8 489.6,1116.1 487.5,1116.4 485.5,1116.7 483.5,1117 481.1,1117.4 478.6,1117.7 476.1,1118 473.7,1118.4 471.4,1118.7 469.3,1119.1 467.5,1119.5 466,1120 463.9,1121 463,1122 463.9,1122.9 466,1123.7 468.5,1124.5 470,1124.9 471.6,1125.2 473.5,1125.5 475.5,1125.8 477.6,1126.1 479.7,1126.4 481.9,1126.6 484.2,1126.9 486.4,1127.2 488.5,1127.5 490.5,1127.8 492.6,1128.1 494.7,1128.4 496.9,1128.7 499,1129 501.2,1129.3 503.4,1129.6 505.5,1129.9 507.6,1130.2 509.7,1130.6 511.6,1130.9 513.5,1131.2 516,1131.7 518.6,1132.2 521.1,1132.7 523.5,1133.2 525.6,1133.8 527.3,1134.4 528.5,1135 529.5,1136 529.8,1137 528.6,1138.1 526.3,1139.1 523.5,1140 522,1140.4 520.3,1140.8 518.4,1141.2 516.4,1141.5 514.3,1141.9 512.1,1142.2 509.9,1142.5 507.6,1142.8 505.4,1143.1 503.1,1143.4 501,1143.8 499,1144.1 496.9,1144.4 494.8,1144.7 492.7,1145 490.5,1145.3 488.4,1145.6 486.3,1145.9 484.2,1146.2 482.1,1146.5 480,1146.9 478,1147.2 476,1147.5 473.9,1147.9 471.8,1148.2 469.6,1148.6 467.5,1148.9 465.5,1149.3 463.5,1149.6 461.5,1150 459.6,1150.4 457.7,1150.8 456,1151.2 453.4,1151.9 450.8,1152.6 448.3,1153.4 446.3,1154.1 444.8,1155 443.4,1156.3 443,1157.5 444.5,1158.8 447.2,1160 448.8,1160.5 450.5,1161 452.5,1161.4 454.6,1161.8 456.7,1162.2 458.9,1162.6 461,1163 463.1,1163.5 465.3,1163.9 467.6,1164.4 469.9,1164.9 472.2,1165.4 474.4,1165.9 476.5,1166.5 478.5,1167 480.9,1167.7 483.2,1168.3 485.4,1169 487.2,1169.7 488.5,1170.5 489.5,1171.5 489.8,1172.5 488.8,1173.7 486.9,1175 484.8,1176.2 483.2,1177.2 481.4,1178.2 479.6,1179.2 477.7,1180.2 476,1181.2 474.1,1182.5 472.1,1183.7 470.3,1185 468.5,1186.2 466.9,1187.5 465.3,1188.8 463.8,1190 462.2,1191.2 460.3,1192.7 458.3,1194.2 456,1195.5 453.9,1196.4 451.6,1197.2 449.1,1197.9 446.8,1198.7 444.8,1199.5 442.4,1200.6 440.3,1201.8 439.2,1203 439.7,1204.4 441,1205.8 442.4,1206.4 444.2,1206.9 446.4,1207.3 448.7,1207.6 451,1208 453,1208.3 455,1208.6 457.2,1208.9 459.4,1209.2 461.7,1209.5 464,1209.8 466.3,1210.2 468.5,1210.5 470.7,1210.9 473,1211.2 475.2,1211.6 477.4,1212 479.7,1212.4 481.8,1212.8 484,1213.3 486,1213.8 488.3,1214.3 490.5,1214.8 492.7,1215.4 494.8,1216 496.7,1216.7 498.5,1217.5 501.1,1218.9 503.4,1220.4 504.8,1222 504.7,1223.5 504,1225 501.9,1226.5 499.8,1228 498.8,1229.6 498.5,1231.2 499.6,1233.4 500.5,1235.5 498.9,1237.3 496,1238.8 494.4,1239.4 492.4,1240 490.3,1240.5 488,1241 485.6,1241.5 483.3,1242 481,1242.5 478.8,1243 476.5,1243.4 474.1,1243.8 471.6,1244.3 469.3,1244.7 467.1,1245.2 465.2,1245.7 463.5,1246.2 460.2,1247.7 458.5,1249.2 459.7,1250.7 462.2,1252 463.7,1252.5 465.5,1253 467.5,1253.4 469.7,1253.8 471.9,1254.1 474,1254.5 476,1255 478.2,1255.6 480.5,1256.1 482.8,1256.7 484.9,1257.3 486.9,1258 488.5,1258.8 491.1,1260.4 492.2,1262 490.6,1263.6 487.2,1265 485.7,1265.5 483.9,1265.8 481.9,1266.2 479.8,1266.4 477.6,1266.7 475.3,1266.9 473.1,1267.2 471,1267.5 468.8,1267.8 466.4,1268.1 464,1268.4 461.5,1268.7 459.2,1269.1 457,1269.5 455.1,1269.9 453.5,1270.5 450.5,1272 449,1273.8 450,1275.7 452.2,1277.5 454,1278.3 456,1279 458.4,1279.6 460.9,1280 463.5,1280.5 465.3,1280.8 467.1,1281 469,1281.3 471,1281.5 473.1,1281.6 475.1,1281.8 477.2,1282 479.3,1282.1 481.4,1282.3 483.5,1282.5 485.5,1282.7 487.5,1282.9 489.6,1283 491.6,1283.2 493.7,1283.4 495.8,1283.6 497.9,1283.7 499.9,1283.9 502,1284.1 504,1284.3 506,1284.5 508.1,1284.7 510.2,1284.9 512.2,1285.2 514.3,1285.4 516.4,1285.6 518.4,1285.9 520.4,1286.1 522.3,1286.4 524.2,1286.7 526,1287 528.3,1287.4 530.5,1287.9 532.5,1288.4 534.6,1288.9 536.5,1289.4 538.5,1290 540.6,1290.7 542.6,1291.5 544.6,1292.2 546.5,1293 548.5,1293.8 550.5,1294.4 552.5,1295.1 554.5,1295.7 556.5,1296.4 558.5,1297 560.9,1297.7 563.3,1298.3 565.5,1299 567.2,1300 568.8,1302.3 569.8,1305 570.2,1307.1 570.5,1309.2 571,1311.2 572.5,1313.8 574,1316.2 574.6,1318.1 575,1320.1 575.2,1322.5 575.4,1324.2 575.4,1326.4 575.5,1328.9 575.5,1331.6 575.4,1334.3 575.4,1336.8 575.3,1339.1 575.3,1340.9 575.3,1342.1 575.2,1342.5" stroke="#F6A04D"/>
<path d="M575.2,1042 575.3,1042.7 575.3,1044.5 575.4,1047.1 575.4,1050 575.4,1052.7 575.2,1055 574.7,1057.7 574,1060.1 573.5,1062.5 573.5,1065 573.7,1067.4 574,1070 574.2,1071.9 574.5,1074 574.8,1076 575.1,1078.1 575.2,1080 575.4,1082.6 575.5,1085.1 575.2,1087.5 574.5,1089.7 573.5,1091.8 572.2,1093.8 570.6,1095.5 568.8,1097.1 567.2,1098.8 566.2,1101.2 565.5,1103.8 564.7,1106.4 563.5,1108.8 562.1,1109.9 560.2,1110.8 558.2,1111.7 556,1112.5 554.1,1113.2 552,1113.8 549.8,1114.4 547.6,1115 545.5,1115.6 543.5,1116.2 541,1117.1 538.4,1118 536.2,1119 534.8,1120 534,1121.2 534,1122.5 535.7,1124.1 538.5,1125.5 540.2,1126.1 542.3,1126.7 544.5,1127.2 546.8,1127.6 549,1128.2 551,1128.8 553.5,1129.6 556.1,1130.5 558.3,1131.4 559.8,1132.5 560.5,1133.7 560.5,1135 559.3,1136.3 557.1,1137.5 554.8,1138.8 552.9,1139.7 550.8,1140.6 548.8,1141.5 547.2,1142.5 545.5,1144 544.8,1145.5 546.1,1147.1 548.5,1148.8 550.4,1150 552.3,1151.2 553.5,1152.5 553.4,1154.4 552.2,1156.2 550.7,1157.4 548.5,1158.3 546,1159.1 543.5,1160 541.3,1160.8 538.9,1161.5 536.5,1162.2 534.2,1163 532.2,1163.8 529.1,1165.2 527.2,1166.8 527.7,1168.2 529,1169.5 530.8,1170.3 533.2,1170.9 535.9,1171.4 538.5,1172 540.6,1172.5 542.8,1173.1 545,1173.6 547,1174.2 548.5,1175 550.2,1176.4 551,1178 550.2,1179.6 548.5,1181.2 546.6,1182.5 544.3,1183.7 542.2,1185 539.8,1186.8 538.5,1188.8 539.3,1190.4 541,1192 542.6,1192.9 544.6,1193.6 546.6,1194.3 548.5,1195 551.7,1196.5 553.5,1198 552.8,1199.3 551,1200.5 549.5,1201.2 547.5,1201.9 545.4,1202.5 543.2,1203.1 541,1203.8 538.7,1204.4 536.3,1205.1 533.9,1205.8 531.7,1206.6 529.8,1207.5 527.7,1208.9 526,1210.4 524.8,1212 524.1,1213.7 524,1215.5 524.6,1217.6 526,1219.5 527.4,1220.6 529.3,1221.4 531.3,1222.2 533.5,1223 535.4,1223.6 537.5,1224.2 539.6,1224.7 541.8,1225.2 544,1225.7 546,1226.2 548.2,1226.8 550.3,1227.4 552.5,1228 554.4,1228.7 556,1229.5 558.4,1231.2 559.8,1233 559.3,1234.7 558,1236.2 556.1,1237.5 553.6,1238.5 551,1239.5 549.1,1240.2 547.1,1241 545.2,1241.7 543.5,1242.5 541.1,1244 539.8,1245.5 540.5,1246.8 542.2,1248 544,1248.8 546.2,1249.4 548.6,1249.9 551,1250.5 553,1251 555,1251.6 557.1,1252.1 559.1,1252.7 561,1253.2 563.2,1253.9 565.6,1254.6 567.5,1255.4 568.5,1256.2 568.3,1257.5 567.2,1258.8 565.6,1259.5 563.2,1260.1 560.7,1260.6 558.5,1261.2 556.2,1262.2 554.2,1263.3 553,1264.5 553.1,1266 554,1267.5 555.6,1268.8 557.8,1269.9 559.8,1271.2 561.1,1272.8 562.2,1274.6 563.5,1276.2 565.1,1277.9 566.8,1279.6 568.5,1281.2 570.3,1282.9 572.1,1284.5 573.5,1286.2 574.6,1288.4 575.2,1291.2 575.4,1292.4 575.5,1293.8 575.6,1295.5 575.7,1297.5 575.8,1299.7 575.8,1302 575.8,1304.6 575.9,1307.2 575.9,1310 575.8,1312.8 575.8,1315.6 575.8,1318.5 575.7,1321.3 575.7,1324.1 575.6,1326.8 575.6,1329.4 575.5,1331.8 575.5,1334.1 575.4,1336.1 575.4,1337.9 575.3,1339.5 575.3,1340.8 575.3,1341.7 575.3,1342.3 575.2,1342.5" stroke="#74B4F2"/>
<path d="M576,1042 576,1042.3 576.1,1043.2 576.1,1044.5 576.2,1046.2 576.3,1048.4 576.4,1050.8 576.5,1053.4 576.6,1056.2 576.7,1059.1 576.7,1062 576.8,1064.8 576.8,1067.6 576.7,1070.2 576.6,1072.5 576.5,1074.6 576.3,1076.3 576,1077.5 575,1079.7 573.5,1081.2 572,1082.2 570,1082.9 567.8,1083.6 565.6,1084.3 563.5,1085 561.1,1085.9 558.7,1086.8 556.5,1087.7 554.8,1088.8 553,1090.3 552.2,1092 553.1,1093.7 554.8,1095.5 556.6,1097 558.9,1098.5 561,1100 562.9,1101.6 564.7,1103.2 566,1105 567.1,1107.5 567.2,1110 566.5,1111.7 565.1,1113.4 563.5,1115 561.7,1116.2 559.5,1117.4 557.5,1118.4 556,1119.5 555,1120.8 554.8,1122 556.6,1123.5 559.8,1125 561.9,1125.9 564.3,1126.8 566.6,1127.7 568.5,1128.8 570.5,1130.6 571.5,1132.5 570.5,1134.4 568.5,1136.2 566.7,1137.3 564.6,1138.2 562.5,1139 561,1140 560,1141.3 559.8,1142.5 561.8,1144 564.8,1145.5 567.3,1147 569,1148.8 568.6,1150.6 567.2,1152.5 565.6,1153.6 563.4,1154.6 560.9,1155.5 558.5,1156.2 556.5,1156.8 554.3,1157.3 552.1,1157.7 550.1,1158.1 548.5,1158.8 546.5,1160 545.5,1161.2 547,1162.5 549.8,1163.8 551.5,1164.6 553.6,1165.4 555.6,1166.2 557.2,1167 559.4,1168.2 560.5,1169.5 559.4,1171 557.2,1172.5 555.5,1173.3 553.5,1174 551.4,1174.7 549.8,1175.5 547.7,1176.7 546.8,1178 548.3,1179.3 551,1180.5 553.1,1181.3 555.5,1182.1 557.8,1182.9 559.8,1183.8 561.9,1184.9 563,1186.2 562,1187.9 559.8,1189.5 557.8,1190.4 555.4,1191.1 552.9,1191.7 551,1192.5 549,1193.7 548,1195 549,1196.8 551,1198.8 552.6,1200.4 554.3,1202.1 556,1203.8 557.7,1205.4 559.4,1207.1 561,1208.8 562.4,1210.4 563.6,1212 564.8,1213.8 565.8,1215.8 566.7,1217.9 567.2,1220 567.3,1222.6 566.5,1225 565.1,1226.4 563.2,1227.6 561,1228.8 559.1,1229.6 557,1230.3 554.8,1231 552.7,1231.8 551,1232.5 548.6,1233.7 547.2,1235 548,1236.5 549.8,1238 551.3,1239 553.2,1240 555.3,1240.9 557.2,1242 559.2,1243.3 561.1,1244.7 563,1246.1 564.8,1247.5 566.7,1249.2 568.5,1250.9 569.8,1252.5 570.4,1253.8 570.5,1255 568.9,1256.6 566,1258 564.4,1258.6 562.5,1259.3 560.4,1259.8 558.2,1260.4 555.8,1260.9 553.4,1261.5 551,1262 549.1,1262.4 547.2,1262.8 545.1,1263.1 543,1263.5 540.9,1263.8 538.7,1264.2 536.5,1264.5 534.4,1264.9 532.2,1265.2 530.1,1265.6 528,1265.9 526,1266.2 523.9,1266.6 521.7,1267 519.6,1267.3 517.5,1267.7 515.4,1268 513.4,1268.4 511.4,1268.8 509.5,1269.1 507.7,1269.6 506,1270 503.4,1270.7 500.8,1271.5 498.4,1272.2 496.7,1273 496,1273.8 497.7,1275 501,1276.2 502.7,1276.8 504.6,1277.4 506.7,1277.9 509,1278.5 511.3,1279 513.7,1279.5 516,1280 517.9,1280.4 519.9,1280.8 521.9,1281.1 523.9,1281.5 526,1281.9 528.1,1282.2 530.1,1282.6 532.1,1283 534.1,1283.4 536,1283.8 538.3,1284.3 540.5,1284.8 542.7,1285.3 544.8,1285.8 546.9,1286.4 549,1286.9 551,1287.5 553.2,1288.1 555.4,1288.7 557.6,1289.3 559.7,1289.9 561.7,1290.5 563.5,1291.2 566,1292.4 568.2,1293.7 569.8,1295 570.4,1296.2 570.5,1297.5 568.9,1299 567.2,1300.5 567.5,1302.1 568.5,1303.8 570,1305 571.9,1306.2 573.5,1307.5 575,1309.6 576,1312.5 576.2,1313.9 576.4,1315.7 576.5,1317.8 576.6,1320.2 576.6,1322.8 576.6,1325.5 576.5,1328.3 576.5,1331 576.4,1333.6 576.3,1336 576.2,1338.1 576.1,1339.9 576.1,1341.3 576,1342.2 576,1342.5" stroke="#F0506E"/>
</g>
<rect x="391.8" y="1042" width="195" height="300.9" fill="none" stroke="#000" stroke-width="1.3"/>
<line x1="408.3" y1="1284.8" x2="408.3" y2="1306.5" stroke="#F6A04D" stroke-width="2.6" stroke-linecap="round"/>
<line x1="408.3" y1="1212.2" x2="408.3" y2="1234" stroke="#74B4F2" stroke-width="2.6" stroke-linecap="round"/>
<line x1="408.3" y1="1132.2" x2="408.3" y2="1154" stroke="#F0506E" stroke-width="2.6" stroke-linecap="round"/>
<text transform="translate(419.2,1255.6) rotate(-90)" font-size="27" text-anchor="middle">Pt</text>
<text transform="translate(419.2,1180) rotate(-90)" font-size="27" text-anchor="middle">Fe</text>
<text transform="translate(419.2,1100) rotate(-90)" font-size="27" text-anchor="middle">Ag</text>
<text x="489.2" y="1366.9" font-size="24.6" text-anchor="middle">Intensity (arb. units)</text>
<clipPath id="spe"><rect x="690.5" y="12" width="556.8" height="591.3"/></clipPath>
<g clip-path="url(#spe)" fill="none" stroke-width="2.5" stroke-linejoin="round" stroke-linecap="round">
<path d="M690.8,106.9 694.5,113.2 698.2,99.8 701.9,91.7 705.6,102.8 709.3,108.3 713,114.2 716.7,93.4 720.4,91.7 724.1,109.8 727.8,108.6 731.5,118.2 735.2,113.7 738.9,103.6 742.6,101.5 746.3,127.3 750,102.5 753.7,96.8 757.4,93.3 761.1,104.3 764.8,105.3 768.5,100.9 772.2,103.3 775.9,106.5 779.6,110.4 783.3,114.3 787,106.4 790.7,87.8 794.4,109.6 798.1,91.3 801.8,101.8 805.5,90.5 809.2,103.3 812.9,96.9 816.6,105.6 820.3,127.7 824,105.1 827.7,111.7 831.4,92.3 835.1,100.8 838.8,109.9 842.5,103.4 846.2,107.3 849.9,105.1 853.6,94.9 857.3,108.7 861,96.8 864.7,120.7 868.4,100.2 872.1,110.1 875.8,104.3 879.5,112.7 883.2,98.9 886.9,112.9 890.6,103.3 894.3,115.5 898,110.3 901.7,105.6 905.4,97 909.1,110.6 912.8,108.6 916.5,119.2 920.2,101.3 923.9,108.9 927.6,108.9 931.3,106.8 935,106 938.7,105.8 942.4,98.6 946,94.5" stroke="#D0161E"/>
<path d="M690.8,226.5 694.5,235.7 698.2,231.1 701.9,231.6 705.6,229 709.3,228.1 713,223.1 716.7,228.5 720.4,238.3 724.1,218.7 727.8,214.3 731.5,239.4 735.2,224.3 738.9,230.4 742.6,229.8 746.3,210.6 750,243.7 753.7,239.1 757.4,223.6 761.1,228.3 764.8,222.6 768.5,212.6 772.2,219.5 775.9,224.5 779.6,231.8 783.3,228.3 787,221.9 790.7,234 794.4,214.4 798.1,228.2 801.8,232 805.5,218.8 809.2,203.8 812.9,211.5 816.6,222.8 820.3,226.1 824,236 827.7,212.2 831.4,220.6 835.1,227.2 838.8,219.8 842.5,198.3 846.2,227.6 849.9,243.4 853.6,231.7 857.3,212.8 861,216.6 864.7,222.9 868.4,244.9 872.1,228.1 875.8,222.4 879.5,236 883.2,221 886.9,238.8 890.6,215.3 894.3,216.2 898,227.6 901.7,234.9 905.4,227.9 909.1,224.2 912.8,203.8 916.5,213.3 920.2,214.8 923.9,215.6 927.6,226.3 931.3,218.1 935,228.4 938.7,222.2 942.4,217.9 946,222" stroke="#EC3B2C"/>
<path d="M690.8,346 693.2,351.8 695.6,352.8 698,359.1 700.4,346.3 702.8,341.9 705.2,348.6 707.6,352.9 710,358.5 712.4,353.4 714.8,351.1 717.2,339.9 719.6,345.3 722,352.7 724.4,364 726.8,348.4 729.2,348.1 731.6,356.9 734,350.6 736.4,356.7 738.8,332 741.2,333.5 743.6,335.9 746,339.6 748.4,350 750.8,342.3 753.2,345.2 755.6,333.7 758,341.7 760.4,337.1 762.8,322.7 765.2,313.4 767.6,323.2 770,327.9 772.4,316.5 774.8,311.6 777.2,319 779.6,320.6 782,321.6 784.4,325.2 786.8,325 789.2,316 791.6,316.6 794,311.3 796.4,321.8 798.8,327.8 801.2,336.2 803.6,336.6 806,344.4 808.4,351.2 810.8,342.4 813.2,336.1 815.6,337.7 818,336.5 820.4,342.3 822.8,350.1 825.2,349.3 827.6,351.4 830,356 832.4,360.4 834.8,360.3 837.2,351.5 839.6,345.8 842,344.7 844.4,332.1 846.8,330.7 849.2,324.7 851.6,315.5 854,318.5 856.4,321.8 858.8,305.2 861.2,302.6 863.6,288.4 866,285.7 868.4,279.9 870.8,278.6 873.2,293.6 875.6,286.9 878,293.9 880.4,300.4 882.8,305 885.2,304.6 887.6,307.7 890,312.1 892.4,331.3 894.8,336.5 897.2,350.6 899.6,346.6 902,343.2 904.4,350.4 906.8,349.1 909.2,349.4 911.6,346.1 914,354.7 916.4,358.4 918.8,359.8 921.2,347.4 923.6,346 926,351.7 928.4,352.3 930.8,353.1 933.2,353 935.6,355.1 938,356.6 940.4,362 942.8,361 945.2,348.8" stroke="#D8D8D8" stroke-width="2.6"/>
<path d="M690.8,462.2 693.2,465.3 695.6,464.3 698,461.5 700.4,468.3 702.8,464.3 705.2,462.2 707.6,469.2 710,472.3 712.4,475.1 714.8,476.6 717.2,461.5 719.6,481.3 722,472.4 724.4,471.4 726.8,470.9 729.2,464.8 731.6,453.9 734,457.6 736.4,460.5 738.8,465.1 741.2,462.6 743.6,452.7 746,458.4 748.4,465.7 750.8,468.3 753.2,466.6 755.6,466.2 758,443.8 760.4,437.9 762.8,436.9 765.2,419.1 767.6,424.8 770,412 772.4,403.4 774.8,417.2 777.2,423.3 779.6,423.2 782,412.4 784.4,409.1 786.8,431.9 789.2,426.4 791.6,438.7 794,446.1 796.4,452.4 798.8,454.6 801.2,468.7 803.6,468.7 806,471.3 808.4,459.1 810.8,441.8 813.2,435.5 815.6,450.1 818,469.2 820.4,466.5 822.8,469.6 825.2,447.5 827.6,449.9 830,461 832.4,451.9 834.8,451.2 837.2,467.7 839.6,465 842,460.8 844.4,456.1 846.8,451.9 849.2,452.2 851.6,445.5 854,445.8 856.4,444.1 858.8,419 861.2,412 863.6,401.7 866,407.2 868.4,393.1 870.8,378.2 873.2,391.9 875.6,384.5 878,400.8 880.4,408 882.8,421.1 885.2,428.4 887.6,427.3 890,442.5 892.4,435.1 894.8,452.5 897.2,461.8 899.6,453.4 902,464.9 904.4,464.5 906.8,454.7 909.2,448.7 911.6,470.4 914,461.2 916.4,446.8 918.8,446.8 921.2,458.4 923.6,466.1 926,466.9 928.4,474.1 930.8,470.1 933.2,467.9 935.6,466.9 938,455.9 940.4,462.9 942.8,475.5 945.2,460.7" stroke="#D8D8D8" stroke-width="2.6"/>
<path d="M690.8,596.6 693.2,594.4 695.6,594.6 698,598.1 700.4,595.5 702.8,581.8 705.2,590.8 707.6,591.9 710,585.8 712.4,585.2 714.8,584.9 717.2,584.1 719.6,598.5 722,598.4 724.4,593.2 726.8,589.1 729.2,583.3 731.6,585.1 734,589.4 736.4,589.6 738.8,590.8 741.2,588.8 743.6,585.6 746,589.4 748.4,593.1 750.8,594.5 753.2,584.5 755.6,579.1 758,577.7 760.4,577 762.8,575.6 765.2,577.8 767.6,573.1 770,577.7 772.4,572.2 774.8,569.7 777.2,558.6 779.6,559.8 782,558.7 784.4,558.1 786.8,556 789.2,569.3 791.6,577.8 794,574 796.4,583.9 798.8,580.8 801.2,585.5 803.6,585.5 806,594.7 808.4,585.4 810.8,588.1 813.2,591.2 815.6,577 818,578.3 820.4,570.6 822.8,574.5 825.2,582.2 827.6,582.7 830,574.7 832.4,579.5 834.8,578.3 837.2,576.7 839.6,582.5 842,578.2 844.4,578.2 846.8,580 849.2,567.3 851.6,560.3 854,556.9 856.4,556.4 858.8,557.1 861.2,539.2 863.6,529.9 866,529.8 868.4,518.3 870.8,520.4 873.2,515.4 875.6,516.4 878,520.9 880.4,528.9 882.8,537.5 885.2,552.3 887.6,558.3 890,564.7 892.4,568.5 894.8,569.6 897.2,570 899.6,566.3 902,587.7 904.4,581.7 906.8,583.1 909.2,571.4 911.6,574.2 914,589 916.4,584.7 918.8,588 921.2,581.7 923.6,590 926,588.6 928.4,588.4 930.8,588.2 933.2,590.8 935.6,598.5 938,589.7 940.4,583.6 942.8,586.7 945.2,592.9" stroke="#D8D8D8" stroke-width="2.6"/>
<path d="M690.8,357.3 946,360.7" stroke="#F68D6F" stroke-width="2.4"/>
<path d="M690.8,357.3 692.8,357.3 694.8,357.3 696.8,357.4 698.8,357.4 700.8,357.4 702.8,357.4 704.8,357.5 706.8,357.5 708.8,357.5 710.8,357.5 712.8,357.5 714.8,357.4 716.8,357.4 718.8,357.3 720.8,357.2 722.8,357.1 724.8,356.9 726.8,356.7 728.8,356.4 730.8,356 732.8,355.5 734.8,355 736.8,354.3 738.8,353.5 740.8,352.5 742.8,351.4 744.8,350.1 746.8,348.7 748.8,347.1 750.8,345.4 752.8,343.6 754.8,341.6 756.8,339.5 758.8,337.4 760.8,335.3 762.8,333.3 764.8,331.3 766.8,329.4 768.8,327.7 770.8,326.2 772.8,325 774.8,324.1 776.8,323.5 778.8,323.3 780.8,323.4 782.8,323.9 784.8,324.7 786.8,325.8 788.8,327.2 790.8,328.8 792.8,330.7 794.8,332.7 796.8,334.8 798.8,336.9 800.8,339.1 802.8,341.2 804.8,343.3 806.8,345.2 808.8,347.1 810.8,348.8 812.8,350.3 814.8,351.7 816.8,353 818.8,354 820.8,355 822.8,355.8 824.8,356.5 826.8,357 828.8,357.5 830.8,357.9 832.8,358.2 834.8,358.5 836.8,358.7 838.8,358.9 840.8,359 842.8,359.1 844.8,359.2 846.8,359.3 848.8,359.3 850.8,359.4 852.8,359.4 854.8,359.5 856.8,359.5 858.8,359.5 860.8,359.6 862.8,359.6 864.8,359.6 866.8,359.6 868.8,359.7 870.8,359.7 872.8,359.7 874.8,359.8 876.8,359.8 878.8,359.8 880.8,359.8 882.8,359.9 884.8,359.9 886.8,359.9 888.8,359.9 890.8,360 892.8,360 894.8,360 896.8,360 898.8,360.1 900.8,360.1 902.8,360.1 904.8,360.2 906.8,360.2 908.8,360.2 910.8,360.2 912.8,360.3 914.8,360.3 916.8,360.3 918.8,360.3 920.8,360.4 922.8,360.4 924.8,360.4 926.8,360.4 928.8,360.5 930.8,360.5 932.8,360.5 934.8,360.6 936.8,360.6 938.8,360.6 940.8,360.6 942.8,360.7 944.8,360.7" stroke="#F68D6F" stroke-width="2.4"/>
<path d="M690.8,357.3 692.8,357.3 694.8,357.4 696.8,357.4 698.8,357.4 700.8,357.4 702.8,357.5 704.8,357.5 706.8,357.5 708.8,357.5 710.8,357.6 712.8,357.6 714.8,357.6 716.8,357.6 718.8,357.7 720.8,357.7 722.8,357.7 724.8,357.8 726.8,357.8 728.8,357.8 730.8,357.8 732.8,357.9 734.8,357.9 736.8,357.9 738.8,357.9 740.8,358 742.8,358 744.8,358 746.8,358 748.8,358.1 750.8,358.1 752.8,358.1 754.8,358.2 756.8,358.2 758.8,358.2 760.8,358.2 762.8,358.3 764.8,358.3 766.8,358.3 768.8,358.3 770.8,358.4 772.8,358.4 774.8,358.4 776.8,358.4 778.8,358.5 780.8,358.5 782.8,358.5 784.8,358.6 786.8,358.6 788.8,358.6 790.8,358.6 792.8,358.7 794.8,358.7 796.8,358.7 798.8,358.7 800.8,358.8 802.8,358.8 804.8,358.8 806.8,358.8 808.8,358.9 810.8,358.9 812.8,358.9 814.8,358.9 816.8,358.9 818.8,358.9 820.8,358.8 822.8,358.8 824.8,358.6 826.8,358.4 828.8,358.1 830.8,357.7 832.8,357.1 834.8,356.2 836.8,355.1 838.8,353.6 840.8,351.8 842.8,349.4 844.8,346.6 846.8,343.3 848.8,339.4 850.8,335.1 852.8,330.3 854.8,325.2 856.8,319.9 858.8,314.7 860.8,309.6 862.8,304.9 864.8,300.9 866.8,297.7 868.8,295.5 870.8,294.4 872.8,294.5 874.8,295.7 876.8,298.1 878.8,301.4 880.8,305.6 882.8,310.4 884.8,315.5 886.8,320.9 888.8,326.2 890.8,331.3 892.8,336.1 894.8,340.5 896.8,344.3 898.8,347.7 900.8,350.5 902.8,352.8 904.8,354.7 906.8,356.2 908.8,357.3 910.8,358.2 912.8,358.8 914.8,359.3 916.8,359.7 918.8,359.9 920.8,360.1 922.8,360.2 924.8,360.3 926.8,360.4 928.8,360.4 930.8,360.5 932.8,360.5 934.8,360.5 936.8,360.6 938.8,360.6 940.8,360.6 942.8,360.7 944.8,360.7" stroke="#F68D6F" stroke-width="2.4"/>
<path d="M690.8,475 946,475.5" stroke="#62A9D3" stroke-width="2.4"/>
<path d="M690.8,474 692.8,474 694.8,474 696.8,473.9 698.8,473.9 700.8,473.8 702.8,473.7 704.8,473.7 706.8,473.6 708.8,473.5 710.8,473.4 712.8,473.3 714.8,473.2 716.8,473.1 718.8,473 720.8,472.9 722.8,472.7 724.8,472.5 726.8,472.3 728.8,472.1 730.8,471.9 732.8,471.6 734.8,471.3 736.8,471 738.8,470.5 740.8,470.1 742.8,469.5 744.8,468.8 746.8,467.9 748.8,466.9 750.8,465.6 752.8,463.9 754.8,462 756.8,459.5 758.8,456.6 760.8,453.1 762.8,449 764.8,444.4 766.8,439.2 768.8,433.8 770.8,428.6 772.8,424.1 774.8,421 776.8,420 778.8,421.3 780.8,424.5 782.8,429.1 784.8,434.4 786.8,439.8 788.8,444.9 790.8,449.5 792.8,453.5 794.8,457 796.8,459.9 798.8,462.3 800.8,464.2 802.8,465.8 804.8,467.1 806.8,468.1 808.8,469 810.8,469.7 812.8,470.2 814.8,470.7 816.8,471.1 818.8,471.5 820.8,471.8 822.8,472.1 824.8,472.3 826.8,472.6 828.8,472.8 830.8,472.9 832.8,473.1 834.8,473.2 836.8,473.4 838.8,473.5 840.8,473.6 842.8,473.7 844.8,473.8 846.8,473.9 848.8,474 850.8,474 852.8,474.1 854.8,474.2 856.8,474.2 858.8,474.3 860.8,474.3 862.8,474.4 864.8,474.4 866.8,474.5 868.8,474.5 870.8,474.5 872.8,474.6 874.8,474.6 876.8,474.7 878.8,474.7 880.8,474.7 882.8,474.7 884.8,474.8 886.8,474.8 888.8,474.8 890.8,474.8 892.8,474.9 894.8,474.9 896.8,474.9 898.8,474.9 900.8,474.9 902.8,475 904.8,475 906.8,475 908.8,475 910.8,475 912.8,475 914.8,475.1 916.8,475.1 918.8,475.1 920.8,475.1 922.8,475.1 924.8,475.1 926.8,475.1 928.8,475.2 930.8,475.2 932.8,475.2 934.8,475.2 936.8,475.2 938.8,475.2 940.8,475.2 942.8,475.2 944.8,475.2" stroke="#62A9D3" stroke-width="2.4"/>
<path d="M690.8,474.8 692.8,474.8 694.8,474.8 696.8,474.8 698.8,474.8 700.8,474.8 702.8,474.8 704.8,474.8 706.8,474.8 708.8,474.8 710.8,474.7 712.8,474.7 714.8,474.7 716.8,474.7 718.8,474.7 720.8,474.7 722.8,474.7 724.8,474.7 726.8,474.7 728.8,474.7 730.8,474.7 732.8,474.7 734.8,474.7 736.8,474.7 738.8,474.7 740.8,474.7 742.8,474.7 744.8,474.6 746.8,474.6 748.8,474.6 750.8,474.6 752.8,474.6 754.8,474.6 756.8,474.6 758.8,474.5 760.8,474.5 762.8,474.5 764.8,474.5 766.8,474.5 768.8,474.4 770.8,474.4 772.8,474.4 774.8,474.4 776.8,474.3 778.8,474.3 780.8,474.3 782.8,474.2 784.8,474.2 786.8,474.2 788.8,474.1 790.8,474.1 792.8,474 794.8,474 796.8,473.9 798.8,473.8 800.8,473.8 802.8,473.7 804.8,473.6 806.8,473.5 808.8,473.4 810.8,473.3 812.8,473.1 814.8,473 816.8,472.8 818.8,472.7 820.8,472.5 822.8,472.3 824.8,472 826.8,471.8 828.8,471.4 830.8,471.1 832.8,470.7 834.8,470.2 836.8,469.7 838.8,469 840.8,468.2 842.8,467.3 844.8,466.1 846.8,464.6 848.8,462.6 850.8,460.1 852.8,456.9 854.8,452.9 856.8,447.8 858.8,441.6 860.8,434.3 862.8,425.9 864.8,416.8 866.8,407.9 868.8,400.6 870.8,396.5 872.8,396.7 874.8,401.2 876.8,408.8 878.8,417.8 880.8,426.8 882.8,435.1 884.8,442.4 886.8,448.4 888.8,453.4 890.8,457.4 892.8,460.5 894.8,462.9 896.8,464.8 898.8,466.3 900.8,467.5 902.8,468.4 904.8,469.2 906.8,469.9 908.8,470.4 910.8,470.9 912.8,471.3 914.8,471.6 916.8,472 918.8,472.2 920.8,472.5 922.8,472.7 924.8,472.9 926.8,473.1 928.8,473.2 930.8,473.4 932.8,473.5 934.8,473.6 936.8,473.8 938.8,473.9 940.8,474 942.8,474 944.8,474.1" stroke="#62A9D3" stroke-width="2.4"/>
<path d="M700,598.5 946,596.5" stroke="#2A87EA" stroke-width="2.4"/>
<path d="M700,598.1 702,598.1 704,598 706,598 708,598 710,597.9 712,597.9 714,597.8 716,597.8 718,597.7 720,597.7 722,597.6 724,597.5 726,597.4 728,597.4 730,597.3 732,597.2 734,597.1 736,597 738,596.8 740,596.7 742,596.5 744,596.4 746,596.2 748,595.9 750,595.6 752,595.3 754,594.8 756,594.3 758,593.6 760,592.7 762,591.6 764,590.1 766,588.2 768,585.8 770,582.8 772,579.4 774,575.5 776,571.6 778,568.3 780,566.3 782,566.3 784,568.2 786,571.5 788,575.4 790,579.2 792,582.6 794,585.6 796,587.9 798,589.8 800,591.3 802,592.4 804,593.2 806,593.9 808,594.4 810,594.8 812,595.1 814,595.4 816,595.6 818,595.8 820,595.9 822,596 824,596.1 826,596.2 828,596.3 830,596.4 832,596.5 834,596.5 836,596.6 838,596.6 840,596.6 842,596.7 844,596.7 846,596.7 848,596.7 850,596.7 852,596.8 854,596.8 856,596.8 858,596.8 860,596.8 862,596.8 864,596.8 866,596.8 868,596.8 870,596.8 872,596.8 874,596.8 876,596.8 878,596.8 880,596.8 882,596.8 884,596.8 886,596.8 888,596.7 890,596.7 892,596.7 894,596.7 896,596.7 898,596.7 900,596.7 902,596.7 904,596.7 906,596.7 908,596.6 910,596.6 912,596.6 914,596.6 916,596.6 918,596.6 920,596.6 922,596.6 924,596.6 926,596.5 928,596.5 930,596.5 932,596.5 934,596.5 936,596.5 938,596.5 940,596.4 942,596.4 944,596.4 946,596.4" stroke="#2A87EA" stroke-width="2.4"/>
<path d="M700,598.1 702,598.1 704,598.1 706,598 708,598 710,598 712,598 714,597.9 716,597.9 718,597.9 720,597.9 722,597.8 724,597.8 726,597.8 728,597.7 730,597.7 732,597.7 734,597.6 736,597.6 738,597.6 740,597.5 742,597.5 744,597.5 746,597.4 748,597.4 750,597.3 752,597.3 754,597.3 756,597.2 758,597.2 760,597.1 762,597.1 764,597 766,597 768,596.9 770,596.9 772,596.8 774,596.7 776,596.7 778,596.6 780,596.5 782,596.5 784,596.4 786,596.3 788,596.2 790,596.1 792,596 794,595.9 796,595.8 798,595.7 800,595.6 802,595.4 804,595.3 806,595.1 808,595 810,594.8 812,594.6 814,594.4 816,594.2 818,593.9 820,593.6 822,593.3 824,592.9 826,592.5 828,592.1 830,591.6 832,591 834,590.3 836,589.5 838,588.6 840,587.5 842,586.1 844,584.4 846,582.4 848,579.9 850,576.8 852,573.2 854,568.9 856,563.9 858,558.1 860,551.7 862,544.8 864,537.7 866,531 868,525.4 870,521.7 872,520.7 874,522.5 876,526.8 878,532.8 880,539.7 882,546.7 884,553.5 886,559.7 888,565.2 890,570 892,574 894,577.4 896,580.3 898,582.6 900,584.5 902,586 904,587.3 906,588.3 908,589.2 910,589.9 912,590.5 914,591.1 916,591.5 918,591.9 920,592.3 922,592.6 924,592.8 926,593.1 928,593.3 930,593.5 932,593.7 934,593.8 936,594 938,594.1 940,594.2 942,594.3 944,594.4 946,594.5" stroke="#2A87EA" stroke-width="2.4"/>
<path d="M957,120.9 958.5,120.7 960,120.6 961.5,121.1 963,120.3 964.5,120.1 966,119.5 967.5,119.6 969,119.6 970.5,119.4 972,119.4 973.5,120.2 975,119.7 976.5,119.4 978,119.9 979.5,119.1 981,117.7 982.5,117.5 984,116.7 985.5,116.9 987,115.5 988.5,114.6 990,113.1 991.5,112.8 993,111.8 994.5,111.3 996,110.4 997.5,109.4 999,108.9 1000.5,108 1002,106.6 1003.5,104.7 1005,102.9 1006.5,101.6 1008,100.9 1009.5,98.8 1011,96.8 1012.5,94.9 1014,92.8 1015.5,90.7 1017,88.8 1018.5,86.6 1020,82.8 1021.5,78.4 1023,73.3 1024.5,68.7 1026,60 1027.5,45.6 1029,28.3 1030.5,4.2 1032,-44.3 1033.5,-92.4 1035,-154.8 1036.5,-205.9 1038,-249.7 1039.5,-299.6 1041,-249 1042.5,-206 1044,-155.3 1045.5,-92.4 1047,-44.6 1048.5,5 1050,36.6 1051.5,59.2 1053,73.8 1054.5,83.6 1056,91.5 1057.5,98.9 1059,104.9 1060.5,109.7 1062,113.1 1063.5,116.3 1065,118.4 1066.5,119 1068,119.3 1069.5,119.8 1071,119.5 1072.5,118.9 1074,119 1075.5,118.8 1077,119.1 1078.5,118.5 1080,118 1081.5,117.7 1083,118.1 1084.5,117.3 1086,116.7 1087.5,115.8 1089,115 1090.5,114.3 1092,113.6 1093.5,111.4 1095,110.8 1096.5,109.4 1098,107.9 1099.5,107.8 1101,106.3 1102.5,106.1 1104,105.5 1105.5,104.5 1107,105.1 1108.5,106.4 1110,107.9 1111.5,109 1113,111.5 1114.5,113.7 1116,115.3 1117.5,117.8 1119,118.7 1120.5,119.3 1122,119.7 1123.5,119.9 1125,120 1126.5,120.4 1128,120.7 1129.5,120.5 1131,120.6 1132.5,120.1 1134,120.6 1135.5,120.4 1137,120.6 1138.5,120.3 1140,120.3 1141.5,120.6 1143,120.2 1144.5,121.4 1146,121 1147.5,120.8 1149,120.5 1150.5,121.2 1152,121.5 1153.5,121.2 1155,120.4 1156.5,120.4 1158,120.8 1159.5,120.5 1161,120.2 1162.5,120 1164,120 1165.5,120.4 1167,120.3 1168.5,120.5 1170,121.7 1171.5,121.9 1173,120.9 1174.5,120.9 1176,120.8 1177.5,120.7 1179,121.1 1180.5,120.8 1182,120.6" stroke="#D0161E"/>
<path d="M957,234.3 958.5,234.5 960,232 961.5,231.9 963,231.4 964.5,233 966,233.2 967.5,234 969,233.3 970.5,230.6 972,232.2 973.5,232.6 975,233.2 976.5,231.2 978,231.9 979.5,231.3 981,230.9 982.5,231.9 984,232.4 985.5,231 987,229.3 988.5,228 990,228.6 991.5,231.2 993,230.9 994.5,228 996,228 997.5,229.4 999,231.4 1000.5,231.6 1002,230.6 1003.5,229.6 1005,227.4 1006.5,226.7 1008,226.3 1009.5,225.2 1011,225.4 1012.5,224.5 1014,224.5 1015.5,225.3 1017,224.2 1018.5,222.5 1020,219.9 1021.5,215.9 1023,214.4 1024.5,213 1026,208.9 1027.5,207.9 1029,203.8 1030.5,200.9 1032,197.1 1033.5,192.8 1035,193.8 1036.5,190 1038,190.8 1039.5,190.4 1041,192.9 1042.5,195 1044,199 1045.5,205.2 1047,211.9 1048.5,214 1050,218 1051.5,222.6 1053,224.1 1054.5,227.3 1056,227.7 1057.5,229.9 1059,231 1060.5,232.7 1062,232.5 1063.5,230.5 1065,231.8 1066.5,230.2 1068,231.5 1069.5,233 1071,232.4 1072.5,230.4 1074,231.2 1075.5,229.8 1077,226.8 1078.5,225.5 1080,226 1081.5,222.8 1083,220.2 1084.5,216.4 1086,210.7 1087.5,206.8 1089,203.2 1090.5,198.3 1092,192.5 1093.5,184.2 1095,181.4 1096.5,176.9 1098,173 1099.5,170.1 1101,166 1102.5,163.9 1104,165.3 1105.5,170.3 1107,172 1108.5,178.4 1110,184.9 1111.5,193.5 1113,202.5 1114.5,207.8 1116,211.9 1117.5,217.5 1119,221.5 1120.5,223 1122,227.5 1123.5,228.6 1125,231 1126.5,230 1128,232.5 1129.5,230.8 1131,233 1132.5,230.7 1134,233.4 1135.5,232.7 1137,230.9 1138.5,231.6 1140,232.7 1141.5,231.6 1143,231.7 1144.5,232.7 1146,232.6 1147.5,229.4 1149,230.6 1150.5,232.3 1152,233.1 1153.5,234.3 1155,232.9 1156.5,236.1 1158,235.6 1159.5,234.7 1161,235.2 1162.5,235.4 1164,234.4 1165.5,233 1167,234.3 1168.5,234.3 1170,231.4 1171.5,231 1173,232.6 1174.5,233 1176,233.5 1177.5,234.1 1179,233.8 1180.5,235.4 1182,233.6" stroke="#EC3B2C"/>
<path d="M957,359.3 958.5,359.5 960,360 961.5,359.1 963,359.6 964.5,359.4 966,358.4 967.5,358.4 969,359.7 970.5,359.6 972,358.7 973.5,357.1 975,357.2 976.5,357.3 978,357.7 979.5,359.3 981,359 982.5,358.5 984,357.4 985.5,356.6 987,356.7 988.5,356.5 990,358.3 991.5,357 993,356 994.5,356.4 996,355.7 997.5,354.3 999,355 1000.5,354 1002,352.7 1003.5,352.7 1005,352.6 1006.5,351.6 1008,351.4 1009.5,351 1011,349.2 1012.5,347 1014,345.3 1015.5,344.5 1017,344 1018.5,342.5 1020,340.5 1021.5,338.2 1023,334.2 1024.5,331 1026,325.8 1027.5,322.6 1029,319 1030.5,315.3 1032,312.1 1033.5,309.5 1035,309 1036.5,310.3 1038,311.7 1039.5,315.4 1041,319.3 1042.5,324.7 1044,329.5 1045.5,335.3 1047,340.1 1048.5,344.7 1050,347.8 1051.5,350.1 1053,352.4 1054.5,354.9 1056,356.8 1057.5,356.8 1059,357.6 1060.5,357.9 1062,357.9 1063.5,356.7 1065,357.1 1066.5,356.4 1068,357.2 1069.5,357.2 1071,356.8 1072.5,354.3 1074,354.5 1075.5,354 1077,351.7 1078.5,350.9 1080,348.5 1081.5,345.6 1083,341.8 1084.5,337.4 1086,333 1087.5,330 1089,323.6 1090.5,317.2 1092,310.2 1093.5,303.6 1095,297.5 1096.5,291.8 1098,288.4 1099.5,285 1101,284 1102.5,283.2 1104,286.5 1105.5,291 1107,297.7 1108.5,304.9 1110,312.3 1111.5,321.3 1113,328.3 1114.5,335 1116,340.2 1117.5,345.4 1119,349 1120.5,352.2 1122,354.5 1123.5,355.5 1125,355.8 1126.5,357.3 1128,358.4 1129.5,358.9 1131,358.1 1132.5,358.8 1134,359 1135.5,359.1 1137,359.2 1138.5,358.9 1140,359 1141.5,359.5 1143,358.9 1144.5,358.1 1146,358.5 1147.5,358.9 1149,357.8 1150.5,358 1152,358.9 1153.5,358.9 1155,359 1156.5,358.3 1158,359.3 1159.5,360.2 1161,359.6 1162.5,358.9 1164,358.3 1165.5,359.3 1167,359.3 1168.5,358.7 1170,359.7 1171.5,359.9 1173,359.9 1174.5,358.5 1176,358.8 1177.5,359.4 1179,358.5 1180.5,359.4 1182,360.2 1183.5,360.3 1185,359.3 1186.5,358.8" stroke="#F68D6F"/>
<path d="M957,473.1 958.5,473.3 960,472.6 961.5,472.2 963,471.1 964.5,472 966,473.2 967.5,472.3 969,471.9 970.5,472.2 972,472.2 973.5,471.3 975,471.1 976.5,470.8 978,472.2 979.5,471.4 981,471.8 982.5,472.5 984,472.7 985.5,472.5 987,472.3 988.5,470.7 990,470.1 991.5,469.5 993,469.2 994.5,470.4 996,468.6 997.5,468.6 999,467.4 1000.5,468 1002,467.9 1003.5,466.7 1005,467.1 1006.5,466 1008,465.7 1009.5,464.6 1011,463.1 1012.5,461.9 1014,460.8 1015.5,459.8 1017,458 1018.5,457.1 1020,454 1021.5,450.8 1023,447.4 1024.5,443.8 1026,439.7 1027.5,436 1029,433.2 1030.5,429.8 1032,426.7 1033.5,424.8 1035,424.1 1036.5,424.1 1038,425.8 1039.5,428.2 1041,432.3 1042.5,437 1044,442.5 1045.5,447.5 1047,452.5 1048.5,457 1050,460.7 1051.5,463.6 1053,465.8 1054.5,468.3 1056,469 1057.5,469.3 1059,470.1 1060.5,469.9 1062,469.8 1063.5,470.3 1065,469.6 1066.5,468.9 1068,469.4 1069.5,470.1 1071,468.8 1072.5,468.2 1074,468.2 1075.5,466.2 1077,465 1078.5,463.2 1080,461.6 1081.5,458.2 1083,456.2 1084.5,452.3 1086,448.1 1087.5,442.8 1089,436.2 1090.5,430.6 1092,423.9 1093.5,418.1 1095,411.9 1096.5,406.5 1098,402.1 1099.5,399.2 1101,397.6 1102.5,396.6 1104,398.7 1105.5,403.9 1107,409.9 1108.5,416.5 1110,424.4 1111.5,432.4 1113,440.6 1114.5,447.4 1116,453.5 1117.5,459.4 1119,462 1120.5,464.5 1122,466.2 1123.5,467.5 1125,469.8 1126.5,470.8 1128,472.2 1129.5,471 1131,471.1 1132.5,472.4 1134,472.8 1135.5,473 1137,473.1 1138.5,472.7 1140,472.5 1141.5,472.4 1143,472.8 1144.5,472.5 1146,472.6 1147.5,473.3 1149,472.3 1150.5,472 1152,472.5 1153.5,472.4 1155,472.3 1156.5,473.5 1158,473.2 1159.5,472.6 1161,473.2 1162.5,474.1 1164,472.8 1165.5,472.3 1167,472.5 1168.5,472.2 1170,473.5 1171.5,473.3 1173,472.7 1174.5,472.9 1176,472.3 1177.5,472.1 1179,472.4 1180.5,473.7 1182,472 1183.5,472.5 1185,473.3 1186.5,473.3" stroke="#62A9D3"/>
<path d="M957,594 958.5,593.7 960,593.1 961.5,594.5 963,593.2 964.5,593.3 966,593 967.5,592.7 969,591.5 970.5,592.2 972,592.9 973.5,593.2 975,593.8 976.5,593.3 978,592.7 979.5,593 981,593.3 982.5,592.3 984,591.3 985.5,591 987,592.2 988.5,592.6 990,591.3 991.5,591.2 993,591.4 994.5,591.7 996,590.2 997.5,589.5 999,590 1000.5,590.6 1002,590.1 1003.5,587.7 1005,587.2 1006.5,586.1 1008,585.3 1009.5,584 1011,583 1012.5,582.2 1014,582.3 1015.5,580.8 1017,578.7 1018.5,576.2 1020,572.9 1021.5,569.9 1023,567.6 1024.5,564 1026,560.8 1027.5,555.8 1029,550.9 1030.5,545.3 1032,542.2 1033.5,538 1035,537.8 1036.5,536.5 1038,537.5 1039.5,539.5 1041,544 1042.5,549.3 1044,556.7 1045.5,563 1047,568 1048.5,572.4 1050,577.8 1051.5,581.7 1053,584.3 1054.5,587.6 1056,589.1 1057.5,590.4 1059,590.7 1060.5,590.9 1062,591.1 1063.5,590.3 1065,591.4 1066.5,591.6 1068,590 1069.5,590.2 1071,590.6 1072.5,589.6 1074,589.2 1075.5,587 1077,585 1078.5,581.7 1080,578.7 1081.5,574.6 1083,570.9 1084.5,567.2 1086,562.7 1087.5,557.9 1089,551.5 1090.5,544.2 1092,538.4 1093.5,532.2 1095,527.9 1096.5,523.8 1098,519.8 1099.5,515.8 1101,514.7 1102.5,516.1 1104,519.1 1105.5,525.1 1107,532.3 1108.5,540.3 1110,548.1 1111.5,555.1 1113,562.1 1114.5,569 1116,575.9 1117.5,581.4 1119,585.1 1120.5,587.6 1122,589.8 1123.5,591.4 1125,592.9 1126.5,593.6 1128,592.4 1129.5,593.6 1131,593.9 1132.5,593.4 1134,594 1135.5,594.1 1137,593.9 1138.5,592.7 1140,593.4 1141.5,594 1143,593.9 1144.5,592.8 1146,593.7 1147.5,594.4 1149,594.3 1150.5,594.5 1152,594 1153.5,593.6 1155,594.2 1156.5,593.9 1158,594.1 1159.5,596.2 1161,595.7 1162.5,595 1164,593.4 1165.5,593.8 1167,594.5 1168.5,593.8 1170,593.8 1171.5,592.4 1173,593.7 1174.5,593.5 1176,594.3 1177.5,595.2 1179,594.6 1180.5,595.1 1182,594.8 1183.5,594.3 1185,594.1 1186.5,593.5 1188,594.8 1189.5,595.1" stroke="#2A87EA"/>
</g>
<g fill="none" stroke="#000" stroke-width="1.6">
<path d="M946.1,12 H690.5 V603.3 H946.1"/>
<path d="M957.1,12 H1247.3 V603.3 H957.1"/>
<path d="M941.8,23.2 L951.3,1" stroke-width="1.5"/>
<path d="M951.8,23.2 L961.3,1" stroke-width="1.5"/>
<path d="M941.8,614.5 L951.3,592.3" stroke-width="1.5"/>
<path d="M951.8,614.5 L961.3,592.3" stroke-width="1.5"/>
<path d="M710.3,603.3v11M789.1,603.3v11M867.9,603.3v11M1006.3,603.3v11M1085.3,603.3v11M1163.8,603.3v11M1242.3,603.3v11M749.7,603.3v5.8M828.5,603.3v5.8M907.3,603.3v5.8M966.3,603.3v5.8M1045.8,603.3v5.8M1124.6,603.3v5.8M1203.1,603.3v5.8"/>
</g>
<text x="710.3" y="645.7" font-size="30.2" text-anchor="middle">316</text>
<text x="789.1" y="645.7" font-size="30.2" text-anchor="middle">312</text>
<text x="867.9" y="645.7" font-size="30.2" text-anchor="middle">308</text>
<text x="1006.3" y="645.7" font-size="30.2" text-anchor="middle">76</text>
<text x="1085.3" y="645.7" font-size="30.2" text-anchor="middle">72</text>
<text x="1163.8" y="645.7" font-size="30.2" text-anchor="middle">68</text>
<text x="1242.3" y="645.7" font-size="30.2" text-anchor="middle">64</text>
<text x="630.7" y="38" font-size="41" font-weight="bold">e</text>
<text x="694.3" y="46.5" font-size="33.2">Rh 3<tspan font-style="italic">d</tspan></text>
<text x="1236.5" y="45.3" font-size="33.2" text-anchor="end">Pt 4<tspan font-style="italic">f</tspan></text>
<text x="1243" y="110.5" font-size="32.9" text-anchor="end">140 eV</text>
<text x="1243" y="217.5" font-size="32.9" text-anchor="end">170 eV</text>
<text x="1243" y="346" font-size="32.9" text-anchor="end">270 eV</text>
<text x="1243" y="462.3" font-size="32.9" text-anchor="end">370 eV</text>
<text x="1243" y="584" font-size="32.9" text-anchor="end">470 eV</text>
<text transform="translate(669.6,307.5) rotate(-90)" font-size="33.1" text-anchor="middle">Intensity (arb. units)</text>
<text x="963.8" y="684.9" font-size="33" text-anchor="middle">Binding Energy (eV)</text>
<clipPath id="spf"><rect x="1363.4" y="11" width="558.4" height="593"/></clipPath>
<g clip-path="url(#spf)" fill="none" stroke-width="2.5" stroke-linejoin="round" stroke-linecap="round">
<path d="M1363.8,103.6 1366,109.5 1368.2,106.3 1370.4,100.5 1372.6,101.5 1374.8,102.2 1377,105.8 1379.2,110.5 1381.4,116.7 1383.6,111.8 1385.8,117.6 1388,113.7 1390.2,110 1392.4,106.4 1394.6,99.5 1396.8,92.9 1399,103.2 1401.2,105.1 1403.4,109.4 1405.6,110.6 1407.8,98.2 1410,99.5 1412.2,96.5 1414.4,112.6 1416.6,107.8 1418.8,108.4 1421,100.4 1423.2,95.5 1425.4,99.7 1427.6,104.6 1429.8,110.3 1432,96 1434.2,107.1 1436.4,100.4 1438.6,101.4 1440.8,103.2 1443,102.8 1445.2,109.8 1447.4,114.8 1449.6,111.8 1451.8,104.1 1454,109.8 1456.2,110.8 1458.4,114.9 1460.6,111.3 1462.8,95.5 1465,98.3 1467.2,101.8 1469.4,113.2 1471.6,107.7 1473.8,114.5 1476,111.4 1478.2,98.9 1480.4,105.5 1482.6,111.2 1484.8,111.4 1487,96.6 1489.2,107.9 1491.4,102.8 1493.6,89.5 1495.8,98.3 1498,89.5 1500.2,92.8 1502.4,115 1504.6,128.6 1506.8,120.9 1509,114.1 1511.2,123.9 1513.4,114.1 1515.6,101.2 1517.8,86.5 1520,109.2 1522.2,89.9 1524.4,86.5 1526.6,95.4 1528.8,104.8 1531,99.8 1533.2,113.6 1535.4,108.2 1537.6,109.1 1539.8,111.3 1542,103.6 1544.2,108 1546.4,125.9 1548.6,104.5 1550.8,107.9 1553,111.6 1555.2,104.1 1557.4,106.1 1559.6,93.4 1561.8,100.4 1564,105.9 1566.2,115.9 1568.4,117 1570.6,105.2 1572.8,98 1575,119.6 1577.2,117.5 1579.4,94.7 1581.6,101.5 1583.8,98.8 1586,100.4 1588.2,92 1590.4,100.2 1592.6,101.5 1594.8,104.1 1597,114.9 1599.2,111.1 1601.4,98.7 1603.6,91.4 1605.8,99.2 1608,114.6 1610.2,116.8 1612.4,105.1 1614.6,116.2 1616.8,113.1 1619,104.1 1621.2,110.1 1623.4,107.6 1625.6,98.6 1627.8,101.9 1629.7,107.4" stroke="#D0161E"/>
<path d="M1363.8,218.7 1366,208.8 1368.2,209.2 1370.4,210.4 1372.6,228.4 1374.8,196.8 1377,186.8 1379.2,179.4 1381.4,194.1 1383.6,183.5 1385.8,194.4 1388,190.9 1390.2,209.8 1392.4,207.3 1394.6,214.8 1396.8,228 1399,222.7 1401.2,231.5 1403.4,234.1 1405.6,224.1 1407.8,224.3 1410,184.4 1412.2,176.9 1414.4,185 1416.6,191.8 1418.8,218.5 1421,209.5 1423.2,232.6 1425.4,227.3 1427.6,223.4 1429.8,220.4 1432,201 1434.2,219.7 1436.4,177.1 1438.6,207.8 1440.8,196.1 1443,228.5 1445.2,199.9 1447.4,222.3 1449.6,206.1 1451.8,202.4 1454,186.6 1456.2,182.4 1458.4,181.6 1460.6,186.7 1462.8,154.6 1465,180.7 1467.2,182.4 1469.4,192.5 1471.6,189.4 1473.8,208.1 1476,208.2 1478.2,196.9 1480.4,211.8 1482.6,202.1 1484.8,216.3 1487,191.4 1489.2,208 1491.4,185.2 1493.6,197.7 1495.8,211.3 1498,199.5 1500.2,193 1502.4,185.8 1504.6,185.9 1506.8,193.6 1509,227.1 1511.2,205.7 1513.4,214.7 1515.6,210.1 1517.8,195.9 1520,221.5 1522.2,198.4 1524.4,176.1 1526.6,196.4 1528.8,215.7 1531,196.1 1533.2,208 1535.4,198.5 1537.6,192.4 1539.8,232 1542,216 1544.2,238.5 1546.4,232.4 1548.6,210.1 1550.8,229.5 1553,226.9 1555.2,220.3 1557.4,204.5 1559.6,196.3 1561.8,189.1 1564,197.5 1566.2,199.9 1568.4,179.9 1570.6,191.4 1572.8,194.3 1575,174.9 1577.2,195.3 1579.4,207.2 1581.6,184.2 1583.8,198.4 1586,238.5 1588.2,230.7 1590.4,189.6 1592.6,173.6 1594.8,206.4 1597,204.6 1599.2,204.3 1601.4,211.1 1603.6,245.7 1605.8,214.2 1608,215.9 1610.2,224.5 1612.4,248.1 1614.6,240.6 1616.8,230.8 1619,230.2 1621.2,223 1623.4,230.3 1625.6,211.9 1627.8,212.2" stroke="#D8D8D8" stroke-width="2.6"/>
<path d="M1363.8,355 1366,342.2 1368.2,349.7 1370.4,329.2 1372.6,345.7 1374.8,341.4 1377,335.9 1379.2,354.6 1381.4,332.4 1383.6,342.7 1385.8,351.6 1388,354.1 1390.2,366.5 1392.4,366.3 1394.6,332.9 1396.8,341.8 1399,346.2 1401.2,342 1403.4,336.2 1405.6,350.4 1407.8,347.8 1410,341.4 1412.2,330.8 1414.4,336.4 1416.6,321.6 1418.8,339 1421,345.5 1423.2,359.7 1425.4,348.1 1427.6,336.6 1429.8,343.3 1432,344.4 1434.2,353.9 1436.4,352 1438.6,349.6 1440.8,344.5 1443,329.1 1445.2,330.7 1447.4,326 1449.6,320.9 1451.8,337.8 1454,320.8 1456.2,329.4 1458.4,345.9 1460.6,339.9 1462.8,328.6 1465,337.7 1467.2,290.3 1469.4,297.5 1471.6,283.5 1473.8,299.5 1476,289.1 1478.2,287.9 1480.4,305.3 1482.6,304.9 1484.8,313.1 1487,315.6 1489.2,338 1491.4,327.2 1493.6,335.1 1495.8,345.3 1498,364.9 1500.2,348.2 1502.4,345.7 1504.6,313.4 1506.8,345.6 1509,324.2 1511.2,320.6 1513.4,329.4 1515.6,334 1517.8,332.5 1520,355 1522.2,328.1 1524.4,340.2 1526.6,348.5 1528.8,342.3 1531,370.1 1533.2,364.2 1535.4,359.7 1537.6,362.4 1539.8,337.6 1542,317.5 1544.2,328.7 1546.4,334.4 1548.6,326.5 1550.8,330.9 1553,321.2 1555.2,310.4 1557.4,308.9 1559.6,304.3 1561.8,291 1564,282.1 1566.2,270.3 1568.4,294.2 1570.6,302.1 1572.8,303.7 1575,299.4 1577.2,324.5 1579.4,307.6 1581.6,303.5 1583.8,330.3 1586,318.9 1588.2,354.3 1590.4,342.9 1592.6,358 1594.8,332 1597,327.4 1599.2,330.3 1601.4,344.3 1603.6,355.2 1605.8,340.7 1608,347.4 1610.2,335.8 1612.4,358.9 1614.6,342.5 1616.8,336.7 1619,367.5 1621.2,365.2 1623.4,358.1 1625.6,354.8 1627.8,367" stroke="#D8D8D8" stroke-width="2.6"/>
<path d="M1363.8,471.5 1366.2,468.8 1368.6,475.4 1371,475 1373.4,466.6 1375.8,473.7 1378.2,469 1380.6,460.5 1383,459.8 1385.4,468.7 1387.8,456.5 1390.2,463.7 1392.6,459.8 1395,457.8 1397.4,462.4 1399.8,459.7 1402.2,473.2 1404.6,465.7 1407,461.9 1409.4,462.1 1411.8,459.6 1414.2,453.8 1416.6,451.4 1419,456.5 1421.4,451.5 1423.8,446.8 1426.2,448.6 1428.6,447 1431,457.5 1433.4,456.6 1435.8,446.3 1438.2,448.9 1440.6,438.2 1443,430.9 1445.4,435.8 1447.8,437 1450.2,431.8 1452.6,426.5 1455,420.6 1457.4,421.9 1459.8,420.7 1462.2,424.5 1464.6,420.5 1467,424 1469.4,418.4 1471.8,418.6 1474.2,430.1 1476.6,427.5 1479,434.2 1481.4,429.4 1483.8,437.7 1486.2,432.4 1488.6,432.5 1491,430 1493.4,437.3 1495.8,442.5 1498.2,440.5 1500.6,451.3 1503,451.1 1505.4,452.9 1507.8,453.1 1510.2,460.2 1512.6,463.7 1515,465.3 1517.4,452.2 1519.8,454.6 1522.2,451.1 1524.6,452.4 1527,452.7 1529.4,445.2 1531.8,456.8 1534.2,450.7 1536.6,448.9 1539,446.7 1541.4,446.4 1543.8,443.2 1546.2,437.5 1548.6,422 1551,420.4 1553.4,415.8 1555.8,410.2 1558.2,402.8 1560.6,397.4 1563,399.5 1565.4,402.9 1567.8,404.7 1570.2,414.3 1572.6,417.2 1575,415.4 1577.4,428.2 1579.8,437.3 1582.2,446.6 1584.6,445.9 1587,445.2 1589.4,451.4 1591.8,455 1594.2,451.3 1596.6,455.9 1599,455.8 1601.4,461.3 1603.8,456.9 1606.2,457.4 1608.6,462.8 1611,467.3 1613.4,455.8 1615.8,467.3 1618.2,471.8 1620.6,479.4 1623,470.3 1625.4,469.2 1627.8,469.6" stroke="#D8D8D8" stroke-width="2.6"/>
<path d="M1363.8,586.4 1366.2,588.6 1368.6,591.6 1371,587.5 1373.4,582.8 1375.8,583.4 1378.2,585.5 1380.6,579.4 1383,579.6 1385.4,583 1387.8,579 1390.2,578.8 1392.6,575.2 1395,574.2 1397.4,574.1 1399.8,581.3 1402.2,573.5 1404.6,571.9 1407,579.6 1409.4,572.6 1411.8,576 1414.2,583.1 1416.6,580.3 1419,585.8 1421.4,574.2 1423.8,582.4 1426.2,570 1428.6,577.3 1431,575.5 1433.4,566 1435.8,566.3 1438.2,576.2 1440.6,570.3 1443,575.4 1445.4,561.6 1447.8,563.1 1450.2,555.8 1452.6,550.1 1455,552.2 1457.4,539.5 1459.8,523.1 1462.2,528.4 1464.6,526.3 1467,518.9 1469.4,511.1 1471.8,520.7 1474.2,520.9 1476.6,522.9 1479,523.2 1481.4,536.9 1483.8,527.4 1486.2,528.8 1488.6,550.6 1491,558.4 1493.4,557 1495.8,563.5 1498.2,566.8 1500.6,566.1 1503,570.7 1505.4,572.5 1507.8,569 1510.2,571.3 1512.6,568.1 1515,563 1517.4,560.4 1519.8,564.6 1522.2,555.1 1524.6,564.1 1527,559.8 1529.4,552.1 1531.8,556.6 1534.2,553.6 1536.6,557.7 1539,557.9 1541.4,551.4 1543.8,544.7 1546.2,539.7 1548.6,533 1551,529 1553.4,526.4 1555.8,525.2 1558.2,519.3 1560.6,514.2 1563,511.6 1565.4,516.6 1567.8,507.1 1570.2,506.5 1572.6,513.9 1575,524 1577.4,522.9 1579.8,533 1582.2,540.2 1584.6,541.4 1587,550.8 1589.4,553.1 1591.8,559.5 1594.2,557.8 1596.6,559.6 1599,560.1 1601.4,562.9 1603.8,565.6 1606.2,567.1 1608.6,566.2 1611,575.9 1613.4,581.5 1615.8,577.3 1618.2,575.6 1620.6,577.4 1623,568.9 1625.4,571.3 1627.8,568.3" stroke="#D8D8D8" stroke-width="2.6"/>
<path d="M1363.8,221.7 1629.7,239" stroke="#EC3B2C" stroke-width="2.4"/>
<path d="M1363.8,221.4 1365.8,221.5 1367.8,221.7 1369.8,221.8 1371.8,221.9 1373.8,222 1375.8,222.1 1377.8,222.2 1379.8,222.4 1381.8,222.5 1383.8,222.6 1385.8,222.7 1387.8,222.8 1389.8,222.9 1391.8,223 1393.8,223.1 1395.8,223.2 1397.8,223.3 1399.8,223.4 1401.8,223.5 1403.8,223.6 1405.8,223.7 1407.8,223.7 1409.8,223.8 1411.8,223.9 1413.8,223.9 1415.8,224 1417.8,224 1419.8,224.1 1421.8,224.1 1423.8,224.1 1425.8,224.1 1427.8,224 1429.8,224 1431.8,223.9 1433.8,223.7 1435.8,223.5 1437.8,223.2 1439.8,222.9 1441.8,222.3 1443.8,221.6 1445.8,220.7 1447.8,219.4 1449.8,217.8 1451.8,215.7 1453.8,213.1 1455.8,210.1 1457.8,206.6 1459.8,203 1461.8,199.8 1463.8,197.4 1465.8,196.7 1467.8,197.9 1469.8,200.6 1471.8,204.2 1473.8,208 1475.8,211.7 1477.8,215 1479.8,217.7 1481.8,220 1483.8,221.9 1485.8,223.4 1487.8,224.6 1489.8,225.5 1491.8,226.3 1493.8,226.9 1495.8,227.4 1497.8,227.9 1499.8,228.3 1501.8,228.7 1503.8,229 1505.8,229.3 1507.8,229.6 1509.8,229.8 1511.8,230.1 1513.8,230.3 1515.8,230.5 1517.8,230.7 1519.8,230.9 1521.8,231.1 1523.8,231.3 1525.8,231.5 1527.8,231.6 1529.8,231.8 1531.8,232 1533.8,232.2 1535.8,232.3 1537.8,232.5 1539.8,232.6 1541.8,232.8 1543.8,232.9 1545.8,233.1 1547.8,233.3 1549.8,233.4 1551.8,233.6 1553.8,233.7 1555.8,233.8 1557.8,234 1559.8,234.1 1561.8,234.3 1563.8,234.4 1565.8,234.6 1567.8,234.7 1569.8,234.8 1571.8,235 1573.8,235.1 1575.8,235.3 1577.8,235.4 1579.8,235.5 1581.8,235.7 1583.8,235.8 1585.8,235.9 1587.8,236.1 1589.8,236.2 1591.8,236.4 1593.8,236.5 1595.8,236.6 1597.8,236.8 1599.8,236.9 1601.8,237 1603.8,237.2 1605.8,237.3 1607.8,237.4 1609.8,237.6 1611.8,237.7 1613.8,237.8 1615.8,238 1617.8,238.1 1619.8,238.2 1621.8,238.4 1623.8,238.5 1625.8,238.6 1627.8,238.8" stroke="#EC3B2C" stroke-width="2.4"/>
<path d="M1363.8,221.6 1365.8,221.7 1367.8,221.9 1369.8,222 1371.8,222.1 1373.8,222.3 1375.8,222.4 1377.8,222.5 1379.8,222.6 1381.8,222.8 1383.8,222.9 1385.8,223 1387.8,223.1 1389.8,223.3 1391.8,223.4 1393.8,223.5 1395.8,223.7 1397.8,223.8 1399.8,223.9 1401.8,224 1403.8,224.2 1405.8,224.3 1407.8,224.4 1409.8,224.5 1411.8,224.7 1413.8,224.8 1415.8,224.9 1417.8,225.1 1419.8,225.2 1421.8,225.3 1423.8,225.4 1425.8,225.6 1427.8,225.7 1429.8,225.8 1431.8,225.9 1433.8,226.1 1435.8,226.2 1437.8,226.3 1439.8,226.4 1441.8,226.5 1443.8,226.7 1445.8,226.8 1447.8,226.9 1449.8,227 1451.8,227.2 1453.8,227.3 1455.8,227.4 1457.8,227.5 1459.8,227.6 1461.8,227.8 1463.8,227.9 1465.8,228 1467.8,228.1 1469.8,228.2 1471.8,228.3 1473.8,228.5 1475.8,228.6 1477.8,228.7 1479.8,228.8 1481.8,228.9 1483.8,229 1485.8,229.1 1487.8,229.2 1489.8,229.3 1491.8,229.4 1493.8,229.5 1495.8,229.6 1497.8,229.7 1499.8,229.8 1501.8,229.9 1503.8,230 1505.8,230.1 1507.8,230.2 1509.8,230.2 1511.8,230.3 1513.8,230.4 1515.8,230.4 1517.8,230.5 1519.8,230.5 1521.8,230.5 1523.8,230.5 1525.8,230.5 1527.8,230.5 1529.8,230.5 1531.8,230.4 1533.8,230.3 1535.8,230.2 1537.8,230.1 1539.8,229.8 1541.8,229.6 1543.8,229.2 1545.8,228.7 1547.8,228 1549.8,227.1 1551.8,225.8 1553.8,224.2 1555.8,222.1 1557.8,219.5 1559.8,216.2 1561.8,212.2 1563.8,207.7 1565.8,202.8 1567.8,198.1 1569.8,194.5 1571.8,192.7 1573.8,193.5 1575.8,196.6 1577.8,201.1 1579.8,206.3 1581.8,211.3 1583.8,215.8 1585.8,219.7 1587.8,222.9 1589.8,225.5 1591.8,227.6 1593.8,229.3 1595.8,230.6 1597.8,231.7 1599.8,232.5 1601.8,233.2 1603.8,233.8 1605.8,234.3 1607.8,234.8 1609.8,235.2 1611.8,235.5 1613.8,235.9 1615.8,236.2 1617.8,236.5 1619.8,236.7 1621.8,237 1623.8,237.2 1625.8,237.5 1627.8,237.7" stroke="#EC3B2C" stroke-width="2.4"/>
<path d="M1363.8,359 1629.7,359" stroke="#F68D6F" stroke-width="2.4"/>
<path d="M1363.8,358.7 1365.8,358.7 1367.8,358.7 1369.8,358.7 1371.8,358.7 1373.8,358.7 1375.8,358.7 1377.8,358.6 1379.8,358.6 1381.8,358.6 1383.8,358.6 1385.8,358.6 1387.8,358.6 1389.8,358.5 1391.8,358.5 1393.8,358.5 1395.8,358.5 1397.8,358.4 1399.8,358.4 1401.8,358.4 1403.8,358.3 1405.8,358.3 1407.8,358.3 1409.8,358.2 1411.8,358.2 1413.8,358.1 1415.8,358.1 1417.8,358 1419.8,357.9 1421.8,357.8 1423.8,357.8 1425.8,357.7 1427.8,357.5 1429.8,357.4 1431.8,357.3 1433.8,357.1 1435.8,356.9 1437.8,356.7 1439.8,356.5 1441.8,356.2 1443.8,355.9 1445.8,355.5 1447.8,355 1449.8,354.4 1451.8,353.6 1453.8,352.6 1455.8,351.3 1457.8,349.5 1459.8,347 1461.8,343.7 1463.8,339.5 1465.8,334 1467.8,327.4 1469.8,320 1471.8,312.7 1473.8,307 1475.8,305 1477.8,307.5 1479.8,313.4 1481.8,320.8 1483.8,328.1 1485.8,334.6 1487.8,339.9 1489.8,344.1 1491.8,347.3 1493.8,349.7 1495.8,351.4 1497.8,352.7 1499.8,353.7 1501.8,354.4 1503.8,355 1505.8,355.5 1507.8,355.9 1509.8,356.2 1511.8,356.5 1513.8,356.7 1515.8,357 1517.8,357.1 1519.8,357.3 1521.8,357.4 1523.8,357.6 1525.8,357.7 1527.8,357.8 1529.8,357.8 1531.8,357.9 1533.8,358 1535.8,358.1 1537.8,358.1 1539.8,358.2 1541.8,358.2 1543.8,358.3 1545.8,358.3 1547.8,358.3 1549.8,358.4 1551.8,358.4 1553.8,358.4 1555.8,358.5 1557.8,358.5 1559.8,358.5 1561.8,358.5 1563.8,358.6 1565.8,358.6 1567.8,358.6 1569.8,358.6 1571.8,358.6 1573.8,358.6 1575.8,358.7 1577.8,358.7 1579.8,358.7 1581.8,358.7 1583.8,358.7 1585.8,358.7 1587.8,358.7 1589.8,358.7 1591.8,358.7 1593.8,358.8 1595.8,358.8 1597.8,358.8 1599.8,358.8 1601.8,358.8 1603.8,358.8 1605.8,358.8 1607.8,358.8 1609.8,358.8 1611.8,358.8 1613.8,358.8 1615.8,358.8 1617.8,358.8 1619.8,358.8 1621.8,358.8 1623.8,358.8 1625.8,358.8 1627.8,358.9" stroke="#F68D6F" stroke-width="2.4"/>
<path d="M1363.8,358.9 1365.8,358.9 1367.8,358.9 1369.8,358.9 1371.8,358.9 1373.8,358.9 1375.8,358.9 1377.8,358.9 1379.8,358.9 1381.8,358.9 1383.8,358.9 1385.8,358.9 1387.8,358.9 1389.8,358.8 1391.8,358.8 1393.8,358.8 1395.8,358.8 1397.8,358.8 1399.8,358.8 1401.8,358.8 1403.8,358.8 1405.8,358.8 1407.8,358.8 1409.8,358.8 1411.8,358.8 1413.8,358.8 1415.8,358.8 1417.8,358.8 1419.8,358.8 1421.8,358.8 1423.8,358.8 1425.8,358.8 1427.8,358.8 1429.8,358.8 1431.8,358.7 1433.8,358.7 1435.8,358.7 1437.8,358.7 1439.8,358.7 1441.8,358.7 1443.8,358.7 1445.8,358.7 1447.8,358.7 1449.8,358.7 1451.8,358.6 1453.8,358.6 1455.8,358.6 1457.8,358.6 1459.8,358.6 1461.8,358.6 1463.8,358.6 1465.8,358.5 1467.8,358.5 1469.8,358.5 1471.8,358.5 1473.8,358.5 1475.8,358.4 1477.8,358.4 1479.8,358.4 1481.8,358.4 1483.8,358.3 1485.8,358.3 1487.8,358.3 1489.8,358.2 1491.8,358.2 1493.8,358.1 1495.8,358.1 1497.8,358 1499.8,358 1501.8,357.9 1503.8,357.8 1505.8,357.8 1507.8,357.7 1509.8,357.6 1511.8,357.5 1513.8,357.4 1515.8,357.3 1517.8,357.1 1519.8,357 1521.8,356.8 1523.8,356.6 1525.8,356.4 1527.8,356.1 1529.8,355.8 1531.8,355.5 1533.8,355.1 1535.8,354.6 1537.8,354 1539.8,353.3 1541.8,352.4 1543.8,351.2 1545.8,349.7 1547.8,347.7 1549.8,345 1551.8,341.6 1553.8,337.1 1555.8,331.4 1557.8,324.6 1559.8,316.9 1561.8,308.7 1563.8,301.5 1565.8,296.8 1567.8,296.4 1569.8,300.3 1571.8,307.2 1573.8,315.3 1575.8,323.2 1577.8,330.2 1579.8,336 1581.8,340.7 1583.8,344.4 1585.8,347.2 1587.8,349.3 1589.8,350.9 1591.8,352.2 1593.8,353.1 1595.8,353.9 1597.8,354.5 1599.8,355 1601.8,355.4 1603.8,355.7 1605.8,356.1 1607.8,356.3 1609.8,356.6 1611.8,356.8 1613.8,356.9 1615.8,357.1 1617.8,357.2 1619.8,357.4 1621.8,357.5 1623.8,357.6 1625.8,357.7 1627.8,357.8" stroke="#F68D6F" stroke-width="2.4"/>
<path d="M1363.8,471.7 1629.7,475.7" stroke="#62A9D3" stroke-width="2.4"/>
<path d="M1363.8,469 1365.8,469 1367.8,468.9 1369.8,468.8 1371.8,468.7 1373.8,468.6 1375.8,468.5 1377.8,468.4 1379.8,468.3 1381.8,468.1 1383.8,468 1385.8,467.8 1387.8,467.6 1389.8,467.4 1391.8,467.2 1393.8,466.9 1395.8,466.7 1397.8,466.4 1399.8,466 1401.8,465.7 1403.8,465.2 1405.8,464.8 1407.8,464.3 1409.8,463.7 1411.8,463.1 1413.8,462.4 1415.8,461.6 1417.8,460.8 1419.8,459.8 1421.8,458.8 1423.8,457.7 1425.8,456.5 1427.8,455.1 1429.8,453.7 1431.8,452.2 1433.8,450.5 1435.8,448.8 1437.8,446.9 1439.8,444.9 1441.8,442.9 1443.8,440.8 1445.8,438.7 1447.8,436.5 1449.8,434.5 1451.8,432.5 1453.8,430.6 1455.8,429 1457.8,427.6 1459.8,426.6 1461.8,425.9 1463.8,425.7 1465.8,425.9 1467.8,426.5 1469.8,427.5 1471.8,428.9 1473.8,430.5 1475.8,432.4 1477.8,434.5 1479.8,436.6 1481.8,438.8 1483.8,441 1485.8,443.1 1487.8,445.2 1489.8,447.3 1491.8,449.2 1493.8,451.1 1495.8,452.8 1497.8,454.4 1499.8,455.9 1501.8,457.4 1503.8,458.7 1505.8,459.9 1507.8,461 1509.8,462 1511.8,462.9 1513.8,463.7 1515.8,464.5 1517.8,465.2 1519.8,465.8 1521.8,466.4 1523.8,467 1525.8,467.4 1527.8,467.9 1529.8,468.3 1531.8,468.6 1533.8,469 1535.8,469.3 1537.8,469.6 1539.8,469.8 1541.8,470.1 1543.8,470.3 1545.8,470.5 1547.8,470.7 1549.8,470.9 1551.8,471.1 1553.8,471.3 1555.8,471.4 1557.8,471.6 1559.8,471.7 1561.8,471.9 1563.8,472 1565.8,472.1 1567.8,472.3 1569.8,472.4 1571.8,472.5 1573.8,472.6 1575.8,472.7 1577.8,472.8 1579.8,472.9 1581.8,473 1583.8,473.1 1585.8,473.2 1587.8,473.3 1589.8,473.4 1591.8,473.4 1593.8,473.5 1595.8,473.6 1597.8,473.7 1599.8,473.7 1601.8,473.8 1603.8,473.9 1605.8,474 1607.8,474 1609.8,474.1 1611.8,474.2 1613.8,474.2 1615.8,474.3 1617.8,474.3 1619.8,474.4 1621.8,474.5 1623.8,474.5 1625.8,474.6 1627.8,474.6" stroke="#62A9D3" stroke-width="2.4"/>
<path d="M1363.8,471.3 1365.8,471.3 1367.8,471.3 1369.8,471.3 1371.8,471.4 1373.8,471.4 1375.8,471.4 1377.8,471.4 1379.8,471.4 1381.8,471.5 1383.8,471.5 1385.8,471.5 1387.8,471.5 1389.8,471.5 1391.8,471.6 1393.8,471.6 1395.8,471.6 1397.8,471.6 1399.8,471.6 1401.8,471.6 1403.8,471.6 1405.8,471.7 1407.8,471.7 1409.8,471.7 1411.8,471.7 1413.8,471.7 1415.8,471.7 1417.8,471.7 1419.8,471.7 1421.8,471.7 1423.8,471.8 1425.8,471.8 1427.8,471.8 1429.8,471.8 1431.8,471.8 1433.8,471.8 1435.8,471.8 1437.8,471.8 1439.8,471.8 1441.8,471.8 1443.8,471.7 1445.8,471.7 1447.8,471.7 1449.8,471.7 1451.8,471.7 1453.8,471.7 1455.8,471.7 1457.8,471.6 1459.8,471.6 1461.8,471.6 1463.8,471.6 1465.8,471.5 1467.8,471.5 1469.8,471.4 1471.8,471.4 1473.8,471.3 1475.8,471.3 1477.8,471.2 1479.8,471.1 1481.8,471 1483.8,471 1485.8,470.9 1487.8,470.7 1489.8,470.6 1491.8,470.5 1493.8,470.4 1495.8,470.2 1497.8,470 1499.8,469.8 1501.8,469.6 1503.8,469.4 1505.8,469.1 1507.8,468.8 1509.8,468.5 1511.8,468.1 1513.8,467.7 1515.8,467.2 1517.8,466.6 1519.8,465.9 1521.8,465.1 1523.8,464.2 1525.8,463.1 1527.8,461.9 1529.8,460.4 1531.8,458.7 1533.8,456.8 1535.8,454.5 1537.8,451.9 1539.8,449 1541.8,445.7 1543.8,442.1 1545.8,438.1 1547.8,433.9 1549.8,429.4 1551.8,424.9 1553.8,420.5 1555.8,416.6 1557.8,413.3 1559.8,411 1561.8,410 1563.8,410.4 1565.8,412.1 1567.8,415 1569.8,418.7 1571.8,423 1573.8,427.5 1575.8,432.1 1577.8,436.5 1579.8,440.6 1581.8,444.5 1583.8,448 1585.8,451.2 1587.8,454 1589.8,456.5 1591.8,458.7 1593.8,460.6 1595.8,462.2 1597.8,463.6 1599.8,464.8 1601.8,465.9 1603.8,466.8 1605.8,467.6 1607.8,468.2 1609.8,468.8 1611.8,469.4 1613.8,469.8 1615.8,470.3 1617.8,470.6 1619.8,471 1621.8,471.3 1623.8,471.6 1625.8,471.8 1627.8,472.1" stroke="#62A9D3" stroke-width="2.4"/>
<path d="M1363.8,588 1629.7,587" stroke="#2A87EA" stroke-width="2.4"/>
<path d="M1363.8,586.8 1365.8,586.7 1367.8,586.7 1369.8,586.6 1371.8,586.6 1373.8,586.5 1375.8,586.4 1377.8,586.3 1379.8,586.3 1381.8,586.2 1383.8,586.1 1385.8,586 1387.8,585.9 1389.8,585.8 1391.8,585.7 1393.8,585.6 1395.8,585.5 1397.8,585.3 1399.8,585.2 1401.8,585 1403.8,584.8 1405.8,584.7 1407.8,584.5 1409.8,584.2 1411.8,584 1413.8,583.7 1415.8,583.4 1417.8,583.1 1419.8,582.7 1421.8,582.3 1423.8,581.8 1425.8,581.3 1427.8,580.7 1429.8,580 1431.8,579.1 1433.8,578.1 1435.8,577 1437.8,575.6 1439.8,574 1441.8,572.2 1443.8,570 1445.8,567.6 1447.8,564.7 1449.8,561.5 1451.8,558 1453.8,554 1455.8,549.8 1457.8,545.4 1459.8,540.8 1461.8,536.5 1463.8,532.5 1465.8,529.4 1467.8,527.4 1469.8,526.7 1471.8,527.5 1473.8,529.6 1475.8,532.9 1477.8,536.8 1479.8,541.2 1481.8,545.7 1483.8,550.1 1485.8,554.3 1487.8,558.2 1489.8,561.7 1491.8,564.9 1493.8,567.7 1495.8,570.1 1497.8,572.2 1499.8,574 1501.8,575.5 1503.8,576.9 1505.8,578 1507.8,578.9 1509.8,579.7 1511.8,580.4 1513.8,581 1515.8,581.6 1517.8,582 1519.8,582.4 1521.8,582.7 1523.8,583.1 1525.8,583.3 1527.8,583.6 1529.8,583.8 1531.8,584 1533.8,584.2 1535.8,584.4 1537.8,584.5 1539.8,584.7 1541.8,584.8 1543.8,584.9 1545.8,585 1547.8,585.1 1549.8,585.2 1551.8,585.3 1553.8,585.4 1555.8,585.5 1557.8,585.5 1559.8,585.6 1561.8,585.7 1563.8,585.7 1565.8,585.8 1567.8,585.8 1569.8,585.9 1571.8,585.9 1573.8,586 1575.8,586 1577.8,586 1579.8,586.1 1581.8,586.1 1583.8,586.1 1585.8,586.2 1587.8,586.2 1589.8,586.2 1591.8,586.2 1593.8,586.2 1595.8,586.3 1597.8,586.3 1599.8,586.3 1601.8,586.3 1603.8,586.3 1605.8,586.3 1607.8,586.4 1609.8,586.4 1611.8,586.4 1613.8,586.4 1615.8,586.4 1617.8,586.4 1619.8,586.4 1621.8,586.4 1623.8,586.4 1625.8,586.4 1627.8,586.5" stroke="#2A87EA" stroke-width="2.4"/>
<path d="M1363.8,587.5 1365.8,587.5 1367.8,587.5 1369.8,587.5 1371.8,587.5 1373.8,587.4 1375.8,587.4 1377.8,587.4 1379.8,587.4 1381.8,587.4 1383.8,587.3 1385.8,587.3 1387.8,587.3 1389.8,587.3 1391.8,587.3 1393.8,587.2 1395.8,587.2 1397.8,587.2 1399.8,587.2 1401.8,587.1 1403.8,587.1 1405.8,587.1 1407.8,587.1 1409.8,587 1411.8,587 1413.8,587 1415.8,587 1417.8,586.9 1419.8,586.9 1421.8,586.9 1423.8,586.8 1425.8,586.8 1427.8,586.8 1429.8,586.7 1431.8,586.7 1433.8,586.6 1435.8,586.6 1437.8,586.6 1439.8,586.5 1441.8,586.5 1443.8,586.4 1445.8,586.4 1447.8,586.3 1449.8,586.3 1451.8,586.2 1453.8,586.1 1455.8,586.1 1457.8,586 1459.8,586 1461.8,585.9 1463.8,585.8 1465.8,585.7 1467.8,585.6 1469.8,585.6 1471.8,585.5 1473.8,585.4 1475.8,585.3 1477.8,585.2 1479.8,585 1481.8,584.9 1483.8,584.8 1485.8,584.6 1487.8,584.5 1489.8,584.3 1491.8,584.2 1493.8,584 1495.8,583.8 1497.8,583.6 1499.8,583.3 1501.8,583.1 1503.8,582.8 1505.8,582.5 1507.8,582.2 1509.8,581.8 1511.8,581.4 1513.8,580.9 1515.8,580.4 1517.8,579.8 1519.8,579.1 1521.8,578.3 1523.8,577.4 1525.8,576.4 1527.8,575.2 1529.8,573.9 1531.8,572.3 1533.8,570.5 1535.8,568.4 1537.8,566 1539.8,563.3 1541.8,560.3 1543.8,557 1545.8,553.3 1547.8,549.4 1549.8,545.1 1551.8,540.7 1553.8,536.1 1555.8,531.7 1557.8,527.6 1559.8,524 1561.8,521.3 1563.8,519.7 1565.8,519.3 1567.8,520.3 1569.8,522.5 1571.8,525.6 1573.8,529.5 1575.8,533.8 1577.8,538.3 1579.8,542.8 1581.8,547.1 1583.8,551.3 1585.8,555.1 1587.8,558.6 1589.8,561.7 1591.8,564.5 1593.8,567 1595.8,569.2 1597.8,571.2 1599.8,572.8 1601.8,574.3 1603.8,575.6 1605.8,576.6 1607.8,577.6 1609.8,578.4 1611.8,579.1 1613.8,579.7 1615.8,580.3 1617.8,580.8 1619.8,581.2 1621.8,581.6 1623.8,581.9 1625.8,582.2 1627.8,582.5" stroke="#2A87EA" stroke-width="2.4"/>
<path d="M1640.7,124 1642.2,123.7 1643.7,124.3 1645.2,124.2 1646.7,124 1648.2,124.4 1649.7,124.6 1651.2,124.3 1652.7,124.3 1654.2,123.7 1655.7,123.1 1657.2,122.4 1658.7,122.7 1660.2,121.8 1661.7,121.4 1663.2,121.1 1664.7,120.8 1666.2,119.6 1667.7,119.1 1669.2,118.3 1670.7,118 1672.2,117.1 1673.7,116.2 1675.2,116.1 1676.7,115.1 1678.2,114.4 1679.7,113.4 1681.2,112.2 1682.7,111.3 1684.2,109.8 1685.7,108.1 1687.2,106.7 1688.7,105.6 1690.2,104 1691.7,103 1693.2,101.6 1694.7,100 1696.2,98.6 1697.7,96.7 1699.2,94.8 1700.7,92.6 1702.2,89.5 1703.7,86.1 1705.2,82.7 1706.7,78.9 1708.2,74.5 1709.7,67.7 1711.2,55.6 1712.7,41.3 1714.2,23.7 1715.7,-7.5 1717.2,-52.7 1718.7,-99.1 1720.2,-158.4 1721.7,-202.4 1723.2,-241.7 1724.7,-286.5 1726.2,-255.1 1727.7,-210.2 1729.2,-165.8 1730.7,-99.8 1732.2,-49.6 1733.7,0.5 1735.2,34.9 1736.7,59.2 1738.2,75.9 1739.7,86.6 1741.2,94.9 1742.7,101.1 1744.2,107 1745.7,112.3 1747.2,116.1 1748.7,118.6 1750.2,121.2 1751.7,122.1 1753.2,122.7 1754.7,123 1756.2,122.9 1757.7,123.2 1759.2,122.6 1760.7,122.8 1762.2,122.4 1763.7,122.1 1765.2,121.9 1766.7,121.1 1768.2,120.9 1769.7,121 1771.2,119.8 1772.7,118.6 1774.2,118.2 1775.7,117.5 1777.2,115.4 1778.7,114.3 1780.2,113 1781.7,112.1 1783.2,111.1 1784.7,110 1786.2,109.4 1787.7,109.5 1789.2,109.1 1790.7,109.9 1792.2,111.3 1793.7,113.4 1795.2,115.3 1796.7,117.2 1798.2,118.7 1799.7,120.5 1801.2,122.2 1802.7,123.1 1804.2,124 1805.7,124.1 1807.2,124.5 1808.7,124.5 1810.2,124.3 1811.7,124.3 1813.2,124.8 1814.7,124.9 1816.2,124.7 1817.7,124.5 1819.2,124.8 1820.7,124.6 1822.2,124.9 1823.7,124.8 1825.2,124.5 1826.7,124.5 1828.2,124.2 1829.7,124.1 1831.2,124.2 1832.7,124.2 1834.2,124.3 1835.7,124.2 1837.2,124.2 1838.7,124.5 1840.2,124.1 1841.7,123.7" stroke="#D0161E"/>
<path d="M1640.7,239.7 1642.2,240.8 1643.7,241.2 1645.2,241.8 1646.7,241.6 1648.2,241.2 1649.7,240.8 1651.2,239.9 1652.7,239.5 1654.2,236.3 1655.7,239.2 1657.2,239.1 1658.7,238.1 1660.2,239.8 1661.7,238.7 1663.2,239.3 1664.7,238.2 1666.2,237.4 1667.7,239.2 1669.2,239.1 1670.7,237.2 1672.2,238.4 1673.7,239.2 1675.2,238.3 1676.7,238.7 1678.2,239.4 1679.7,239.4 1681.2,238.7 1682.7,238.3 1684.2,238.8 1685.7,237.4 1687.2,236 1688.7,235 1690.2,237.8 1691.7,234.7 1693.2,233.9 1694.7,231.3 1696.2,231.6 1697.7,231.2 1699.2,230.7 1700.7,230.9 1702.2,231.1 1703.7,229.3 1705.2,226.5 1706.7,224.5 1708.2,222.7 1709.7,219.7 1711.2,217.2 1712.7,214.7 1714.2,211.1 1715.7,209 1717.2,202.1 1718.7,198.4 1720.2,195.8 1721.7,191 1723.2,187.3 1724.7,189.4 1726.2,190.2 1727.7,192.3 1729.2,196.8 1730.7,199.9 1732.2,204.5 1733.7,212.5 1735.2,217.8 1736.7,220.9 1738.2,225.7 1739.7,231.1 1741.2,232 1742.7,232.6 1744.2,232.7 1745.7,234.8 1747.2,236.1 1748.7,236.2 1750.2,236.3 1751.7,236.5 1753.2,236.1 1754.7,235.7 1756.2,236.8 1757.7,236 1759.2,235.5 1760.7,232.1 1762.2,230.4 1763.7,230.3 1765.2,227.9 1766.7,225.8 1768.2,220 1769.7,216.8 1771.2,211.2 1772.7,205.9 1774.2,199.3 1775.7,192.3 1777.2,185.5 1778.7,179.9 1780.2,175.5 1781.7,169 1783.2,164.8 1784.7,161.7 1786.2,160.6 1787.7,163.2 1789.2,166.3 1790.7,171.2 1792.2,179.5 1793.7,187.8 1795.2,196.2 1796.7,204.1 1798.2,210.7 1799.7,218.2 1801.2,222.8 1802.7,227.6 1804.2,231.2 1805.7,234.9 1807.2,236 1808.7,237.9 1810.2,236.5 1811.7,237.8 1813.2,238.7 1814.7,239.1 1816.2,237.1 1817.7,239 1819.2,238.6 1820.7,238.3 1822.2,240.5 1823.7,239.8 1825.2,240.6 1826.7,238.3 1828.2,239.7 1829.7,239.8 1831.2,240 1832.7,238.9 1834.2,239.6 1835.7,239.5 1837.2,240.9 1838.7,239.8 1840.2,238.1 1841.7,240 1843.2,238.8" stroke="#EC3B2C"/>
<path d="M1640.7,360.8 1642.2,360.5 1643.7,360.4 1645.2,360.1 1646.7,359.9 1648.2,359.6 1649.7,359.7 1651.2,359.1 1652.7,359.4 1654.2,360.1 1655.7,359.8 1657.2,359.5 1658.7,359.8 1660.2,359 1661.7,359 1663.2,360.4 1664.7,360.2 1666.2,360.1 1667.7,359.4 1669.2,358.7 1670.7,358 1672.2,358.3 1673.7,359.1 1675.2,358.6 1676.7,358.7 1678.2,358 1679.7,357.8 1681.2,357.7 1682.7,358.9 1684.2,357.7 1685.7,356.3 1687.2,356.5 1688.7,355.8 1690.2,355.6 1691.7,354.5 1693.2,354.7 1694.7,353.6 1696.2,353.4 1697.7,352.5 1699.2,351.5 1700.7,351.4 1702.2,350.7 1703.7,348.3 1705.2,347.9 1706.7,346.8 1708.2,344.8 1709.7,342.5 1711.2,339.9 1712.7,336.9 1714.2,333.2 1715.7,330.3 1717.2,327.1 1718.7,322.6 1720.2,319.5 1721.7,316.5 1723.2,314.9 1724.7,315.3 1726.2,316.2 1727.7,318.8 1729.2,322.4 1730.7,328.5 1732.2,333.6 1733.7,338.2 1735.2,342.6 1736.7,347.5 1738.2,350.9 1739.7,353.1 1741.2,354.6 1742.7,355.3 1744.2,357.3 1745.7,358.6 1747.2,359.6 1748.7,359.1 1750.2,359.1 1751.7,357.3 1753.2,357.8 1754.7,357.1 1756.2,356.5 1757.7,355.8 1759.2,355 1760.7,354.3 1762.2,353.8 1763.7,351.9 1765.2,349.9 1766.7,347.6 1768.2,346 1769.7,342.4 1771.2,337.5 1772.7,333.3 1774.2,328.9 1775.7,322.7 1777.2,317.2 1778.7,311.9 1780.2,305.2 1781.7,300.6 1783.2,296.5 1784.7,294.2 1786.2,293.2 1787.7,292.5 1789.2,293.6 1790.7,297.8 1792.2,303.7 1793.7,310.2 1795.2,317.7 1796.7,324.3 1798.2,331.8 1799.7,338.3 1801.2,344.5 1802.7,348.1 1804.2,351.8 1805.7,353.5 1807.2,355 1808.7,356.1 1810.2,357.3 1811.7,357.4 1813.2,357.3 1814.7,359.6 1816.2,359.4 1817.7,359.4 1819.2,359.6 1820.7,359.3 1822.2,359.3 1823.7,360.1 1825.2,360.1 1826.7,360.5 1828.2,359.4 1829.7,359.8 1831.2,359.3 1832.7,358.7 1834.2,359.7 1835.7,359.9 1837.2,360.2 1838.7,360.4 1840.2,359 1841.7,359.7 1843.2,360.9 1844.7,360.4 1846.2,360.7 1847.7,361.1 1849.2,361.5" stroke="#F68D6F"/>
<path d="M1640.7,472.7 1642.2,472.7 1643.7,473.1 1645.2,472.5 1646.7,471.8 1648.2,472.4 1649.7,472.5 1651.2,472.9 1652.7,473.2 1654.2,473 1655.7,473.3 1657.2,472.5 1658.7,472.5 1660.2,472 1661.7,472.9 1663.2,472.5 1664.7,472.7 1666.2,472.6 1667.7,472.6 1669.2,472.6 1670.7,472.6 1672.2,472.4 1673.7,471.9 1675.2,471.8 1676.7,470.8 1678.2,470.4 1679.7,470.9 1681.2,470.6 1682.7,469.7 1684.2,469 1685.7,468.5 1687.2,468.3 1688.7,468.4 1690.2,467.9 1691.7,467.6 1693.2,466.5 1694.7,466.1 1696.2,465.6 1697.7,465.1 1699.2,464.6 1700.7,463.6 1702.2,462.8 1703.7,461.8 1705.2,460.1 1706.7,457.7 1708.2,455.4 1709.7,452.7 1711.2,450.4 1712.7,447.1 1714.2,443.2 1715.7,438.9 1717.2,434.7 1718.7,431.3 1720.2,427.5 1721.7,424.4 1723.2,422.5 1724.7,422.4 1726.2,422.9 1727.7,425.9 1729.2,430.7 1730.7,436.4 1732.2,442.2 1733.7,447.7 1735.2,453.2 1736.7,458.3 1738.2,461.6 1739.7,464.3 1741.2,466.6 1742.7,468.4 1744.2,469.4 1745.7,470 1747.2,469.9 1748.7,470.8 1750.2,470.6 1751.7,470.8 1753.2,470.5 1754.7,470.6 1756.2,469.8 1757.7,469 1759.2,468.6 1760.7,467.7 1762.2,466.3 1763.7,464.8 1765.2,462.5 1766.7,459.8 1768.2,456.2 1769.7,452.6 1771.2,448.5 1772.7,443.3 1774.2,437.6 1775.7,431.9 1777.2,425.4 1778.7,418.9 1780.2,413.1 1781.7,408.3 1783.2,403.5 1784.7,400.3 1786.2,398.7 1787.7,398.5 1789.2,400.7 1790.7,405.7 1792.2,411.2 1793.7,418.9 1795.2,427.1 1796.7,435.3 1798.2,442.6 1799.7,449.3 1801.2,454.7 1802.7,458.9 1804.2,463 1805.7,466.1 1807.2,468.4 1808.7,470.2 1810.2,471.8 1811.7,472.2 1813.2,472.9 1814.7,472.8 1816.2,472.9 1817.7,472.5 1819.2,472.7 1820.7,472.6 1822.2,472.8 1823.7,472.4 1825.2,473 1826.7,472.5 1828.2,472.9 1829.7,472.3 1831.2,472.6 1832.7,472.9 1834.2,473.2 1835.7,473.7 1837.2,473 1838.7,473 1840.2,473 1841.7,473 1843.2,473.5 1844.7,473.1 1846.2,472.8 1847.7,472.7 1849.2,473.2 1850.7,472.9 1852.2,472.4 1853.7,472.6" stroke="#62A9D3"/>
<path d="M1640.7,584.7 1642.2,584.2 1643.7,584.7 1645.2,585.1 1646.7,584.8 1648.2,584.6 1649.7,584.9 1651.2,583.9 1652.7,584.8 1654.2,584.1 1655.7,583.2 1657.2,584.4 1658.7,584.3 1660.2,584.6 1661.7,583.6 1663.2,584 1664.7,584.1 1666.2,584.1 1667.7,584 1669.2,583.8 1670.7,583.6 1672.2,582.8 1673.7,584 1675.2,583.1 1676.7,582.2 1678.2,582.4 1679.7,582 1681.2,581.4 1682.7,582.9 1684.2,582 1685.7,580.3 1687.2,579.8 1688.7,579.4 1690.2,579 1691.7,578.9 1693.2,578.5 1694.7,578.7 1696.2,577.4 1697.7,576.4 1699.2,576.1 1700.7,575.6 1702.2,573.9 1703.7,572.2 1705.2,571.3 1706.7,569.5 1708.2,567.5 1709.7,564.9 1711.2,561.5 1712.7,557.7 1714.2,553.6 1715.7,549.3 1717.2,544.3 1718.7,540.8 1720.2,537.5 1721.7,534.7 1723.2,532.2 1724.7,531.6 1726.2,533.5 1727.7,536.8 1729.2,540.5 1730.7,545.4 1732.2,551.9 1733.7,557.3 1735.2,564.3 1736.7,568.9 1738.2,573.2 1739.7,575.2 1741.2,578 1742.7,580 1744.2,580.4 1745.7,582.5 1747.2,582.7 1748.7,583 1750.2,582.7 1751.7,582.7 1753.2,582.8 1754.7,582.6 1756.2,582.2 1757.7,580.6 1759.2,580.1 1760.7,578.6 1762.2,577.7 1763.7,575.7 1765.2,572.9 1766.7,571.5 1768.2,567.9 1769.7,563.7 1771.2,559.2 1772.7,553.9 1774.2,548.5 1775.7,542.9 1777.2,535.8 1778.7,529.6 1780.2,523.6 1781.7,517.2 1783.2,513.1 1784.7,510.2 1786.2,508.1 1787.7,507.9 1789.2,509.8 1790.7,515.3 1792.2,521.2 1793.7,528.9 1795.2,536.4 1796.7,544.7 1798.2,551.9 1799.7,558.9 1801.2,565.7 1802.7,570.1 1804.2,573.7 1805.7,576.7 1807.2,579.1 1808.7,580.4 1810.2,582 1811.7,582.6 1813.2,583.7 1814.7,584.1 1816.2,584.3 1817.7,584.5 1819.2,584.7 1820.7,583.6 1822.2,585.1 1823.7,583.9 1825.2,584.9 1826.7,584.3 1828.2,583.4 1829.7,583.3 1831.2,583.1 1832.7,583.9 1834.2,584.1 1835.7,585.8 1837.2,585.3 1838.7,584.6 1840.2,585.3 1841.7,586.3 1843.2,585.2 1844.7,584.6 1846.2,584.6 1847.7,584 1849.2,584 1850.7,585.2 1852.2,585.5 1853.7,585.7 1855.2,585.3 1856.7,585.7 1858.2,584.4 1859.7,585.3 1861.2,584.3" stroke="#2A87EA"/>
</g>
<g fill="none" stroke="#000" stroke-width="1.6">
<path d="M1629.9,11 H1363.4 V604 H1629.9"/>
<path d="M1640.9,11 H1921.8 V604 H1640.9"/>
<path d="M1625.5,22.2 L1635,0" stroke-width="1.5"/>
<path d="M1635.5,22.2 L1645,0" stroke-width="1.5"/>
<path d="M1625.5,615.2 L1635,593" stroke-width="1.5"/>
<path d="M1635.5,615.2 L1645,593" stroke-width="1.5"/>
<path d="M1400.3,604v11M1492.4,604v11M1584.7,604v11M1713.8,604v11M1806.3,604v11M1898.7,604v11M1446.3,604v5.8M1538.6,604v5.8M1668,604v5.8M1760,604v5.8M1852.5,604v5.8"/>
</g>
<text x="1400.3" y="646.5" font-size="30.2" text-anchor="middle">345</text>
<text x="1492.4" y="646.5" font-size="30.2" text-anchor="middle">340</text>
<text x="1584.7" y="646.5" font-size="30.2" text-anchor="middle">335</text>
<text x="1713.8" y="646.5" font-size="30.2" text-anchor="middle">75</text>
<text x="1806.3" y="646.5" font-size="30.2" text-anchor="middle">70</text>
<text x="1898.7" y="646.5" font-size="30.2" text-anchor="middle">65</text>
<text x="1291" y="42" font-size="41" font-weight="bold">f</text>
<text x="1366" y="42" font-size="32.2">Pd 3<tspan font-style="italic">d</tspan></text>
<text x="1914.5" y="41.6" font-size="32.2" text-anchor="end">Pt 4<tspan font-style="italic">f</tspan></text>
<text x="1915" y="112.9" font-size="31.9" text-anchor="end">140 eV</text>
<text x="1915" y="225.3" font-size="31.9" text-anchor="end">170 eV</text>
<text x="1915" y="345.2" font-size="31.9" text-anchor="end">270 eV</text>
<text x="1915" y="460.1" font-size="31.9" text-anchor="end">370 eV</text>
<text x="1915" y="575" font-size="31.9" text-anchor="end">470 eV</text>
<text transform="translate(1340.7,309) rotate(-90)" font-size="32.9" text-anchor="middle">Intensity (arb. units)</text>
<text x="1651" y="686.7" font-size="32" text-anchor="middle">Binding Energy (eV)</text>
<clipPath id="spg"><rect x="691.7" y="738.4" width="558.3" height="594.5"/></clipPath>
<g clip-path="url(#spg)" fill="none" stroke-width="2.5" stroke-linejoin="round" stroke-linecap="round">
<path d="M692.5,831.8 694.5,824.1 696.5,823.4 698.5,837.1 700.5,827.9 702.5,828.9 704.5,828.7 706.5,830.3 708.5,833.5 710.5,830.7 712.5,825.2 714.5,831.6 716.5,841.2 718.5,835.6 720.5,827.3 722.5,852.1 724.5,833.6 726.5,836.4 728.5,832.6 730.5,839.8 732.5,838.7 734.5,828.5 736.5,842.4 738.5,840.8 740.5,827.9 742.5,827.5 744.5,826.3 746.5,841.9 748.5,838.3 750.5,837.4 752.5,842.8 754.5,847.1 756.5,838 758.5,837.9 760.5,834.1 762.5,833.4 764.5,833.9 766.5,832.2 768.5,837.9 770.5,843.1 772.5,827.6 774.5,837.6 776.5,832.4 778.5,832.3 780.5,823.4 782.5,816.6 784.5,830.2 786.5,829.9 788.5,829.8 790.5,832.3 792.5,826.3 794.5,835.6 796.5,844.9 798.5,844.5 800.5,839.3 802.5,835.4 804.5,834.9 806.5,833.1 808.5,832.1 810.5,830.5 812.5,828.8 814.5,854.2 816.5,845.3 818.5,840.9 820.5,837.8 822.5,830.1 824.5,833.8 826.5,826.7 828.5,831.8 830.5,826.3 832.5,829.1 834.5,832.4 836.5,839.3 838.5,833.2 840.5,827.4 842.5,817.5 844.5,829.4 846.5,839.7 848.5,836.3 850.5,833 852.5,833.7 854.5,834.9 856.5,827.6 858.5,831.6 860.5,838.7 862.5,837.9 864.5,835.1 866.5,839.9 868.5,825.8 870.5,842.2 872.5,829.7 874.5,828.7 876.5,841.2 878.5,838.1 880.5,834.6 882.5,841.3 884.5,827.5 886.5,839.7 888.5,853.8 890.5,838.5 892.5,836.4 894.5,834.3 896.5,843.5 898.5,846.3 900.5,838.9 902.5,829.7 904.5,836.2 906.5,835.6 908.5,825.1 910.5,847.3 912.5,834.3 914.5,845.6 916.5,824.2 918.5,837.7 920.5,828.8 922.5,840.9 924.5,839.5 926.5,821.9 928.5,819.3 930.5,826.5 932.5,825.5 934.5,842.1 936.5,841.8 938.5,840.3 939,837" stroke="#D0161E"/>
<path d="M692.5,951 694.9,946.4 697.3,958.4 699.7,948.2 702.1,948.5 704.5,949.7 706.9,944.7 709.3,962.5 711.7,978.2 714.1,964.3 716.5,956.7 718.9,960 721.3,957.1 723.7,948.3 726.1,959 728.5,952.4 730.9,951.2 733.3,939.6 735.7,939.6 738.1,951.9 740.5,955.9 742.9,958.2 745.3,965.6 747.7,969.5 750.1,973.7 752.5,954.8 754.9,951.1 757.3,947.7 759.7,952.1 762.1,949.7 764.5,933.1 766.9,919.1 769.3,915.2 771.7,906.2 774.1,925.8 776.5,916.4 778.9,935.4 781.3,949.7 783.7,947.2 786.1,965.3 788.5,975.9 790.9,959.2 793.3,950.8 795.7,961.1 798.1,957.9 800.5,951.6 802.9,944.5 805.3,964.2 807.7,967.9 810.1,963.8 812.5,952.6 814.9,954.9 817.3,954.4 819.7,950.5 822.1,948 824.5,949.6 826.9,964.7 829.3,961.7 831.7,964.2 834.1,966.3 836.5,963.3 838.9,967.5 841.3,964 843.7,962 846.1,942.7 848.5,958.4 850.9,960.5 853.3,965.7 855.7,960.4 858.1,955.9 860.5,963.2 862.9,951.3 865.3,959.6 867.7,957.5 870.1,955.1 872.5,941.7 874.9,927.6 877.3,908.7 879.7,907.2 882.1,893.3 884.5,887.1 886.9,893.2 889.3,919 891.7,941.3 894.1,948.2 896.5,942 898.9,945.7 901.3,962.6 903.7,955.1 906.1,960.2 908.5,956.4 910.9,955.2 913.3,963.4 915.7,960.7 918.1,952.7 920.5,946.6 922.9,960.1 925.3,959.2 927.7,958.4 930.1,963.8 932.5,963.2 934.9,962.5 937.3,959" stroke="#D8D8D8" stroke-width="2.6"/>
<path d="M692.5,1079.4 694.9,1071.3 697.3,1078.7 699.7,1072.2 702.1,1072.5 704.5,1073 706.9,1075.3 709.3,1084.1 711.7,1078.3 714.1,1076.2 716.5,1070.4 718.9,1077.8 721.3,1081.5 723.7,1072 726.1,1065.9 728.5,1068.2 730.9,1070.2 733.3,1073.8 735.7,1070.5 738.1,1076.9 740.5,1073.3 742.9,1074.3 745.3,1082.4 747.7,1074.4 750.1,1082.1 752.5,1074.3 754.9,1062.3 757.3,1060.9 759.7,1069.9 762.1,1070.4 764.5,1051.6 766.9,1051.5 769.3,1031.4 771.7,1029.3 774.1,1029 776.5,1022.7 778.9,1037.6 781.3,1056.8 783.7,1059.9 786.1,1053.8 788.5,1066.8 790.9,1066.9 793.3,1077.1 795.7,1068.6 798.1,1066.4 800.5,1064.4 802.9,1069.8 805.3,1068.8 807.7,1065.2 810.1,1068.1 812.5,1074.1 814.9,1078.9 817.3,1078.5 819.7,1070.8 822.1,1074.7 824.5,1071.9 826.9,1067.6 829.3,1078.6 831.7,1075.5 834.1,1078.4 836.5,1075.6 838.9,1070.1 841.3,1068.1 843.7,1068.3 846.1,1067.9 848.5,1079.4 850.9,1078.7 853.3,1071.3 855.7,1066 858.1,1063.8 860.5,1061.6 862.9,1052.5 865.3,1055.5 867.7,1037.4 870.1,1032.3 872.5,1033.8 874.9,1018.7 877.3,1011.9 879.7,1010.4 882.1,1008.3 884.5,1006.7 886.9,1028.5 889.3,1040.9 891.7,1036.1 894.1,1035.2 896.5,1055.2 898.9,1063.5 901.3,1058.9 903.7,1062.4 906.1,1059.7 908.5,1063.7 910.9,1071.9 913.3,1065 915.7,1072 918.1,1080.3 920.5,1080.6 922.9,1072.9 925.3,1081.7 927.7,1079.2 930.1,1074.8 932.5,1078.1 934.9,1084.5 937.3,1075.2" stroke="#D8D8D8" stroke-width="2.6"/>
<path d="M692.5,1197.2 694.9,1199.3 697.3,1196.4 699.7,1191.4 702.1,1185.7 704.5,1198.2 706.9,1196 709.3,1199.7 711.7,1196.7 714.1,1195.9 716.5,1195.5 718.9,1199.9 721.3,1200.2 723.7,1200 726.1,1201.8 728.5,1195.8 730.9,1208.2 733.3,1205.9 735.7,1193.9 738.1,1190.7 740.5,1186.5 742.9,1192.4 745.3,1187.2 747.7,1185.6 750.1,1199.7 752.5,1201.7 754.9,1190 757.3,1193.1 759.7,1188.2 762.1,1178.9 764.5,1170 766.9,1156.5 769.3,1142.8 771.7,1140.4 774.1,1140.4 776.5,1154.2 778.9,1160.8 781.3,1172.4 783.7,1190.7 786.1,1187.7 788.5,1196.4 790.9,1183.5 793.3,1186.1 795.7,1189.6 798.1,1194.6 800.5,1193.7 802.9,1187.7 805.3,1187.3 807.7,1178.3 810.1,1191.3 812.5,1198.5 814.9,1196 817.3,1189.5 819.7,1201.7 822.1,1200.1 824.5,1199.8 826.9,1191.5 829.3,1196.3 831.7,1189.3 834.1,1193.7 836.5,1189.8 838.9,1203 841.3,1201.4 843.7,1183.1 846.1,1192.2 848.5,1199.9 850.9,1183 853.3,1183.5 855.7,1182.5 858.1,1181.9 860.5,1173.7 862.9,1174.8 865.3,1165.5 867.7,1153.3 870.1,1140 872.5,1135.2 874.9,1126.3 877.3,1126 879.7,1133.3 882.1,1135.7 884.5,1150.8 886.9,1157.8 889.3,1176 891.7,1180.8 894.1,1186.9 896.5,1182.3 898.9,1187.7 901.3,1183.8 903.7,1184.5 906.1,1193.1 908.5,1184.8 910.9,1196.6 913.3,1202.3 915.7,1190.3 918.1,1199.5 920.5,1200.8 922.9,1191.9 925.3,1202.1 927.7,1197.5 930.1,1201.5 932.5,1202.2 934.9,1201.1 937.3,1191.8" stroke="#D8D8D8" stroke-width="2.6"/>
<path d="M692.5,1314.9 694.9,1308.6 697.3,1316.4 699.7,1319.9 702.1,1315.2 704.5,1303.2 706.9,1313.8 709.3,1309.9 711.7,1324.2 714.1,1328.7 716.5,1324.4 718.9,1321.4 721.3,1318.6 723.7,1332.4 726.1,1326.8 728.5,1326.3 730.9,1314.1 733.3,1309.2 735.7,1306.8 738.1,1322.2 740.5,1306.8 742.9,1319.2 745.3,1316.5 747.7,1315.8 750.1,1307.7 752.5,1305.9 754.9,1311.2 757.3,1312.2 759.7,1308.7 762.1,1290.1 764.5,1277.7 766.9,1264 769.3,1266.8 771.7,1261.6 774.1,1274.8 776.5,1279.5 778.9,1288.9 781.3,1287.1 783.7,1290.9 786.1,1301 788.5,1310.5 790.9,1321.2 793.3,1311.8 795.7,1308.6 798.1,1313.5 800.5,1296.8 802.9,1307.8 805.3,1315.3 807.7,1309 810.1,1309 812.5,1306.7 814.9,1309.6 817.3,1307.9 819.7,1318 822.1,1323.6 824.5,1329.5 826.9,1313 829.3,1306.1 831.7,1305.6 834.1,1307.1 836.5,1310.3 838.9,1310.1 841.3,1304.9 843.7,1308 846.1,1298.1 848.5,1305.2 850.9,1307 853.3,1309.3 855.7,1301.2 858.1,1304 860.5,1302.7 862.9,1295.1 865.3,1294.4 867.7,1287.9 870.1,1276.5 872.5,1259.3 874.9,1248.4 877.3,1239.8 879.7,1247.1 882.1,1244 884.5,1252.4 886.9,1261.8 889.3,1268.4 891.7,1275.4 894.1,1293.8 896.5,1305.6 898.9,1303.1 901.3,1316.1 903.7,1311.8 906.1,1315.5 908.5,1310.8 910.9,1306.5 913.3,1301.2 915.7,1302.3 918.1,1304 920.5,1303.5 922.9,1304.9 925.3,1315.8 927.7,1322.8 930.1,1324.3 932.5,1322.2 934.9,1313.7 937.3,1309" stroke="#D8D8D8" stroke-width="2.6"/>
<path d="M692.5,970.3 939,974.3" stroke="#EC3B2C" stroke-width="2.4"/>
<path d="M692.5,970.1 694.5,970.1 696.5,970.1 698.5,970.1 700.5,970.1 702.5,970.2 704.5,970.2 706.5,970.2 708.5,970.2 710.5,970.2 712.5,970.2 714.5,970.2 716.5,970.2 718.5,970.2 720.5,970.2 722.5,970.2 724.5,970.2 726.5,970.2 728.5,970.1 730.5,970.1 732.5,970.1 734.5,970 736.5,969.9 738.5,969.8 740.5,969.7 742.5,969.6 744.5,969.4 746.5,969.2 748.5,969 750.5,968.6 752.5,968.2 754.5,967.6 756.5,966.8 758.5,965.7 760.5,964 762.5,961.3 764.5,957.4 766.5,951.8 768.5,944.3 770.5,935.4 772.5,927.6 774.5,924.7 776.5,928.9 778.5,937.4 780.5,946.1 782.5,953.3 784.5,958.7 786.5,962.4 788.5,964.8 790.5,966.5 792.5,967.6 794.5,968.4 796.5,969 798.5,969.5 800.5,969.9 802.5,970.2 804.5,970.4 806.5,970.7 808.5,970.9 810.5,971 812.5,971.2 814.5,971.3 816.5,971.4 818.5,971.5 820.5,971.6 822.5,971.7 824.5,971.8 826.5,971.9 828.5,972 830.5,972 832.5,972.1 834.5,972.2 836.5,972.2 838.5,972.3 840.5,972.3 842.5,972.4 844.5,972.4 846.5,972.5 848.5,972.5 850.5,972.6 852.5,972.6 854.5,972.7 856.5,972.7 858.5,972.8 860.5,972.8 862.5,972.9 864.5,972.9 866.5,972.9 868.5,973 870.5,973 872.5,973.1 874.5,973.1 876.5,973.1 878.5,973.2 880.5,973.2 882.5,973.2 884.5,973.3 886.5,973.3 888.5,973.4 890.5,973.4 892.5,973.4 894.5,973.5 896.5,973.5 898.5,973.5 900.5,973.6 902.5,973.6 904.5,973.6 906.5,973.7 908.5,973.7 910.5,973.8 912.5,973.8 914.5,973.8 916.5,973.9 918.5,973.9 920.5,973.9 922.5,974 924.5,974 926.5,974 928.5,974.1 930.5,974.1 932.5,974.1 934.5,974.2 936.5,974.2 938.5,974.2" stroke="#EC3B2C" stroke-width="2.4"/>
<path d="M692.5,970.2 694.5,970.2 696.5,970.3 698.5,970.3 700.5,970.3 702.5,970.4 704.5,970.4 706.5,970.4 708.5,970.5 710.5,970.5 712.5,970.5 714.5,970.5 716.5,970.6 718.5,970.6 720.5,970.6 722.5,970.7 724.5,970.7 726.5,970.7 728.5,970.8 730.5,970.8 732.5,970.8 734.5,970.8 736.5,970.9 738.5,970.9 740.5,970.9 742.5,971 744.5,971 746.5,971 748.5,971 750.5,971.1 752.5,971.1 754.5,971.1 756.5,971.1 758.5,971.2 760.5,971.2 762.5,971.2 764.5,971.2 766.5,971.3 768.5,971.3 770.5,971.3 772.5,971.3 774.5,971.4 776.5,971.4 778.5,971.4 780.5,971.4 782.5,971.4 784.5,971.5 786.5,971.5 788.5,971.5 790.5,971.5 792.5,971.5 794.5,971.6 796.5,971.6 798.5,971.6 800.5,971.6 802.5,971.6 804.5,971.6 806.5,971.6 808.5,971.6 810.5,971.6 812.5,971.6 814.5,971.6 816.5,971.6 818.5,971.6 820.5,971.6 822.5,971.6 824.5,971.5 826.5,971.5 828.5,971.5 830.5,971.4 832.5,971.3 834.5,971.3 836.5,971.2 838.5,971.1 840.5,971 842.5,970.8 844.5,970.7 846.5,970.5 848.5,970.2 850.5,970 852.5,969.6 854.5,969.2 856.5,968.7 858.5,968 860.5,967.1 862.5,966 864.5,964.4 866.5,962.1 868.5,958.8 870.5,954.1 872.5,947.6 874.5,939 876.5,928.4 878.5,916.9 880.5,907.6 882.5,904.3 884.5,909.1 886.5,919.3 888.5,930.8 890.5,941.1 892.5,949.4 894.5,955.6 896.5,960 898.5,963.2 900.5,965.3 902.5,966.9 904.5,968.1 906.5,968.9 908.5,969.6 910.5,970.2 912.5,970.7 914.5,971.1 916.5,971.4 918.5,971.7 920.5,972 922.5,972.2 924.5,972.4 926.5,972.6 928.5,972.7 930.5,972.9 932.5,973 934.5,973.1 936.5,973.2 938.5,973.3" stroke="#EC3B2C" stroke-width="2.4"/>
<path d="M692.5,1080.3 939,1088" stroke="#F68D6F" stroke-width="2.4"/>
<path d="M692.5,1079.8 694.5,1079.9 696.5,1079.9 698.5,1079.9 700.5,1080 702.5,1080 704.5,1080 706.5,1080.1 708.5,1080.1 710.5,1080.1 712.5,1080.1 714.5,1080.1 716.5,1080.1 718.5,1080.1 720.5,1080.1 722.5,1080.1 724.5,1080.1 726.5,1080 728.5,1080 730.5,1079.9 732.5,1079.8 734.5,1079.7 736.5,1079.6 738.5,1079.4 740.5,1079.2 742.5,1079 744.5,1078.7 746.5,1078.3 748.5,1077.8 750.5,1077.1 752.5,1076.3 754.5,1075.1 756.5,1073.5 758.5,1071.3 760.5,1068.4 762.5,1064.6 764.5,1059.9 766.5,1054.3 768.5,1048 770.5,1042 772.5,1037.4 774.5,1036 776.5,1038.3 778.5,1043.4 780.5,1049.7 782.5,1056 784.5,1061.6 786.5,1066.2 788.5,1069.9 790.5,1072.8 792.5,1075 794.5,1076.6 796.5,1077.8 798.5,1078.8 800.5,1079.5 802.5,1080.1 804.5,1080.6 806.5,1081 808.5,1081.4 810.5,1081.7 812.5,1082 814.5,1082.3 816.5,1082.5 818.5,1082.7 820.5,1082.9 822.5,1083 824.5,1083.2 826.5,1083.4 828.5,1083.5 830.5,1083.6 832.5,1083.8 834.5,1083.9 836.5,1084 838.5,1084.1 840.5,1084.2 842.5,1084.3 844.5,1084.4 846.5,1084.5 848.5,1084.6 850.5,1084.7 852.5,1084.8 854.5,1084.9 856.5,1085 858.5,1085 860.5,1085.1 862.5,1085.2 864.5,1085.3 866.5,1085.4 868.5,1085.4 870.5,1085.5 872.5,1085.6 874.5,1085.7 876.5,1085.7 878.5,1085.8 880.5,1085.9 882.5,1086 884.5,1086 886.5,1086.1 888.5,1086.2 890.5,1086.3 892.5,1086.3 894.5,1086.4 896.5,1086.5 898.5,1086.5 900.5,1086.6 902.5,1086.7 904.5,1086.7 906.5,1086.8 908.5,1086.9 910.5,1086.9 912.5,1087 914.5,1087.1 916.5,1087.1 918.5,1087.2 920.5,1087.3 922.5,1087.3 924.5,1087.4 926.5,1087.5 928.5,1087.5 930.5,1087.6 932.5,1087.7 934.5,1087.7 936.5,1087.8 938.5,1087.9" stroke="#F68D6F" stroke-width="2.4"/>
<path d="M692.5,1080.1 694.5,1080.2 696.5,1080.2 698.5,1080.3 700.5,1080.4 702.5,1080.4 704.5,1080.5 706.5,1080.5 708.5,1080.6 710.5,1080.7 712.5,1080.7 714.5,1080.8 716.5,1080.8 718.5,1080.9 720.5,1080.9 722.5,1081 724.5,1081.1 726.5,1081.1 728.5,1081.2 730.5,1081.2 732.5,1081.3 734.5,1081.3 736.5,1081.4 738.5,1081.4 740.5,1081.5 742.5,1081.5 744.5,1081.6 746.5,1081.7 748.5,1081.7 750.5,1081.8 752.5,1081.8 754.5,1081.9 756.5,1081.9 758.5,1082 760.5,1082 762.5,1082.1 764.5,1082.1 766.5,1082.2 768.5,1082.2 770.5,1082.2 772.5,1082.3 774.5,1082.3 776.5,1082.4 778.5,1082.4 780.5,1082.5 782.5,1082.5 784.5,1082.5 786.5,1082.6 788.5,1082.6 790.5,1082.6 792.5,1082.7 794.5,1082.7 796.5,1082.7 798.5,1082.7 800.5,1082.8 802.5,1082.8 804.5,1082.8 806.5,1082.8 808.5,1082.8 810.5,1082.8 812.5,1082.8 814.5,1082.8 816.5,1082.8 818.5,1082.7 820.5,1082.7 822.5,1082.7 824.5,1082.6 826.5,1082.5 828.5,1082.5 830.5,1082.4 832.5,1082.2 834.5,1082.1 836.5,1082 838.5,1081.8 840.5,1081.5 842.5,1081.3 844.5,1080.9 846.5,1080.6 848.5,1080.1 850.5,1079.5 852.5,1078.8 854.5,1078 856.5,1076.8 858.5,1075.4 860.5,1073.5 862.5,1071 864.5,1067.7 866.5,1063.6 868.5,1058.4 870.5,1052 872.5,1044.6 874.5,1036.3 876.5,1027.9 878.5,1020.6 880.5,1016.1 882.5,1015.7 884.5,1019.6 886.5,1026.6 888.5,1035 890.5,1043.5 892.5,1051.3 894.5,1058 896.5,1063.5 898.5,1068 900.5,1071.6 902.5,1074.3 904.5,1076.5 906.5,1078.1 908.5,1079.4 910.5,1080.5 912.5,1081.3 914.5,1082 916.5,1082.7 918.5,1083.2 920.5,1083.6 922.5,1084 924.5,1084.4 926.5,1084.7 928.5,1085 930.5,1085.3 932.5,1085.5 934.5,1085.7 936.5,1086 938.5,1086.1" stroke="#F68D6F" stroke-width="2.4"/>
<path d="M692.5,1198.7 939,1197.5" stroke="#62A9D3" stroke-width="2.4"/>
<path d="M692.5,1198.4 694.5,1198.4 696.5,1198.3 698.5,1198.3 700.5,1198.3 702.5,1198.3 704.5,1198.2 706.5,1198.2 708.5,1198.2 710.5,1198.1 712.5,1198.1 714.5,1198 716.5,1198 718.5,1197.9 720.5,1197.9 722.5,1197.8 724.5,1197.7 726.5,1197.6 728.5,1197.5 730.5,1197.4 732.5,1197.3 734.5,1197.2 736.5,1197 738.5,1196.9 740.5,1196.7 742.5,1196.4 744.5,1196.1 746.5,1195.7 748.5,1195.3 750.5,1194.7 752.5,1194 754.5,1193 756.5,1191.6 758.5,1189.5 760.5,1186.3 762.5,1181.7 764.5,1175.3 766.5,1167 768.5,1157.4 770.5,1149 772.5,1146 774.5,1150.4 776.5,1159.3 778.5,1168.7 780.5,1176.7 782.5,1182.7 784.5,1186.9 786.5,1189.8 788.5,1191.7 790.5,1193 792.5,1194 794.5,1194.6 796.5,1195.2 798.5,1195.6 800.5,1195.9 802.5,1196.2 804.5,1196.4 806.5,1196.6 808.5,1196.7 810.5,1196.9 812.5,1197 814.5,1197.1 816.5,1197.1 818.5,1197.2 820.5,1197.3 822.5,1197.3 824.5,1197.4 826.5,1197.4 828.5,1197.4 830.5,1197.5 832.5,1197.5 834.5,1197.5 836.5,1197.5 838.5,1197.6 840.5,1197.6 842.5,1197.6 844.5,1197.6 846.5,1197.6 848.5,1197.6 850.5,1197.6 852.5,1197.6 854.5,1197.6 856.5,1197.6 858.5,1197.6 860.5,1197.6 862.5,1197.6 864.5,1197.6 866.5,1197.6 868.5,1197.6 870.5,1197.6 872.5,1197.6 874.5,1197.6 876.5,1197.6 878.5,1197.6 880.5,1197.6 882.5,1197.6 884.5,1197.6 886.5,1197.6 888.5,1197.6 890.5,1197.6 892.5,1197.6 894.5,1197.6 896.5,1197.6 898.5,1197.6 900.5,1197.6 902.5,1197.6 904.5,1197.6 906.5,1197.6 908.5,1197.5 910.5,1197.5 912.5,1197.5 914.5,1197.5 916.5,1197.5 918.5,1197.5 920.5,1197.5 922.5,1197.5 924.5,1197.5 926.5,1197.5 928.5,1197.5 930.5,1197.5 932.5,1197.5 934.5,1197.4 936.5,1197.4 938.5,1197.4" stroke="#62A9D3" stroke-width="2.4"/>
<path d="M692.5,1198.6 694.5,1198.6 696.5,1198.6 698.5,1198.6 700.5,1198.5 702.5,1198.5 704.5,1198.5 706.5,1198.5 708.5,1198.5 710.5,1198.5 712.5,1198.5 714.5,1198.5 716.5,1198.4 718.5,1198.4 720.5,1198.4 722.5,1198.4 724.5,1198.4 726.5,1198.4 728.5,1198.4 730.5,1198.3 732.5,1198.3 734.5,1198.3 736.5,1198.3 738.5,1198.3 740.5,1198.3 742.5,1198.3 744.5,1198.2 746.5,1198.2 748.5,1198.2 750.5,1198.2 752.5,1198.2 754.5,1198.2 756.5,1198.1 758.5,1198.1 760.5,1198.1 762.5,1198.1 764.5,1198.1 766.5,1198 768.5,1198 770.5,1198 772.5,1198 774.5,1198 776.5,1197.9 778.5,1197.9 780.5,1197.9 782.5,1197.9 784.5,1197.8 786.5,1197.8 788.5,1197.8 790.5,1197.7 792.5,1197.7 794.5,1197.7 796.5,1197.6 798.5,1197.6 800.5,1197.6 802.5,1197.5 804.5,1197.5 806.5,1197.4 808.5,1197.4 810.5,1197.3 812.5,1197.3 814.5,1197.2 816.5,1197.1 818.5,1197 820.5,1197 822.5,1196.9 824.5,1196.8 826.5,1196.7 828.5,1196.5 830.5,1196.4 832.5,1196.2 834.5,1196.1 836.5,1195.9 838.5,1195.6 840.5,1195.4 842.5,1195.1 844.5,1194.7 846.5,1194.3 848.5,1193.8 850.5,1193.2 852.5,1192.5 854.5,1191.6 856.5,1190.3 858.5,1188.7 860.5,1186.4 862.5,1183.1 864.5,1178.5 866.5,1172.1 868.5,1163.6 870.5,1152.9 872.5,1140.7 874.5,1129.1 876.5,1122 878.5,1122.9 880.5,1131.2 882.5,1143.2 884.5,1155.2 886.5,1165.4 888.5,1173.4 890.5,1179.4 892.5,1183.7 894.5,1186.7 896.5,1188.9 898.5,1190.4 900.5,1191.5 902.5,1192.4 904.5,1193.1 906.5,1193.7 908.5,1194.1 910.5,1194.5 912.5,1194.8 914.5,1195.1 916.5,1195.3 918.5,1195.5 920.5,1195.7 922.5,1195.8 924.5,1196 926.5,1196.1 928.5,1196.2 930.5,1196.3 932.5,1196.4 934.5,1196.4 936.5,1196.5 938.5,1196.5" stroke="#62A9D3" stroke-width="2.4"/>
<path d="M697,1323 939,1319.5" stroke="#2A87EA" stroke-width="2.4"/>
<path d="M697,1322.5 699,1322.4 701,1322.3 703,1322.3 705,1322.2 707,1322.1 709,1322.1 711,1322 713,1321.9 715,1321.8 717,1321.7 719,1321.6 721,1321.5 723,1321.4 725,1321.2 727,1321.1 729,1320.9 731,1320.7 733,1320.5 735,1320.3 737,1320 739,1319.7 741,1319.3 743,1318.9 745,1318.3 747,1317.7 749,1316.8 751,1315.7 753,1314.1 755,1312 757,1309.1 759,1305.2 761,1300.1 763,1293.7 765,1286.4 767,1278.8 769,1272.7 771,1270.3 773,1272.7 775,1278.7 777,1286.2 779,1293.5 781,1299.8 783,1304.8 785,1308.7 787,1311.5 789,1313.6 791,1315.1 793,1316.2 795,1317 797,1317.6 799,1318.1 801,1318.5 803,1318.8 805,1319 807,1319.2 809,1319.4 811,1319.6 813,1319.7 815,1319.8 817,1319.9 819,1320 821,1320.1 823,1320.1 825,1320.2 827,1320.2 829,1320.2 831,1320.3 833,1320.3 835,1320.3 837,1320.3 839,1320.3 841,1320.3 843,1320.3 845,1320.3 847,1320.3 849,1320.3 851,1320.3 853,1320.3 855,1320.3 857,1320.3 859,1320.3 861,1320.3 863,1320.3 865,1320.2 867,1320.2 869,1320.2 871,1320.2 873,1320.2 875,1320.2 877,1320.1 879,1320.1 881,1320.1 883,1320.1 885,1320.1 887,1320 889,1320 891,1320 893,1320 895,1319.9 897,1319.9 899,1319.9 901,1319.9 903,1319.9 905,1319.8 907,1319.8 909,1319.8 911,1319.8 913,1319.7 915,1319.7 917,1319.7 919,1319.7 921,1319.6 923,1319.6 925,1319.6 927,1319.6 929,1319.5 931,1319.5 933,1319.5 935,1319.4 937,1319.4 939,1319.4" stroke="#2A87EA" stroke-width="2.4"/>
<path d="M697,1322.8 699,1322.8 701,1322.8 703,1322.7 705,1322.7 707,1322.7 709,1322.6 711,1322.6 713,1322.6 715,1322.5 717,1322.5 719,1322.5 721,1322.4 723,1322.4 725,1322.4 727,1322.3 729,1322.3 731,1322.3 733,1322.2 735,1322.2 737,1322.1 739,1322.1 741,1322.1 743,1322 745,1322 747,1322 749,1321.9 751,1321.9 753,1321.8 755,1321.8 757,1321.8 759,1321.7 761,1321.7 763,1321.6 765,1321.6 767,1321.5 769,1321.5 771,1321.4 773,1321.4 775,1321.4 777,1321.3 779,1321.3 781,1321.2 783,1321.1 785,1321.1 787,1321 789,1321 791,1320.9 793,1320.9 795,1320.8 797,1320.7 799,1320.7 801,1320.6 803,1320.5 805,1320.4 807,1320.3 809,1320.2 811,1320.2 813,1320.1 815,1319.9 817,1319.8 819,1319.7 821,1319.6 823,1319.4 825,1319.3 827,1319.1 829,1318.9 831,1318.7 833,1318.5 835,1318.2 837,1318 839,1317.6 841,1317.3 843,1316.9 845,1316.4 847,1315.8 849,1315.2 851,1314.4 853,1313.4 855,1312.1 857,1310.5 859,1308.4 861,1305.6 863,1302 865,1297.2 867,1291.2 869,1283.7 871,1274.9 873,1265.2 875,1255.6 877,1247.9 879,1244.4 881,1246.3 883,1252.8 885,1262 887,1271.8 889,1280.9 891,1288.7 893,1295.2 895,1300.2 897,1304.1 899,1307.1 901,1309.3 903,1311 905,1312.3 907,1313.3 909,1314.1 911,1314.7 913,1315.3 915,1315.7 917,1316.1 919,1316.4 921,1316.7 923,1316.9 925,1317.1 927,1317.3 929,1317.4 931,1317.6 933,1317.7 935,1317.8 937,1317.9 939,1317.9" stroke="#2A87EA" stroke-width="2.4"/>
<path d="M949.3,848.1 950.8,847.6 952.3,848.1 953.8,848.9 955.3,848.6 956.8,848.3 958.3,847.8 959.8,848.1 961.3,847.5 962.8,847.5 964.3,847.2 965.8,847.6 967.3,847.6 968.8,848.1 970.3,847.4 971.8,847.2 973.3,846.6 974.8,847.1 976.3,847.4 977.8,847.5 979.3,848.1 980.8,847.4 982.3,847.2 983.8,846.7 985.3,846.8 986.8,847.2 988.3,847.2 989.8,846.9 991.3,847.1 992.8,846.2 994.3,845.8 995.8,845.1 997.3,845.2 998.8,844.6 1000.3,844 1001.8,843.6 1003.3,842.2 1004.8,841.1 1006.3,840.5 1007.8,839.3 1009.3,838.7 1010.8,837.9 1012.3,835.9 1013.8,835.3 1015.3,833.7 1016.8,832.4 1018.3,830.3 1019.8,828.2 1021.3,826.7 1022.8,824.6 1024.3,823.6 1025.8,821.1 1027.3,819.1 1028.8,815.9 1030.3,813.2 1031.8,808.9 1033.3,804.1 1034.8,798.8 1036.3,792.1 1037.8,777.7 1039.3,760 1040.8,734.6 1042.3,681.1 1043.8,626 1045.3,552.9 1046.8,504.8 1048.3,453.4 1049.8,461.1 1051.3,516.8 1052.8,583.4 1054.3,656.1 1055.8,717 1057.3,761 1058.8,789.2 1060.3,805.8 1061.8,816.4 1063.3,825.7 1064.8,832.8 1066.3,838.2 1067.8,842.2 1069.3,845.1 1070.8,846.4 1072.3,846.7 1073.8,846.1 1075.3,846.1 1076.8,845.9 1078.3,846.5 1079.8,846.5 1081.3,846.6 1082.8,846.5 1084.3,846.5 1085.8,846.1 1087.3,845.8 1088.8,845.4 1090.3,845.1 1091.8,844.5 1093.3,844.8 1094.8,843.5 1096.3,842.3 1097.8,841.5 1099.3,841 1100.8,839.8 1102.3,838.9 1103.8,838.1 1105.3,837 1106.8,836.7 1108.3,836.5 1109.8,836.3 1111.3,837.3 1112.8,838.8 1114.3,839.7 1115.8,840.9 1117.3,842.6 1118.8,844.2 1120.3,845.9 1121.8,846.5 1123.3,846.6 1124.8,847 1126.3,847.5 1127.8,847.9 1129.3,847.3 1130.8,847.4 1132.3,848.3 1133.8,848 1135.3,848.1 1136.8,848 1138.3,847.7 1139.8,848 1141.3,848 1142.8,847.5 1144.3,847.6 1145.8,848.1 1147.3,847.3 1148.8,847.8 1150.3,847.6 1151.8,847.5 1153.3,847.7 1154.8,848 1156.3,848.2 1157.8,847.9 1159.3,848 1160.8,847.4 1162.3,847.6 1163.8,847.9 1165.3,847.7 1166.8,847.9 1168.3,847.8 1169.8,847.5 1171.3,847.7 1172.8,847.9 1174.3,847.7 1175.8,847.6 1177.3,847.9" stroke="#D0161E"/>
<path d="M949.3,968.1 950.8,969.8 952.3,970.7 953.8,971.6 955.3,969.6 956.8,968.6 958.3,969.1 959.8,970.8 961.3,968.3 962.8,967.4 964.3,968.8 965.8,970.9 967.3,971.6 968.8,969.4 970.3,969.4 971.8,968.6 973.3,966.9 974.8,968.8 976.3,969.6 977.8,967.6 979.3,968.5 980.8,968.3 982.3,966.8 983.8,968.4 985.3,968.9 986.8,966.3 988.3,967.8 989.8,967.1 991.3,969 992.8,967.3 994.3,968.5 995.8,967 997.3,968.7 998.8,969.1 1000.3,968.9 1001.8,968.2 1003.3,964.9 1004.8,965 1006.3,964.9 1007.8,962.3 1009.3,966.1 1010.8,965.3 1012.3,965.3 1013.8,963.4 1015.3,963.5 1016.8,964.1 1018.3,961.4 1019.8,961.1 1021.3,962.6 1022.8,960.6 1024.3,959 1025.8,958.1 1027.3,956.7 1028.8,953.6 1030.3,954.3 1031.8,951.5 1033.3,946.9 1034.8,945.3 1036.3,943.9 1037.8,938.1 1039.3,933.1 1040.8,929.2 1042.3,926 1043.8,923.9 1045.3,921 1046.8,923.4 1048.3,923.1 1049.8,925.6 1051.3,930.9 1052.8,937.1 1054.3,944.2 1055.8,947.4 1057.3,952.7 1058.8,955.1 1060.3,959.2 1061.8,963.1 1063.3,964.7 1064.8,964.7 1066.3,966.7 1067.8,967.8 1069.3,967.5 1070.8,968.1 1072.3,967.7 1073.8,967.7 1075.3,965.5 1076.8,964.3 1078.3,964.8 1079.8,964.2 1081.3,964.4 1082.8,962.4 1084.3,961.4 1085.8,959.1 1087.3,954.4 1088.8,951.6 1090.3,947.8 1091.8,943.5 1093.3,935.2 1094.8,929.7 1096.3,923.7 1097.8,916.9 1099.3,911.3 1100.8,904.5 1102.3,900.5 1103.8,896.2 1105.3,895.9 1106.8,898.3 1108.3,898.6 1109.8,905.8 1111.3,911.6 1112.8,920.9 1114.3,928.9 1115.8,936.6 1117.3,943.9 1118.8,952.4 1120.3,956.1 1121.8,959.2 1123.3,963.1 1124.8,965.3 1126.3,967.2 1127.8,968.4 1129.3,967.6 1130.8,967.1 1132.3,968.6 1133.8,970.1 1135.3,968.3 1136.8,967 1138.3,967.4 1139.8,967.7 1141.3,967.8 1142.8,970.2 1144.3,968.9 1145.8,969 1147.3,968.7 1148.8,969.8 1150.3,968.4 1151.8,967.2 1153.3,967.8 1154.8,968.6 1156.3,969.8 1157.8,970.4 1159.3,967.6 1160.8,969 1162.3,970 1163.8,967.3 1165.3,967.5 1166.8,967.1 1168.3,966.2 1169.8,967.8 1171.3,968 1172.8,969.5 1174.3,968.1 1175.8,968.6 1177.3,967.5" stroke="#EC3B2C"/>
<path d="M949.3,1089.4 950.8,1089.4 952.3,1090.2 953.8,1089.7 955.3,1089.6 956.8,1089.3 958.3,1089.9 959.8,1089.8 961.3,1089 962.8,1089.2 964.3,1087.4 965.8,1087.3 967.3,1087.4 968.8,1087.4 970.3,1087.8 971.8,1088.6 973.3,1088.8 974.8,1088.6 976.3,1090.2 977.8,1089 979.3,1088.1 980.8,1087.9 982.3,1087.5 983.8,1087.6 985.3,1087.9 986.8,1088.5 988.3,1088.6 989.8,1086.8 991.3,1086.7 992.8,1087.2 994.3,1087.3 995.8,1087.8 997.3,1087.1 998.8,1088.1 1000.3,1088.2 1001.8,1086.8 1003.3,1086.9 1004.8,1086.6 1006.3,1086.5 1007.8,1086.5 1009.3,1084.9 1010.8,1084.5 1012.3,1083.1 1013.8,1084.1 1015.3,1082.9 1016.8,1082.7 1018.3,1082.4 1019.8,1081.5 1021.3,1081.3 1022.8,1079.8 1024.3,1079.2 1025.8,1078.5 1027.3,1077.9 1028.8,1075.7 1030.3,1073.4 1031.8,1070.6 1033.3,1067.2 1034.8,1063.9 1036.3,1059.7 1037.8,1056.2 1039.3,1052.5 1040.8,1049.1 1042.3,1046.4 1043.8,1045.1 1045.3,1043.9 1046.8,1044.8 1048.3,1046.8 1049.8,1050.6 1051.3,1056 1052.8,1061.3 1054.3,1066.2 1055.8,1071.3 1057.3,1075.4 1058.8,1080.3 1060.3,1082.2 1061.8,1083.4 1063.3,1085.5 1064.8,1086.2 1066.3,1086.9 1067.8,1087 1069.3,1086.7 1070.8,1086.4 1072.3,1086.9 1073.8,1086.6 1075.3,1086.1 1076.8,1086 1078.3,1086.6 1079.8,1086.6 1081.3,1085 1082.8,1082.6 1084.3,1081.4 1085.8,1078.8 1087.3,1075.3 1088.8,1071.7 1090.3,1067.3 1091.8,1061.5 1093.3,1056 1094.8,1050.6 1096.3,1043.8 1097.8,1037.4 1099.3,1030.5 1100.8,1026.7 1102.3,1023.3 1103.8,1021.4 1105.3,1019.9 1106.8,1021 1108.3,1025.2 1109.8,1031.7 1111.3,1039 1112.8,1047 1114.3,1054.6 1115.8,1063.4 1117.3,1069.8 1118.8,1075 1120.3,1079.4 1121.8,1083 1123.3,1084.8 1124.8,1086.3 1126.3,1087.9 1127.8,1087.5 1129.3,1087.8 1130.8,1088.7 1132.3,1089 1133.8,1089.3 1135.3,1089 1136.8,1088.3 1138.3,1087.8 1139.8,1088.2 1141.3,1088.9 1142.8,1087.7 1144.3,1088.7 1145.8,1088.2 1147.3,1088.9 1148.8,1088.7 1150.3,1088.8 1151.8,1088.6 1153.3,1089.1 1154.8,1089.8 1156.3,1088.9 1157.8,1089 1159.3,1089.2 1160.8,1089.8 1162.3,1090.1 1163.8,1089.2 1165.3,1088.5 1166.8,1088.4 1168.3,1088.6 1169.8,1089 1171.3,1089.3 1172.8,1089 1174.3,1088.7 1175.8,1088.8 1177.3,1088.8 1178.8,1088.3" stroke="#F68D6F"/>
<path d="M949.3,1198.1 950.8,1197.8 952.3,1198.1 953.8,1197 955.3,1196.8 956.8,1196.9 958.3,1197.6 959.8,1197 961.3,1197.3 962.8,1197.6 964.3,1198 965.8,1197.6 967.3,1197.8 968.8,1197.8 970.3,1197.1 971.8,1197.2 973.3,1196.9 974.8,1196.7 976.3,1197.3 977.8,1197.3 979.3,1197.1 980.8,1197.4 982.3,1196.6 983.8,1196.9 985.3,1197.4 986.8,1197.1 988.3,1197.3 989.8,1196.7 991.3,1196 992.8,1195.8 994.3,1197.2 995.8,1197.2 997.3,1196.8 998.8,1196.5 1000.3,1195.9 1001.8,1196 1003.3,1195.7 1004.8,1195.5 1006.3,1195.5 1007.8,1194.7 1009.3,1194.6 1010.8,1194.2 1012.3,1193.4 1013.8,1192.9 1015.3,1192.3 1016.8,1192.5 1018.3,1191.2 1019.8,1191.2 1021.3,1190.8 1022.8,1189.6 1024.3,1188.7 1025.8,1187.6 1027.3,1187.1 1028.8,1185.2 1030.3,1183.5 1031.8,1180.5 1033.3,1177.8 1034.8,1174.4 1036.3,1171.6 1037.8,1168.1 1039.3,1163.9 1040.8,1160.1 1042.3,1156.9 1043.8,1154.8 1045.3,1152.4 1046.8,1152.6 1048.3,1153.6 1049.8,1156.6 1051.3,1160.9 1052.8,1166.1 1054.3,1171.6 1055.8,1177.1 1057.3,1181.7 1058.8,1185.7 1060.3,1189.4 1061.8,1191.8 1063.3,1193.4 1064.8,1194.5 1066.3,1195.6 1067.8,1196.2 1069.3,1196.1 1070.8,1196.5 1072.3,1196.4 1073.8,1195.8 1075.3,1195.4 1076.8,1195.3 1078.3,1194.3 1079.8,1194.2 1081.3,1192.4 1082.8,1191.8 1084.3,1190.8 1085.8,1188.1 1087.3,1184.7 1088.8,1181.3 1090.3,1177.1 1091.8,1172.5 1093.3,1167.3 1094.8,1161.8 1096.3,1155.4 1097.8,1149.2 1099.3,1143.3 1100.8,1137.8 1102.3,1133.2 1103.8,1131.1 1105.3,1130 1106.8,1131.8 1108.3,1136 1109.8,1141.8 1111.3,1148.9 1112.8,1156.4 1114.3,1164.1 1115.8,1171.5 1117.3,1177.9 1118.8,1183.2 1120.3,1187.5 1121.8,1190.6 1123.3,1193.3 1124.8,1195 1126.3,1195.9 1127.8,1196.9 1129.3,1197 1130.8,1196.7 1132.3,1197.3 1133.8,1198.2 1135.3,1198.1 1136.8,1197.8 1138.3,1197.1 1139.8,1197.2 1141.3,1197.5 1142.8,1197.5 1144.3,1197.5 1145.8,1196.8 1147.3,1197.8 1148.8,1197.8 1150.3,1197.9 1151.8,1197.6 1153.3,1197.3 1154.8,1197.9 1156.3,1198.5 1157.8,1198.3 1159.3,1198.1 1160.8,1197.9 1162.3,1197.6 1163.8,1197.8 1165.3,1197.6 1166.8,1197.5 1168.3,1198.5 1169.8,1198.4 1171.3,1197.7 1172.8,1197.6 1174.3,1197.8 1175.8,1197.7 1177.3,1197.7 1178.8,1197.6 1180.3,1197.7 1181.8,1198 1183.3,1198" stroke="#62A9D3"/>
<path d="M949.3,1318 950.8,1317.8 952.3,1317.8 953.8,1317.9 955.3,1319.2 956.8,1318.7 958.3,1318.3 959.8,1318.1 961.3,1317.9 962.8,1317.3 964.3,1317 965.8,1317.1 967.3,1317.8 968.8,1318.3 970.3,1316.9 971.8,1317.4 973.3,1317.4 974.8,1317.1 976.3,1316.7 977.8,1316.8 979.3,1316.4 980.8,1316.5 982.3,1316.9 983.8,1317.5 985.3,1317.5 986.8,1317.2 988.3,1316.9 989.8,1316.1 991.3,1316.3 992.8,1316.5 994.3,1317.2 995.8,1317 997.3,1316.1 998.8,1315.5 1000.3,1315.9 1001.8,1315.1 1003.3,1315.2 1004.8,1314.6 1006.3,1315.2 1007.8,1314.5 1009.3,1314.1 1010.8,1313.8 1012.3,1312.9 1013.8,1312.4 1015.3,1312.2 1016.8,1313 1018.3,1312.6 1019.8,1311.8 1021.3,1311.2 1022.8,1310.4 1024.3,1308.6 1025.8,1307.4 1027.3,1306.4 1028.8,1304.8 1030.3,1301.9 1031.8,1300.8 1033.3,1298.9 1034.8,1294.8 1036.3,1291.7 1037.8,1287.6 1039.3,1284.2 1040.8,1281.6 1042.3,1278.1 1043.8,1275.5 1045.3,1271.8 1046.8,1271.1 1048.3,1271.5 1049.8,1272.9 1051.3,1279.3 1052.8,1283.5 1054.3,1288.6 1055.8,1294.2 1057.3,1299.9 1058.8,1304.1 1060.3,1306.6 1061.8,1310 1063.3,1312.5 1064.8,1314.5 1066.3,1315.2 1067.8,1315.3 1069.3,1314.7 1070.8,1315.5 1072.3,1316.6 1073.8,1316.7 1075.3,1315.8 1076.8,1315.4 1078.3,1314.8 1079.8,1314.4 1081.3,1314.2 1082.8,1312.8 1084.3,1310.6 1085.8,1308 1087.3,1305.5 1088.8,1302.8 1090.3,1298 1091.8,1295 1093.3,1289 1094.8,1283.2 1096.3,1276.6 1097.8,1271.1 1099.3,1264.8 1100.8,1258.4 1102.3,1255 1103.8,1250.5 1105.3,1249.3 1106.8,1248.9 1108.3,1251.9 1109.8,1256.8 1111.3,1263.9 1112.8,1271.4 1114.3,1279.3 1115.8,1287 1117.3,1293.9 1118.8,1299.7 1120.3,1304.8 1121.8,1309.7 1123.3,1312.9 1124.8,1313.9 1126.3,1315.6 1127.8,1316.4 1129.3,1316.9 1130.8,1315.9 1132.3,1316 1133.8,1317 1135.3,1316.5 1136.8,1317.7 1138.3,1317 1139.8,1317 1141.3,1317.9 1142.8,1317.2 1144.3,1317.1 1145.8,1317 1147.3,1317.2 1148.8,1317.5 1150.3,1317.3 1151.8,1318 1153.3,1317 1154.8,1317 1156.3,1316.8 1157.8,1317.2 1159.3,1316.6 1160.8,1317.2 1162.3,1317.2 1163.8,1317.8 1165.3,1317.4 1166.8,1318.6 1168.3,1317.7 1169.8,1317.3 1171.3,1317.5 1172.8,1318.1 1174.3,1318.1 1175.8,1317.3 1177.3,1318.3 1178.8,1318.9 1180.3,1318 1181.8,1316.9 1183.3,1317 1184.8,1317.5 1186.3,1317.1 1187.8,1316.8 1189.3,1317.5" stroke="#2A87EA"/>
</g>
<g fill="none" stroke="#000" stroke-width="1.6">
<path d="M938.3,738.4 H691.7 V1332.9 H938.3"/>
<path d="M949.3,738.4 H1250 V1332.9 H949.3"/>
<path d="M934,749.6 L943.5,727.4" stroke-width="1.5"/>
<path d="M944,749.6 L953.5,727.4" stroke-width="1.5"/>
<path d="M934,1344.1 L943.5,1321.9" stroke-width="1.5"/>
<path d="M944,1344.1 L953.5,1321.9" stroke-width="1.5"/>
<path d="M709.3,1332.9v11M816,1332.9v11M921.7,1332.9v11M984.3,1332.9v11M1091,1332.9v11M1197.5,1332.9v11M762.7,1332.9v5.8M868.8,1332.9v5.8M1037.7,1332.9v5.8M1144.2,1332.9v5.8M1250,1332.9v5.8"/>
</g>
<text x="709.3" y="1377" font-size="30.2" text-anchor="middle">378</text>
<text x="816" y="1377" font-size="30.2" text-anchor="middle">372</text>
<text x="921.7" y="1377" font-size="30.2" text-anchor="middle">366</text>
<text x="984.3" y="1377" font-size="30.2" text-anchor="middle">78</text>
<text x="1091" y="1377" font-size="30.2" text-anchor="middle">72</text>
<text x="1197.5" y="1377" font-size="30.2" text-anchor="middle">66</text>
<text x="631.3" y="759.8" font-size="41" font-weight="bold">g</text>
<text x="695.5" y="776.3" font-size="34.1">Ag 3<tspan font-style="italic">d</tspan></text>
<text x="1240.2" y="776.6" font-size="34.1" text-anchor="end">Pt 4<tspan font-style="italic">f</tspan></text>
<text x="1246.8" y="842.3" font-size="33.8" text-anchor="end">140 eV</text>
<text x="1246.8" y="958" font-size="33.8" text-anchor="end">170 eV</text>
<text x="1246.8" y="1083.2" font-size="33.8" text-anchor="end">270 eV</text>
<text x="1246.8" y="1192.6" font-size="33.8" text-anchor="end">370 eV</text>
<text x="1246.8" y="1311.6" font-size="33.8" text-anchor="end">470 eV</text>
<text transform="translate(671,1036.3) rotate(-90)" font-size="33.4" text-anchor="middle">Intensity (arb. units)</text>
<text x="988.6" y="1416.6" font-size="34" text-anchor="middle">Binding Energy (eV)</text>
<defs>
<radialGradient id="b140" cx="0.36" cy="0.3" r="0.78" fx="0.36" fy="0.3"><stop offset="0" stop-color="#fff" stop-opacity="1"/><stop offset="0.09" stop-color="#F0A0A0"/><stop offset="0.3" stop-color="#C23840"/><stop offset="0.72" stop-color="#C23840"/><stop offset="1" stop-color="#8E1F28"/></radialGradient>
<radialGradient id="b170" cx="0.36" cy="0.3" r="0.78" fx="0.36" fy="0.3"><stop offset="0" stop-color="#fff" stop-opacity="1"/><stop offset="0.09" stop-color="#FFC0B8"/><stop offset="0.3" stop-color="#EE5048"/><stop offset="0.72" stop-color="#EE5048"/><stop offset="1" stop-color="#C03030"/></radialGradient>
<radialGradient id="b270" cx="0.36" cy="0.3" r="0.78" fx="0.36" fy="0.3"><stop offset="0" stop-color="#fff" stop-opacity="1"/><stop offset="0.09" stop-color="#FFE0D0"/><stop offset="0.3" stop-color="#F68C68"/><stop offset="0.72" stop-color="#F68C68"/><stop offset="1" stop-color="#D86840"/></radialGradient>
<radialGradient id="b370" cx="0.36" cy="0.3" r="0.78" fx="0.36" fy="0.3"><stop offset="0" stop-color="#fff" stop-opacity="1"/><stop offset="0.09" stop-color="#E8F4FF"/><stop offset="0.3" stop-color="#7DB4DE"/><stop offset="0.72" stop-color="#7DB4DE"/><stop offset="1" stop-color="#5088B8"/></radialGradient>
<radialGradient id="b470" cx="0.36" cy="0.3" r="0.78" fx="0.36" fy="0.3"><stop offset="0" stop-color="#fff" stop-opacity="1"/><stop offset="0.09" stop-color="#C8E4FF"/><stop offset="0.3" stop-color="#1E88F2"/><stop offset="0.72" stop-color="#1E88F2"/><stop offset="1" stop-color="#0F5FC0"/></radialGradient>
<radialGradient id="bag" cx="0.36" cy="0.3" r="0.78" fx="0.36" fy="0.3"><stop offset="0" stop-color="#fff" stop-opacity="1"/><stop offset="0.09" stop-color="#FFC0C8"/><stop offset="0.3" stop-color="#F24A62"/><stop offset="0.72" stop-color="#F24A62"/><stop offset="1" stop-color="#C02840"/></radialGradient>
</defs>
<line x1="1363.5" y1="937" x2="1922.3" y2="937" stroke="#B4B4B4" stroke-width="1.3"/>
<line x1="1363.5" y1="1134.5" x2="1922.3" y2="1134.5" stroke="#B4B4B4" stroke-width="1.3"/>
<path d="M1405.2,903.7 1447.1,883.7 1586.7,824.3 1726.4,772 1866,772" fill="none" stroke="#BEBEBE" stroke-width="2.5" stroke-dasharray="6.6,7.3" stroke-dashoffset="-10" stroke-linecap="butt"/>
<circle cx="1405.2" cy="903.7" r="8.3" fill="url(#b140)"/>
<circle cx="1447.1" cy="883.7" r="8.3" fill="url(#b170)"/>
<circle cx="1586.7" cy="824.3" r="8.3" fill="url(#b270)"/>
<circle cx="1726.4" cy="772" r="8.3" fill="url(#b370)"/>
<circle cx="1866" cy="772" r="8.3" fill="url(#b470)"/>
<text x="1380.5" y="775" font-size="32.2">Pd</text>
<path d="M1363.5,772h-9.5M1363.5,903.7h-9.5M1363.5,837.9h-5" stroke="#000" stroke-width="1.5" fill="none"/>
<text x="1346.3" y="782.5" font-size="30.5" text-anchor="end">1</text>
<text x="1344.3" y="914.2" font-size="30.5" text-anchor="end">0</text>
<path d="M1405.2,1101.3 1447.1,1086 1586.7,1032.7 1726.4,971 1866,969.7" fill="none" stroke="#BEBEBE" stroke-width="2.5" stroke-dasharray="6.6,7.3" stroke-dashoffset="-10" stroke-linecap="butt"/>
<circle cx="1405.2" cy="1101.3" r="8.3" fill="url(#b140)"/>
<circle cx="1447.1" cy="1086" r="8.3" fill="url(#bag)"/>
<circle cx="1586.7" cy="1032.7" r="8.3" fill="url(#b270)"/>
<circle cx="1726.4" cy="971" r="8.3" fill="url(#b370)"/>
<circle cx="1866" cy="969.7" r="8.3" fill="url(#b470)"/>
<text x="1379" y="973.7" font-size="32.2">Ag</text>
<path d="M1363.5,969.7h-9.5M1363.5,1101.3h-9.5M1363.5,1035.5h-5" stroke="#000" stroke-width="1.5" fill="none"/>
<text x="1346.3" y="980.2" font-size="30.5" text-anchor="end">1</text>
<text x="1344.3" y="1111.8" font-size="30.5" text-anchor="end">0</text>
<path d="M1405.2,1299.7 1447.1,1300.3 1586.7,1222 1726.4,1180.3 1866,1168" fill="none" stroke="#BEBEBE" stroke-width="2.5" stroke-dasharray="6.6,7.3" stroke-dashoffset="-10" stroke-linecap="butt"/>
<circle cx="1405.2" cy="1299.7" r="8.3" fill="url(#b140)"/>
<circle cx="1447.1" cy="1300.3" r="8.3" fill="url(#bag)"/>
<circle cx="1586.7" cy="1222" r="8.3" fill="url(#b270)"/>
<circle cx="1726.4" cy="1180.3" r="8.3" fill="url(#b370)"/>
<circle cx="1866" cy="1168" r="8.3" fill="url(#b470)"/>
<text x="1378" y="1172" font-size="32.2">Rh</text>
<path d="M1363.5,1168h-9.5M1363.5,1299.7h-9.5M1363.5,1233.8h-5" stroke="#000" stroke-width="1.5" fill="none"/>
<text x="1346.3" y="1178.5" font-size="30.5" text-anchor="end">1</text>
<text x="1344.3" y="1310.2" font-size="30.5" text-anchor="end">0</text>
<rect x="1363.5" y="738.5" width="558.8" height="593.8" fill="none" stroke="#000" stroke-width="1.6"/>
<path d="M1489,1332.3v10.5M1628.6,1332.3v10.5M1768.3,1332.3v10.5M1907.9,1332.3v10.5M1419.2,1332.3v5.5M1558.8,1332.3v5.5M1698.4,1332.3v5.5M1838.1,1332.3v5.5" stroke="#000" stroke-width="1.5" fill="none"/>
<text x="1489" y="1374.5" font-size="30" text-anchor="middle">200</text>
<text x="1628.6" y="1374.5" font-size="30" text-anchor="middle">300</text>
<text x="1768.3" y="1374.5" font-size="30" text-anchor="middle">400</text>
<text x="1907.9" y="1374.5" font-size="30" text-anchor="middle">500</text>
<text x="1643.5" y="1415.3" font-size="33.2" text-anchor="middle">Kinetic Energy (eV)</text>
<text x="1279.6" y="758.9" font-size="41" font-weight="bold">h</text>
<text transform="translate(1313,1217.5) rotate(-90)" font-size="33.2">M / M</text>
<text transform="translate(1323.2,1124.5) rotate(-90)" font-size="20">@470 eV</text>
<text transform="translate(1313,1037.5) rotate(-90)" font-size="33.2" xml:space="preserve"> atomic ratio</text>
</svg>
</body>
</html>
